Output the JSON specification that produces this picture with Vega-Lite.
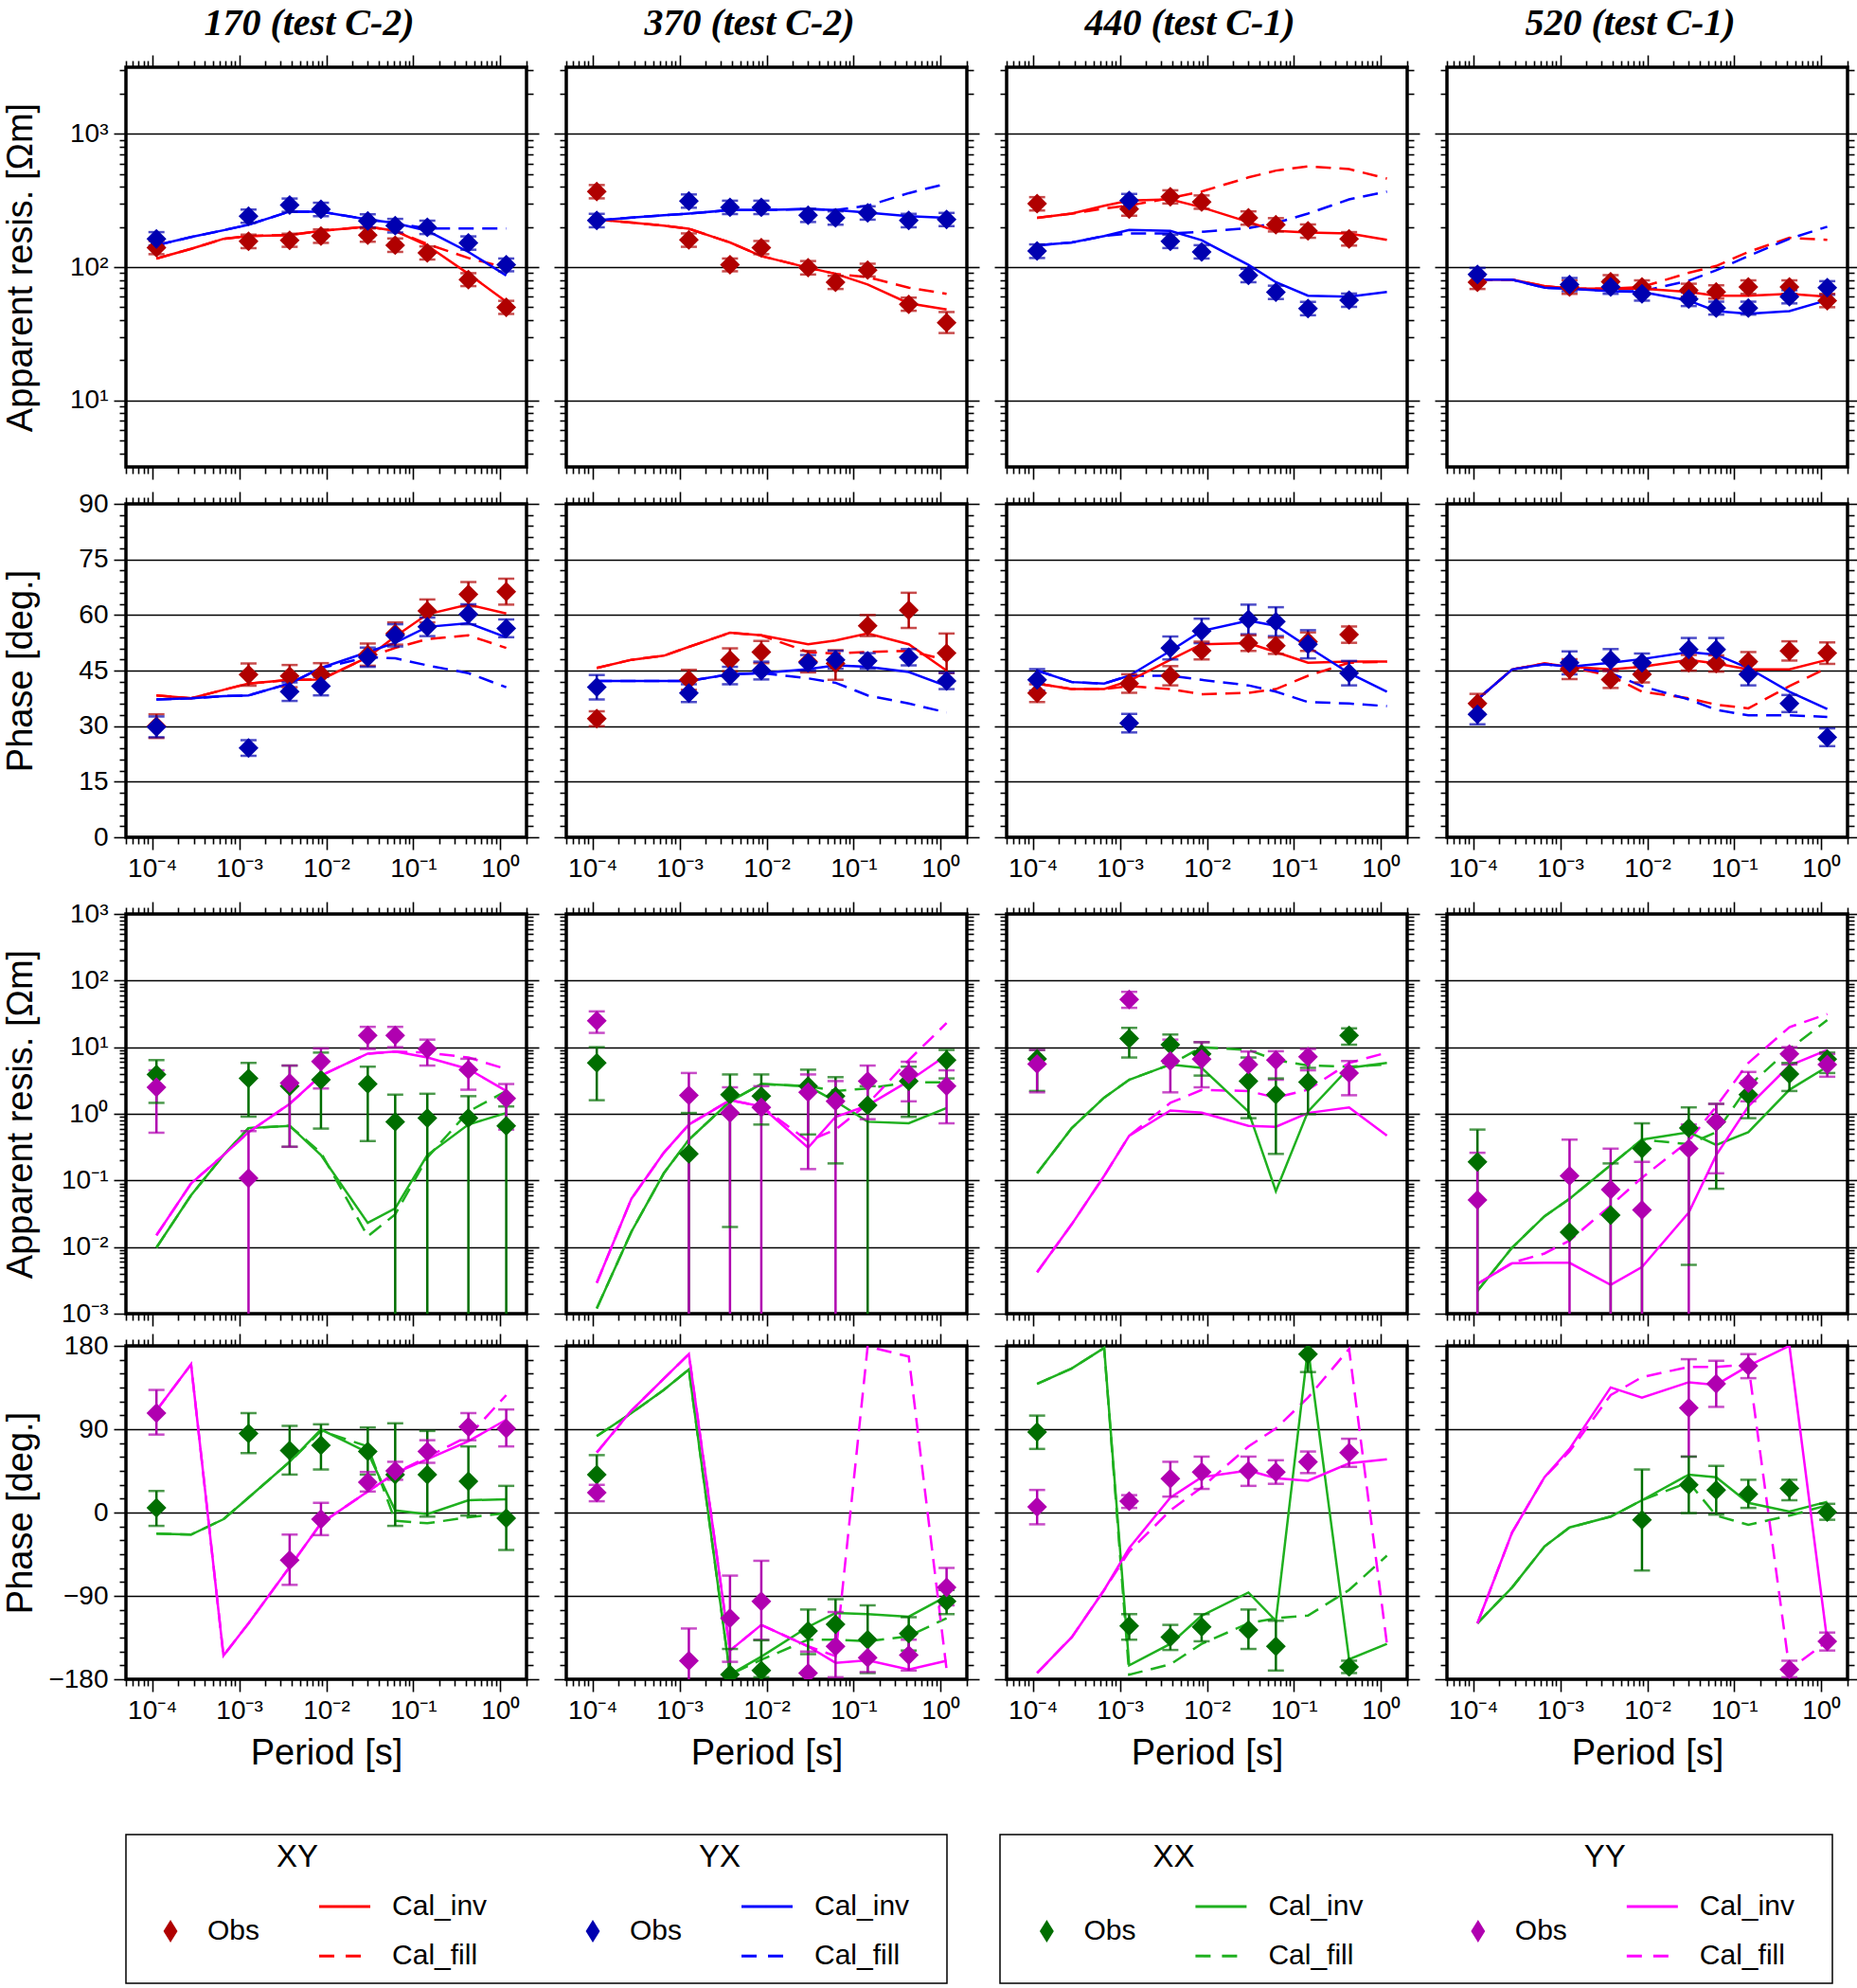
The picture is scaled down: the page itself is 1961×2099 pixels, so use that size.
{
"$schema":"https://vega.github.io/schema/vega-lite/v6.json",
"background":"white",
"padding":{"left":1,"top":3,"right":5,"bottom":0},
"data":{"values":[
{"site":170,"comp":"XY","q":"r","kind":"Obs","T":1.12e-4,"v":140,"lo":125,"hi":157},
{"site":170,"comp":"XY","q":"r","kind":"Obs","T":1.28e-3,"v":156,"lo":139,"hi":175},
{"site":170,"comp":"XY","q":"r","kind":"Obs","T":3.8e-3,"v":159,"lo":142,"hi":178},
{"site":170,"comp":"XY","q":"r","kind":"Obs","T":8.7e-3,"v":171,"lo":152,"hi":192},
{"site":170,"comp":"XY","q":"r","kind":"Obs","T":0.03,"v":174,"lo":155,"hi":195},
{"site":170,"comp":"XY","q":"r","kind":"Obs","T":0.062,"v":146,"lo":130,"hi":164},
{"site":170,"comp":"XY","q":"r","kind":"Obs","T":0.145,"v":128,"lo":114,"hi":143},
{"site":170,"comp":"XY","q":"r","kind":"Obs","T":0.43,"v":80.5,"lo":72,"hi":90},
{"site":170,"comp":"XY","q":"r","kind":"Obs","T":1.17,"v":49.8,"lo":44.5,"hi":55.8},
{"site":170,"comp":"YX","q":"r","kind":"Obs","T":1.12e-4,"v":163,"lo":145,"hi":183},
{"site":170,"comp":"YX","q":"r","kind":"Obs","T":1.28e-3,"v":241,"lo":215,"hi":270},
{"site":170,"comp":"YX","q":"r","kind":"Obs","T":3.8e-3,"v":292,"lo":260,"hi":327},
{"site":170,"comp":"YX","q":"r","kind":"Obs","T":8.7e-3,"v":271,"lo":241,"hi":304},
{"site":170,"comp":"YX","q":"r","kind":"Obs","T":0.03,"v":222,"lo":198,"hi":249},
{"site":170,"comp":"YX","q":"r","kind":"Obs","T":0.062,"v":205,"lo":182,"hi":230},
{"site":170,"comp":"YX","q":"r","kind":"Obs","T":0.145,"v":199,"lo":177,"hi":223},
{"site":170,"comp":"YX","q":"r","kind":"Obs","T":0.43,"v":152,"lo":135,"hi":170},
{"site":170,"comp":"YX","q":"r","kind":"Obs","T":1.17,"v":104,"lo":93,"hi":116},
{"site":170,"comp":"XY","q":"r","kind":"Cal_inv","T":1.12e-4,"v":116},
{"site":170,"comp":"XY","q":"r","kind":"Cal_inv","T":2.8e-4,"v":137},
{"site":170,"comp":"XY","q":"r","kind":"Cal_inv","T":6.6e-4,"v":163},
{"site":170,"comp":"XY","q":"r","kind":"Cal_inv","T":1.28e-3,"v":171},
{"site":170,"comp":"XY","q":"r","kind":"Cal_inv","T":3.8e-3,"v":174},
{"site":170,"comp":"XY","q":"r","kind":"Cal_inv","T":8.7e-3,"v":187},
{"site":170,"comp":"XY","q":"r","kind":"Cal_inv","T":0.03,"v":201},
{"site":170,"comp":"XY","q":"r","kind":"Cal_inv","T":0.062,"v":187},
{"site":170,"comp":"XY","q":"r","kind":"Cal_inv","T":0.145,"v":145},
{"site":170,"comp":"XY","q":"r","kind":"Cal_inv","T":0.43,"v":89},
{"site":170,"comp":"XY","q":"r","kind":"Cal_inv","T":1.17,"v":55},
{"site":170,"comp":"XY","q":"r","kind":"Cal_fill","T":1.12e-4,"v":116},
{"site":170,"comp":"XY","q":"r","kind":"Cal_fill","T":2.8e-4,"v":137},
{"site":170,"comp":"XY","q":"r","kind":"Cal_fill","T":6.6e-4,"v":163},
{"site":170,"comp":"XY","q":"r","kind":"Cal_fill","T":1.28e-3,"v":171},
{"site":170,"comp":"XY","q":"r","kind":"Cal_fill","T":3.8e-3,"v":174},
{"site":170,"comp":"XY","q":"r","kind":"Cal_fill","T":8.7e-3,"v":187},
{"site":170,"comp":"XY","q":"r","kind":"Cal_fill","T":0.03,"v":201},
{"site":170,"comp":"XY","q":"r","kind":"Cal_fill","T":0.062,"v":187},
{"site":170,"comp":"XY","q":"r","kind":"Cal_fill","T":0.145,"v":149},
{"site":170,"comp":"XY","q":"r","kind":"Cal_fill","T":0.43,"v":117},
{"site":170,"comp":"XY","q":"r","kind":"Cal_fill","T":1.17,"v":99},
{"site":170,"comp":"YX","q":"r","kind":"Cal_inv","T":1.12e-4,"v":146},
{"site":170,"comp":"YX","q":"r","kind":"Cal_inv","T":2.8e-4,"v":168},
{"site":170,"comp":"YX","q":"r","kind":"Cal_inv","T":6.6e-4,"v":189},
{"site":170,"comp":"YX","q":"r","kind":"Cal_inv","T":1.28e-3,"v":208},
{"site":170,"comp":"YX","q":"r","kind":"Cal_inv","T":3.8e-3,"v":261},
{"site":170,"comp":"YX","q":"r","kind":"Cal_inv","T":8.7e-3,"v":261},
{"site":170,"comp":"YX","q":"r","kind":"Cal_inv","T":0.03,"v":228},
{"site":170,"comp":"YX","q":"r","kind":"Cal_inv","T":0.062,"v":214},
{"site":170,"comp":"YX","q":"r","kind":"Cal_inv","T":0.145,"v":187},
{"site":170,"comp":"YX","q":"r","kind":"Cal_inv","T":0.43,"v":130},
{"site":170,"comp":"YX","q":"r","kind":"Cal_inv","T":1.17,"v":86.5},
{"site":170,"comp":"YX","q":"r","kind":"Cal_fill","T":1.12e-4,"v":146},
{"site":170,"comp":"YX","q":"r","kind":"Cal_fill","T":2.8e-4,"v":168},
{"site":170,"comp":"YX","q":"r","kind":"Cal_fill","T":6.6e-4,"v":189},
{"site":170,"comp":"YX","q":"r","kind":"Cal_fill","T":1.28e-3,"v":208},
{"site":170,"comp":"YX","q":"r","kind":"Cal_fill","T":3.8e-3,"v":261},
{"site":170,"comp":"YX","q":"r","kind":"Cal_fill","T":8.7e-3,"v":261},
{"site":170,"comp":"YX","q":"r","kind":"Cal_fill","T":0.03,"v":228},
{"site":170,"comp":"YX","q":"r","kind":"Cal_fill","T":0.062,"v":214},
{"site":170,"comp":"YX","q":"r","kind":"Cal_fill","T":0.145,"v":195},
{"site":170,"comp":"YX","q":"r","kind":"Cal_fill","T":0.43,"v":195},
{"site":170,"comp":"YX","q":"r","kind":"Cal_fill","T":1.17,"v":195},
{"site":170,"comp":"XY","q":"p","kind":"Obs","T":1.12e-4,"v":30.0,"lo":26.8,"hi":33.2},
{"site":170,"comp":"XY","q":"p","kind":"Obs","T":1.28e-3,"v":43.9,"lo":40.9,"hi":46.9},
{"site":170,"comp":"XY","q":"p","kind":"Obs","T":3.8e-3,"v":43.5,"lo":40.5,"hi":46.5},
{"site":170,"comp":"XY","q":"p","kind":"Obs","T":8.7e-3,"v":44.0,"lo":41.0,"hi":47.0},
{"site":170,"comp":"XY","q":"p","kind":"Obs","T":0.03,"v":49.3,"lo":46.3,"hi":52.3},
{"site":170,"comp":"XY","q":"p","kind":"Obs","T":0.062,"v":55.0,"lo":52.0,"hi":58.0},
{"site":170,"comp":"XY","q":"p","kind":"Obs","T":0.145,"v":61.1,"lo":58.0,"hi":64.2},
{"site":170,"comp":"XY","q":"p","kind":"Obs","T":0.43,"v":65.6,"lo":62.3,"hi":68.9},
{"site":170,"comp":"XY","q":"p","kind":"Obs","T":1.17,"v":66.3,"lo":62.8,"hi":69.8},
{"site":170,"comp":"YX","q":"p","kind":"Obs","T":1.12e-4,"v":29.8,"lo":27.0,"hi":32.6},
{"site":170,"comp":"YX","q":"p","kind":"Obs","T":1.28e-3,"v":24.1,"lo":22.0,"hi":26.2},
{"site":170,"comp":"YX","q":"p","kind":"Obs","T":3.8e-3,"v":39.3,"lo":36.8,"hi":41.8},
{"site":170,"comp":"YX","q":"p","kind":"Obs","T":8.7e-3,"v":40.8,"lo":38.3,"hi":43.3},
{"site":170,"comp":"YX","q":"p","kind":"Obs","T":0.03,"v":48.6,"lo":46.0,"hi":51.2},
{"site":170,"comp":"YX","q":"p","kind":"Obs","T":0.062,"v":54.5,"lo":51.5,"hi":57.5},
{"site":170,"comp":"YX","q":"p","kind":"Obs","T":0.145,"v":56.8,"lo":54.3,"hi":59.3},
{"site":170,"comp":"YX","q":"p","kind":"Obs","T":0.43,"v":60.2,"lo":57.5,"hi":62.9},
{"site":170,"comp":"YX","q":"p","kind":"Obs","T":1.17,"v":56.4,"lo":54.0,"hi":58.8},
{"site":170,"comp":"XY","q":"p","kind":"Cal_inv","T":1.12e-4,"v":38.3},
{"site":170,"comp":"XY","q":"p","kind":"Cal_inv","T":2.8e-4,"v":37.5},
{"site":170,"comp":"XY","q":"p","kind":"Cal_inv","T":6.6e-4,"v":39.8},
{"site":170,"comp":"XY","q":"p","kind":"Cal_inv","T":1.28e-3,"v":41.5},
{"site":170,"comp":"XY","q":"p","kind":"Cal_inv","T":3.8e-3,"v":42.5},
{"site":170,"comp":"XY","q":"p","kind":"Cal_inv","T":8.7e-3,"v":42.6},
{"site":170,"comp":"XY","q":"p","kind":"Cal_inv","T":0.03,"v":48.6},
{"site":170,"comp":"XY","q":"p","kind":"Cal_inv","T":0.062,"v":54.2},
{"site":170,"comp":"XY","q":"p","kind":"Cal_inv","T":0.145,"v":60.2},
{"site":170,"comp":"XY","q":"p","kind":"Cal_inv","T":0.43,"v":62.8},
{"site":170,"comp":"XY","q":"p","kind":"Cal_inv","T":1.17,"v":60.4},
{"site":170,"comp":"XY","q":"p","kind":"Cal_fill","T":1.12e-4,"v":38.3},
{"site":170,"comp":"XY","q":"p","kind":"Cal_fill","T":2.8e-4,"v":37.5},
{"site":170,"comp":"XY","q":"p","kind":"Cal_fill","T":6.6e-4,"v":39.8},
{"site":170,"comp":"XY","q":"p","kind":"Cal_fill","T":1.28e-3,"v":41.5},
{"site":170,"comp":"XY","q":"p","kind":"Cal_fill","T":3.8e-3,"v":42.5},
{"site":170,"comp":"XY","q":"p","kind":"Cal_fill","T":8.7e-3,"v":42.6},
{"site":170,"comp":"XY","q":"p","kind":"Cal_fill","T":0.03,"v":48.6},
{"site":170,"comp":"XY","q":"p","kind":"Cal_fill","T":0.062,"v":51.1},
{"site":170,"comp":"XY","q":"p","kind":"Cal_fill","T":0.145,"v":53.5},
{"site":170,"comp":"XY","q":"p","kind":"Cal_fill","T":0.43,"v":54.5},
{"site":170,"comp":"XY","q":"p","kind":"Cal_fill","T":1.17,"v":51.1},
{"site":170,"comp":"YX","q":"p","kind":"Cal_inv","T":1.12e-4,"v":37.2},
{"site":170,"comp":"YX","q":"p","kind":"Cal_inv","T":2.8e-4,"v":37.5},
{"site":170,"comp":"YX","q":"p","kind":"Cal_inv","T":6.6e-4,"v":38.1},
{"site":170,"comp":"YX","q":"p","kind":"Cal_inv","T":1.28e-3,"v":38.3},
{"site":170,"comp":"YX","q":"p","kind":"Cal_inv","T":3.8e-3,"v":41.5},
{"site":170,"comp":"YX","q":"p","kind":"Cal_inv","T":8.7e-3,"v":45.7},
{"site":170,"comp":"YX","q":"p","kind":"Cal_inv","T":0.03,"v":50.0},
{"site":170,"comp":"YX","q":"p","kind":"Cal_inv","T":0.062,"v":52.5},
{"site":170,"comp":"YX","q":"p","kind":"Cal_inv","T":0.145,"v":56.8},
{"site":170,"comp":"YX","q":"p","kind":"Cal_inv","T":0.43,"v":57.8},
{"site":170,"comp":"YX","q":"p","kind":"Cal_inv","T":1.17,"v":54.0},
{"site":170,"comp":"YX","q":"p","kind":"Cal_fill","T":1.12e-4,"v":37.2},
{"site":170,"comp":"YX","q":"p","kind":"Cal_fill","T":2.8e-4,"v":37.5},
{"site":170,"comp":"YX","q":"p","kind":"Cal_fill","T":6.6e-4,"v":38.1},
{"site":170,"comp":"YX","q":"p","kind":"Cal_fill","T":1.28e-3,"v":38.3},
{"site":170,"comp":"YX","q":"p","kind":"Cal_fill","T":3.8e-3,"v":41.5},
{"site":170,"comp":"YX","q":"p","kind":"Cal_fill","T":8.7e-3,"v":45.7},
{"site":170,"comp":"YX","q":"p","kind":"Cal_fill","T":0.03,"v":48.6},
{"site":170,"comp":"YX","q":"p","kind":"Cal_fill","T":0.062,"v":48.3},
{"site":170,"comp":"YX","q":"p","kind":"Cal_fill","T":0.145,"v":46.4},
{"site":170,"comp":"YX","q":"p","kind":"Cal_fill","T":0.43,"v":44.3},
{"site":170,"comp":"YX","q":"p","kind":"Cal_fill","T":1.17,"v":40.5},
{"site":370,"comp":"XY","q":"r","kind":"Obs","T":1.12e-4,"v":369,"lo":328,"hi":413},
{"site":370,"comp":"XY","q":"r","kind":"Obs","T":1.28e-3,"v":160,"lo":142,"hi":179},
{"site":370,"comp":"XY","q":"r","kind":"Obs","T":3.8e-3,"v":104,"lo":93,"hi":116},
{"site":370,"comp":"XY","q":"r","kind":"Obs","T":8.7e-3,"v":140,"lo":125,"hi":157},
{"site":370,"comp":"XY","q":"r","kind":"Obs","T":0.03,"v":99,"lo":88,"hi":111},
{"site":370,"comp":"XY","q":"r","kind":"Obs","T":0.062,"v":77,"lo":68.5,"hi":86},
{"site":370,"comp":"XY","q":"r","kind":"Obs","T":0.145,"v":95,"lo":85,"hi":106},
{"site":370,"comp":"XY","q":"r","kind":"Obs","T":0.43,"v":52.5,"lo":47,"hi":59},
{"site":370,"comp":"XY","q":"r","kind":"Obs","T":1.17,"v":38.3,"lo":32,"hi":46},
{"site":370,"comp":"YX","q":"r","kind":"Obs","T":1.12e-4,"v":224,"lo":199,"hi":251},
{"site":370,"comp":"YX","q":"r","kind":"Obs","T":1.28e-3,"v":313,"lo":279,"hi":351},
{"site":370,"comp":"YX","q":"r","kind":"Obs","T":3.8e-3,"v":281,"lo":250,"hi":315},
{"site":370,"comp":"YX","q":"r","kind":"Obs","T":8.7e-3,"v":281,"lo":250,"hi":315},
{"site":370,"comp":"YX","q":"r","kind":"Obs","T":0.03,"v":245,"lo":218,"hi":274},
{"site":370,"comp":"YX","q":"r","kind":"Obs","T":0.062,"v":234,"lo":208,"hi":262},
{"site":370,"comp":"YX","q":"r","kind":"Obs","T":0.145,"v":255,"lo":227,"hi":286},
{"site":370,"comp":"YX","q":"r","kind":"Obs","T":0.43,"v":224,"lo":199,"hi":251},
{"site":370,"comp":"YX","q":"r","kind":"Obs","T":1.17,"v":228,"lo":203,"hi":255},
{"site":370,"comp":"XY","q":"r","kind":"Cal_inv","T":1.12e-4,"v":228},
{"site":370,"comp":"XY","q":"r","kind":"Cal_inv","T":2.8e-4,"v":216},
{"site":370,"comp":"XY","q":"r","kind":"Cal_inv","T":6.6e-4,"v":205},
{"site":370,"comp":"XY","q":"r","kind":"Cal_inv","T":1.28e-3,"v":194},
{"site":370,"comp":"XY","q":"r","kind":"Cal_inv","T":3.8e-3,"v":153},
{"site":370,"comp":"XY","q":"r","kind":"Cal_inv","T":8.7e-3,"v":121},
{"site":370,"comp":"XY","q":"r","kind":"Cal_inv","T":0.03,"v":99},
{"site":370,"comp":"XY","q":"r","kind":"Cal_inv","T":0.062,"v":89},
{"site":370,"comp":"XY","q":"r","kind":"Cal_inv","T":0.145,"v":74},
{"site":370,"comp":"XY","q":"r","kind":"Cal_inv","T":0.43,"v":53.5},
{"site":370,"comp":"XY","q":"r","kind":"Cal_inv","T":1.17,"v":48},
{"site":370,"comp":"XY","q":"r","kind":"Cal_fill","T":1.12e-4,"v":228},
{"site":370,"comp":"XY","q":"r","kind":"Cal_fill","T":2.8e-4,"v":216},
{"site":370,"comp":"XY","q":"r","kind":"Cal_fill","T":6.6e-4,"v":205},
{"site":370,"comp":"XY","q":"r","kind":"Cal_fill","T":1.28e-3,"v":194},
{"site":370,"comp":"XY","q":"r","kind":"Cal_fill","T":3.8e-3,"v":153},
{"site":370,"comp":"XY","q":"r","kind":"Cal_fill","T":8.7e-3,"v":121},
{"site":370,"comp":"XY","q":"r","kind":"Cal_fill","T":0.03,"v":99},
{"site":370,"comp":"XY","q":"r","kind":"Cal_fill","T":0.062,"v":89},
{"site":370,"comp":"XY","q":"r","kind":"Cal_fill","T":0.145,"v":84},
{"site":370,"comp":"XY","q":"r","kind":"Cal_fill","T":0.43,"v":70},
{"site":370,"comp":"XY","q":"r","kind":"Cal_fill","T":1.17,"v":63},
{"site":370,"comp":"YX","q":"r","kind":"Cal_inv","T":1.12e-4,"v":224},
{"site":370,"comp":"YX","q":"r","kind":"Cal_inv","T":2.8e-4,"v":235},
{"site":370,"comp":"YX","q":"r","kind":"Cal_inv","T":6.6e-4,"v":245},
{"site":370,"comp":"YX","q":"r","kind":"Cal_inv","T":1.28e-3,"v":252},
{"site":370,"comp":"YX","q":"r","kind":"Cal_inv","T":3.8e-3,"v":268},
{"site":370,"comp":"YX","q":"r","kind":"Cal_inv","T":8.7e-3,"v":268},
{"site":370,"comp":"YX","q":"r","kind":"Cal_inv","T":0.03,"v":273},
{"site":370,"comp":"YX","q":"r","kind":"Cal_inv","T":0.062,"v":268},
{"site":370,"comp":"YX","q":"r","kind":"Cal_inv","T":0.145,"v":256},
{"site":370,"comp":"YX","q":"r","kind":"Cal_inv","T":0.43,"v":241},
{"site":370,"comp":"YX","q":"r","kind":"Cal_inv","T":1.17,"v":234},
{"site":370,"comp":"YX","q":"r","kind":"Cal_fill","T":1.12e-4,"v":224},
{"site":370,"comp":"YX","q":"r","kind":"Cal_fill","T":2.8e-4,"v":235},
{"site":370,"comp":"YX","q":"r","kind":"Cal_fill","T":6.6e-4,"v":245},
{"site":370,"comp":"YX","q":"r","kind":"Cal_fill","T":1.28e-3,"v":252},
{"site":370,"comp":"YX","q":"r","kind":"Cal_fill","T":3.8e-3,"v":268},
{"site":370,"comp":"YX","q":"r","kind":"Cal_fill","T":8.7e-3,"v":268},
{"site":370,"comp":"YX","q":"r","kind":"Cal_fill","T":0.03,"v":273},
{"site":370,"comp":"YX","q":"r","kind":"Cal_fill","T":0.062,"v":268},
{"site":370,"comp":"YX","q":"r","kind":"Cal_fill","T":0.145,"v":289},
{"site":370,"comp":"YX","q":"r","kind":"Cal_fill","T":0.43,"v":359},
{"site":370,"comp":"YX","q":"r","kind":"Cal_fill","T":1.17,"v":423},
{"site":370,"comp":"XY","q":"p","kind":"Obs","T":1.12e-4,"v":32.0,"lo":30.0,"hi":34.0},
{"site":370,"comp":"XY","q":"p","kind":"Obs","T":1.28e-3,"v":42.5,"lo":39.8,"hi":45.2},
{"site":370,"comp":"XY","q":"p","kind":"Obs","T":3.8e-3,"v":47.9,"lo":44.8,"hi":51.0},
{"site":370,"comp":"XY","q":"p","kind":"Obs","T":8.7e-3,"v":50.0,"lo":47.0,"hi":53.0},
{"site":370,"comp":"XY","q":"p","kind":"Obs","T":0.03,"v":47.4,"lo":44.5,"hi":50.3},
{"site":370,"comp":"XY","q":"p","kind":"Obs","T":0.062,"v":46.9,"lo":42.5,"hi":50.5},
{"site":370,"comp":"XY","q":"p","kind":"Obs","T":0.145,"v":57.1,"lo":54.3,"hi":60.0},
{"site":370,"comp":"XY","q":"p","kind":"Obs","T":0.43,"v":61.3,"lo":56.5,"hi":66.0},
{"site":370,"comp":"XY","q":"p","kind":"Obs","T":1.17,"v":49.7,"lo":44.3,"hi":55.0},
{"site":370,"comp":"YX","q":"p","kind":"Obs","T":1.12e-4,"v":40.5,"lo":37.2,"hi":43.8},
{"site":370,"comp":"YX","q":"p","kind":"Obs","T":1.28e-3,"v":38.9,"lo":36.5,"hi":41.3},
{"site":370,"comp":"YX","q":"p","kind":"Obs","T":3.8e-3,"v":43.6,"lo":41.3,"hi":46.0},
{"site":370,"comp":"YX","q":"p","kind":"Obs","T":8.7e-3,"v":45.0,"lo":42.6,"hi":47.4},
{"site":370,"comp":"YX","q":"p","kind":"Obs","T":0.03,"v":47.1,"lo":45.0,"hi":49.2},
{"site":370,"comp":"YX","q":"p","kind":"Obs","T":0.062,"v":47.9,"lo":45.5,"hi":50.3},
{"site":370,"comp":"YX","q":"p","kind":"Obs","T":0.145,"v":47.6,"lo":45.5,"hi":49.7},
{"site":370,"comp":"YX","q":"p","kind":"Obs","T":0.43,"v":48.6,"lo":46.4,"hi":50.8},
{"site":370,"comp":"YX","q":"p","kind":"Obs","T":1.17,"v":42.2,"lo":40.0,"hi":44.4},
{"site":370,"comp":"XY","q":"p","kind":"Cal_inv","T":1.12e-4,"v":45.7},
{"site":370,"comp":"XY","q":"p","kind":"Cal_inv","T":2.8e-4,"v":47.9},
{"site":370,"comp":"XY","q":"p","kind":"Cal_inv","T":6.6e-4,"v":49.0},
{"site":370,"comp":"XY","q":"p","kind":"Cal_inv","T":1.28e-3,"v":51.4},
{"site":370,"comp":"XY","q":"p","kind":"Cal_inv","T":3.8e-3,"v":55.2},
{"site":370,"comp":"XY","q":"p","kind":"Cal_inv","T":8.7e-3,"v":54.5},
{"site":370,"comp":"XY","q":"p","kind":"Cal_inv","T":0.03,"v":52.1},
{"site":370,"comp":"XY","q":"p","kind":"Cal_inv","T":0.062,"v":53.1},
{"site":370,"comp":"XY","q":"p","kind":"Cal_inv","T":0.145,"v":55.0},
{"site":370,"comp":"XY","q":"p","kind":"Cal_inv","T":0.43,"v":52.1},
{"site":370,"comp":"XY","q":"p","kind":"Cal_inv","T":1.17,"v":45.0},
{"site":370,"comp":"XY","q":"p","kind":"Cal_fill","T":1.12e-4,"v":45.7},
{"site":370,"comp":"XY","q":"p","kind":"Cal_fill","T":2.8e-4,"v":47.9},
{"site":370,"comp":"XY","q":"p","kind":"Cal_fill","T":6.6e-4,"v":49.0},
{"site":370,"comp":"XY","q":"p","kind":"Cal_fill","T":1.28e-3,"v":51.4},
{"site":370,"comp":"XY","q":"p","kind":"Cal_fill","T":3.8e-3,"v":55.2},
{"site":370,"comp":"XY","q":"p","kind":"Cal_fill","T":8.7e-3,"v":54.5},
{"site":370,"comp":"XY","q":"p","kind":"Cal_fill","T":0.03,"v":50.0},
{"site":370,"comp":"XY","q":"p","kind":"Cal_fill","T":0.062,"v":49.6},
{"site":370,"comp":"XY","q":"p","kind":"Cal_fill","T":0.145,"v":50.0},
{"site":370,"comp":"XY","q":"p","kind":"Cal_fill","T":0.43,"v":50.3},
{"site":370,"comp":"XY","q":"p","kind":"Cal_fill","T":1.17,"v":47.9},
{"site":370,"comp":"YX","q":"p","kind":"Cal_inv","T":1.12e-4,"v":42.2},
{"site":370,"comp":"YX","q":"p","kind":"Cal_inv","T":2.8e-4,"v":42.2},
{"site":370,"comp":"YX","q":"p","kind":"Cal_inv","T":6.6e-4,"v":42.2},
{"site":370,"comp":"YX","q":"p","kind":"Cal_inv","T":1.28e-3,"v":42.2},
{"site":370,"comp":"YX","q":"p","kind":"Cal_inv","T":3.8e-3,"v":44.0},
{"site":370,"comp":"YX","q":"p","kind":"Cal_inv","T":8.7e-3,"v":44.3},
{"site":370,"comp":"YX","q":"p","kind":"Cal_inv","T":0.03,"v":45.4},
{"site":370,"comp":"YX","q":"p","kind":"Cal_inv","T":0.062,"v":46.4},
{"site":370,"comp":"YX","q":"p","kind":"Cal_inv","T":0.145,"v":46.0},
{"site":370,"comp":"YX","q":"p","kind":"Cal_inv","T":0.43,"v":44.6},
{"site":370,"comp":"YX","q":"p","kind":"Cal_inv","T":1.17,"v":40.8},
{"site":370,"comp":"YX","q":"p","kind":"Cal_fill","T":1.12e-4,"v":42.2},
{"site":370,"comp":"YX","q":"p","kind":"Cal_fill","T":2.8e-4,"v":42.2},
{"site":370,"comp":"YX","q":"p","kind":"Cal_fill","T":6.6e-4,"v":42.2},
{"site":370,"comp":"YX","q":"p","kind":"Cal_fill","T":1.28e-3,"v":42.2},
{"site":370,"comp":"YX","q":"p","kind":"Cal_fill","T":3.8e-3,"v":44.0},
{"site":370,"comp":"YX","q":"p","kind":"Cal_fill","T":8.7e-3,"v":44.3},
{"site":370,"comp":"YX","q":"p","kind":"Cal_fill","T":0.03,"v":42.9},
{"site":370,"comp":"YX","q":"p","kind":"Cal_fill","T":0.062,"v":41.7},
{"site":370,"comp":"YX","q":"p","kind":"Cal_fill","T":0.145,"v":38.3},
{"site":370,"comp":"YX","q":"p","kind":"Cal_fill","T":0.43,"v":36.1},
{"site":370,"comp":"YX","q":"p","kind":"Cal_fill","T":1.17,"v":33.7},
{"site":440,"comp":"XY","q":"r","kind":"Obs","T":1.12e-4,"v":299,"lo":266,"hi":335},
{"site":440,"comp":"XY","q":"r","kind":"Obs","T":1.28e-3,"v":273,"lo":243,"hi":306},
{"site":440,"comp":"XY","q":"r","kind":"Obs","T":3.8e-3,"v":337,"lo":300,"hi":377},
{"site":440,"comp":"XY","q":"r","kind":"Obs","T":8.7e-3,"v":308,"lo":274,"hi":345},
{"site":440,"comp":"XY","q":"r","kind":"Obs","T":0.03,"v":234,"lo":208,"hi":262},
{"site":440,"comp":"XY","q":"r","kind":"Obs","T":0.062,"v":208,"lo":185,"hi":233},
{"site":440,"comp":"XY","q":"r","kind":"Obs","T":0.145,"v":187,"lo":166,"hi":209},
{"site":440,"comp":"XY","q":"r","kind":"Obs","T":0.43,"v":163,"lo":145,"hi":183},
{"site":440,"comp":"YX","q":"r","kind":"Obs","T":1.12e-4,"v":132,"lo":117,"hi":148},
{"site":440,"comp":"YX","q":"r","kind":"Obs","T":1.28e-3,"v":316,"lo":281,"hi":354},
{"site":440,"comp":"YX","q":"r","kind":"Obs","T":3.8e-3,"v":156,"lo":139,"hi":175},
{"site":440,"comp":"YX","q":"r","kind":"Obs","T":8.7e-3,"v":130,"lo":116,"hi":146},
{"site":440,"comp":"YX","q":"r","kind":"Obs","T":0.03,"v":86.5,"lo":77,"hi":97},
{"site":440,"comp":"YX","q":"r","kind":"Obs","T":0.062,"v":64.7,"lo":57.6,"hi":72.5},
{"site":440,"comp":"YX","q":"r","kind":"Obs","T":0.145,"v":48.9,"lo":43.5,"hi":54.8},
{"site":440,"comp":"YX","q":"r","kind":"Obs","T":0.43,"v":56.5,"lo":50.3,"hi":63.3},
{"site":440,"comp":"XY","q":"r","kind":"Cal_inv","T":1.12e-4,"v":234},
{"site":440,"comp":"XY","q":"r","kind":"Cal_inv","T":2.8e-4,"v":252},
{"site":440,"comp":"XY","q":"r","kind":"Cal_inv","T":6.6e-4,"v":289},
{"site":440,"comp":"XY","q":"r","kind":"Cal_inv","T":1.28e-3,"v":316},
{"site":440,"comp":"XY","q":"r","kind":"Cal_inv","T":3.8e-3,"v":322},
{"site":440,"comp":"XY","q":"r","kind":"Cal_inv","T":8.7e-3,"v":281},
{"site":440,"comp":"XY","q":"r","kind":"Cal_inv","T":0.03,"v":218},
{"site":440,"comp":"XY","q":"r","kind":"Cal_inv","T":0.062,"v":187},
{"site":440,"comp":"XY","q":"r","kind":"Cal_inv","T":0.145,"v":182},
{"site":440,"comp":"XY","q":"r","kind":"Cal_inv","T":0.43,"v":179},
{"site":440,"comp":"XY","q":"r","kind":"Cal_inv","T":1.17,"v":160},
{"site":440,"comp":"XY","q":"r","kind":"Cal_fill","T":1.12e-4,"v":234},
{"site":440,"comp":"XY","q":"r","kind":"Cal_fill","T":2.8e-4,"v":252},
{"site":440,"comp":"XY","q":"r","kind":"Cal_fill","T":6.6e-4,"v":275},
{"site":440,"comp":"XY","q":"r","kind":"Cal_fill","T":1.28e-3,"v":290},
{"site":440,"comp":"XY","q":"r","kind":"Cal_fill","T":3.8e-3,"v":330},
{"site":440,"comp":"XY","q":"r","kind":"Cal_fill","T":8.7e-3,"v":369},
{"site":440,"comp":"XY","q":"r","kind":"Cal_fill","T":0.03,"v":471},
{"site":440,"comp":"XY","q":"r","kind":"Cal_fill","T":0.062,"v":530},
{"site":440,"comp":"XY","q":"r","kind":"Cal_fill","T":0.145,"v":570},
{"site":440,"comp":"XY","q":"r","kind":"Cal_fill","T":0.43,"v":544},
{"site":440,"comp":"XY","q":"r","kind":"Cal_fill","T":1.17,"v":462},
{"site":440,"comp":"YX","q":"r","kind":"Cal_inv","T":1.12e-4,"v":146},
{"site":440,"comp":"YX","q":"r","kind":"Cal_inv","T":2.8e-4,"v":153},
{"site":440,"comp":"YX","q":"r","kind":"Cal_inv","T":6.6e-4,"v":171},
{"site":440,"comp":"YX","q":"r","kind":"Cal_inv","T":1.28e-3,"v":190},
{"site":440,"comp":"YX","q":"r","kind":"Cal_inv","T":3.8e-3,"v":187},
{"site":440,"comp":"YX","q":"r","kind":"Cal_inv","T":8.7e-3,"v":159},
{"site":440,"comp":"YX","q":"r","kind":"Cal_inv","T":0.03,"v":104},
{"site":440,"comp":"YX","q":"r","kind":"Cal_inv","T":0.062,"v":77},
{"site":440,"comp":"YX","q":"r","kind":"Cal_inv","T":0.145,"v":61},
{"site":440,"comp":"YX","q":"r","kind":"Cal_inv","T":0.43,"v":60},
{"site":440,"comp":"YX","q":"r","kind":"Cal_inv","T":1.17,"v":65},
{"site":440,"comp":"YX","q":"r","kind":"Cal_fill","T":1.12e-4,"v":146},
{"site":440,"comp":"YX","q":"r","kind":"Cal_fill","T":2.8e-4,"v":153},
{"site":440,"comp":"YX","q":"r","kind":"Cal_fill","T":6.6e-4,"v":171},
{"site":440,"comp":"YX","q":"r","kind":"Cal_fill","T":1.28e-3,"v":179},
{"site":440,"comp":"YX","q":"r","kind":"Cal_fill","T":3.8e-3,"v":179},
{"site":440,"comp":"YX","q":"r","kind":"Cal_fill","T":8.7e-3,"v":184},
{"site":440,"comp":"YX","q":"r","kind":"Cal_fill","T":0.03,"v":196},
{"site":440,"comp":"YX","q":"r","kind":"Cal_fill","T":0.062,"v":214},
{"site":440,"comp":"YX","q":"r","kind":"Cal_fill","T":0.145,"v":252},
{"site":440,"comp":"YX","q":"r","kind":"Cal_fill","T":0.43,"v":322},
{"site":440,"comp":"YX","q":"r","kind":"Cal_fill","T":1.17,"v":369},
{"site":440,"comp":"XY","q":"p","kind":"Obs","T":1.12e-4,"v":38.9,"lo":36.5,"hi":41.3},
{"site":440,"comp":"XY","q":"p","kind":"Obs","T":1.28e-3,"v":41.5,"lo":39.0,"hi":44.0},
{"site":440,"comp":"XY","q":"p","kind":"Obs","T":3.8e-3,"v":43.6,"lo":41.0,"hi":46.2},
{"site":440,"comp":"XY","q":"p","kind":"Obs","T":8.7e-3,"v":50.4,"lo":48.0,"hi":52.8},
{"site":440,"comp":"XY","q":"p","kind":"Obs","T":0.03,"v":52.4,"lo":50.3,"hi":54.5},
{"site":440,"comp":"XY","q":"p","kind":"Obs","T":0.062,"v":51.7,"lo":49.5,"hi":53.9},
{"site":440,"comp":"XY","q":"p","kind":"Obs","T":0.145,"v":52.8,"lo":50.3,"hi":55.3},
{"site":440,"comp":"XY","q":"p","kind":"Obs","T":0.43,"v":54.7,"lo":52.5,"hi":56.9},
{"site":440,"comp":"YX","q":"p","kind":"Obs","T":1.12e-4,"v":42.5,"lo":39.6,"hi":45.4},
{"site":440,"comp":"YX","q":"p","kind":"Obs","T":1.28e-3,"v":30.8,"lo":28.3,"hi":33.3},
{"site":440,"comp":"YX","q":"p","kind":"Obs","T":3.8e-3,"v":51.1,"lo":48.0,"hi":54.2},
{"site":440,"comp":"YX","q":"p","kind":"Obs","T":8.7e-3,"v":55.7,"lo":52.4,"hi":59.0},
{"site":440,"comp":"YX","q":"p","kind":"Obs","T":0.03,"v":58.8,"lo":54.8,"hi":62.8},
{"site":440,"comp":"YX","q":"p","kind":"Obs","T":0.062,"v":58.2,"lo":54.3,"hi":62.1},
{"site":440,"comp":"YX","q":"p","kind":"Obs","T":0.145,"v":52.1,"lo":48.3,"hi":55.9},
{"site":440,"comp":"YX","q":"p","kind":"Obs","T":0.43,"v":44.3,"lo":41.0,"hi":47.6},
{"site":440,"comp":"XY","q":"p","kind":"Cal_inv","T":1.12e-4,"v":41.5},
{"site":440,"comp":"XY","q":"p","kind":"Cal_inv","T":2.8e-4,"v":40.0},
{"site":440,"comp":"XY","q":"p","kind":"Cal_inv","T":6.6e-4,"v":40.0},
{"site":440,"comp":"XY","q":"p","kind":"Cal_inv","T":1.28e-3,"v":42.2},
{"site":440,"comp":"XY","q":"p","kind":"Cal_inv","T":3.8e-3,"v":47.9},
{"site":440,"comp":"XY","q":"p","kind":"Cal_inv","T":8.7e-3,"v":52.1},
{"site":440,"comp":"XY","q":"p","kind":"Cal_inv","T":0.03,"v":52.4},
{"site":440,"comp":"XY","q":"p","kind":"Cal_inv","T":0.062,"v":50.0},
{"site":440,"comp":"XY","q":"p","kind":"Cal_inv","T":0.145,"v":47.1},
{"site":440,"comp":"XY","q":"p","kind":"Cal_inv","T":0.43,"v":47.4},
{"site":440,"comp":"XY","q":"p","kind":"Cal_inv","T":1.17,"v":47.4},
{"site":440,"comp":"XY","q":"p","kind":"Cal_fill","T":1.12e-4,"v":41.5},
{"site":440,"comp":"XY","q":"p","kind":"Cal_fill","T":2.8e-4,"v":40.0},
{"site":440,"comp":"XY","q":"p","kind":"Cal_fill","T":6.6e-4,"v":40.0},
{"site":440,"comp":"XY","q":"p","kind":"Cal_fill","T":1.28e-3,"v":40.8},
{"site":440,"comp":"XY","q":"p","kind":"Cal_fill","T":3.8e-3,"v":40.0},
{"site":440,"comp":"XY","q":"p","kind":"Cal_fill","T":8.7e-3,"v":38.6},
{"site":440,"comp":"XY","q":"p","kind":"Cal_fill","T":0.03,"v":39.0},
{"site":440,"comp":"XY","q":"p","kind":"Cal_fill","T":0.062,"v":40.0},
{"site":440,"comp":"XY","q":"p","kind":"Cal_fill","T":0.145,"v":43.6},
{"site":440,"comp":"XY","q":"p","kind":"Cal_fill","T":0.43,"v":47.1},
{"site":440,"comp":"XY","q":"p","kind":"Cal_fill","T":1.17,"v":47.4},
{"site":440,"comp":"YX","q":"p","kind":"Cal_inv","T":1.12e-4,"v":45.0},
{"site":440,"comp":"YX","q":"p","kind":"Cal_inv","T":2.8e-4,"v":41.9},
{"site":440,"comp":"YX","q":"p","kind":"Cal_inv","T":6.6e-4,"v":41.5},
{"site":440,"comp":"YX","q":"p","kind":"Cal_inv","T":1.28e-3,"v":43.6},
{"site":440,"comp":"YX","q":"p","kind":"Cal_inv","T":3.8e-3,"v":50.3},
{"site":440,"comp":"YX","q":"p","kind":"Cal_inv","T":8.7e-3,"v":55.7},
{"site":440,"comp":"YX","q":"p","kind":"Cal_inv","T":0.03,"v":58.5},
{"site":440,"comp":"YX","q":"p","kind":"Cal_inv","T":0.062,"v":57.1},
{"site":440,"comp":"YX","q":"p","kind":"Cal_inv","T":0.145,"v":51.4},
{"site":440,"comp":"YX","q":"p","kind":"Cal_inv","T":0.43,"v":44.3},
{"site":440,"comp":"YX","q":"p","kind":"Cal_inv","T":1.17,"v":39.3},
{"site":440,"comp":"YX","q":"p","kind":"Cal_fill","T":1.12e-4,"v":45.0},
{"site":440,"comp":"YX","q":"p","kind":"Cal_fill","T":2.8e-4,"v":41.9},
{"site":440,"comp":"YX","q":"p","kind":"Cal_fill","T":6.6e-4,"v":41.5},
{"site":440,"comp":"YX","q":"p","kind":"Cal_fill","T":1.28e-3,"v":43.6},
{"site":440,"comp":"YX","q":"p","kind":"Cal_fill","T":3.8e-3,"v":43.6},
{"site":440,"comp":"YX","q":"p","kind":"Cal_fill","T":8.7e-3,"v":42.5},
{"site":440,"comp":"YX","q":"p","kind":"Cal_fill","T":0.03,"v":41.0},
{"site":440,"comp":"YX","q":"p","kind":"Cal_fill","T":0.062,"v":39.3},
{"site":440,"comp":"YX","q":"p","kind":"Cal_fill","T":0.145,"v":36.5},
{"site":440,"comp":"YX","q":"p","kind":"Cal_fill","T":0.43,"v":36.1},
{"site":440,"comp":"YX","q":"p","kind":"Cal_fill","T":1.17,"v":35.4},
{"site":520,"comp":"XY","q":"r","kind":"Obs","T":1.12e-4,"v":77,"lo":68.5,"hi":86},
{"site":520,"comp":"XY","q":"r","kind":"Obs","T":1.28e-3,"v":71,"lo":63,"hi":79.5},
{"site":520,"comp":"XY","q":"r","kind":"Obs","T":3.8e-3,"v":77.6,"lo":69,"hi":87},
{"site":520,"comp":"XY","q":"r","kind":"Obs","T":8.7e-3,"v":71,"lo":63,"hi":79.5},
{"site":520,"comp":"XY","q":"r","kind":"Obs","T":0.03,"v":67,"lo":60,"hi":75},
{"site":520,"comp":"XY","q":"r","kind":"Obs","T":0.062,"v":65,"lo":58,"hi":73},
{"site":520,"comp":"XY","q":"r","kind":"Obs","T":0.145,"v":71,"lo":63,"hi":79.5},
{"site":520,"comp":"XY","q":"r","kind":"Obs","T":0.43,"v":71,"lo":63,"hi":79.5},
{"site":520,"comp":"XY","q":"r","kind":"Obs","T":1.17,"v":56,"lo":50,"hi":63},
{"site":520,"comp":"YX","q":"r","kind":"Obs","T":1.12e-4,"v":88,"lo":78,"hi":98.5},
{"site":520,"comp":"YX","q":"r","kind":"Obs","T":1.28e-3,"v":74,"lo":66,"hi":83},
{"site":520,"comp":"YX","q":"r","kind":"Obs","T":3.8e-3,"v":71,"lo":63,"hi":79.5},
{"site":520,"comp":"YX","q":"r","kind":"Obs","T":8.7e-3,"v":63,"lo":56,"hi":70.5},
{"site":520,"comp":"YX","q":"r","kind":"Obs","T":0.03,"v":57.5,"lo":51,"hi":64.4},
{"site":520,"comp":"YX","q":"r","kind":"Obs","T":0.062,"v":49.3,"lo":44,"hi":55},
{"site":520,"comp":"YX","q":"r","kind":"Obs","T":0.145,"v":49.3,"lo":44,"hi":55},
{"site":520,"comp":"YX","q":"r","kind":"Obs","T":0.43,"v":60,"lo":53.4,"hi":67},
{"site":520,"comp":"YX","q":"r","kind":"Obs","T":1.17,"v":70,"lo":62,"hi":78.4},
{"site":520,"comp":"XY","q":"r","kind":"Cal_inv","T":1.12e-4,"v":80.5},
{"site":520,"comp":"XY","q":"r","kind":"Cal_inv","T":2.8e-4,"v":80.5},
{"site":520,"comp":"XY","q":"r","kind":"Cal_inv","T":6.6e-4,"v":72},
{"site":520,"comp":"XY","q":"r","kind":"Cal_inv","T":1.28e-3,"v":69},
{"site":520,"comp":"XY","q":"r","kind":"Cal_inv","T":3.8e-3,"v":69},
{"site":520,"comp":"XY","q":"r","kind":"Cal_inv","T":8.7e-3,"v":69},
{"site":520,"comp":"XY","q":"r","kind":"Cal_inv","T":0.03,"v":65},
{"site":520,"comp":"XY","q":"r","kind":"Cal_inv","T":0.062,"v":61},
{"site":520,"comp":"XY","q":"r","kind":"Cal_inv","T":0.145,"v":61},
{"site":520,"comp":"XY","q":"r","kind":"Cal_inv","T":0.43,"v":63},
{"site":520,"comp":"XY","q":"r","kind":"Cal_inv","T":1.17,"v":60},
{"site":520,"comp":"XY","q":"r","kind":"Cal_fill","T":1.12e-4,"v":80.5},
{"site":520,"comp":"XY","q":"r","kind":"Cal_fill","T":2.8e-4,"v":80.5},
{"site":520,"comp":"XY","q":"r","kind":"Cal_fill","T":6.6e-4,"v":72},
{"site":520,"comp":"XY","q":"r","kind":"Cal_fill","T":1.28e-3,"v":69},
{"site":520,"comp":"XY","q":"r","kind":"Cal_fill","T":3.8e-3,"v":69},
{"site":520,"comp":"XY","q":"r","kind":"Cal_fill","T":8.7e-3,"v":71},
{"site":520,"comp":"XY","q":"r","kind":"Cal_fill","T":0.03,"v":90.6},
{"site":520,"comp":"XY","q":"r","kind":"Cal_fill","T":0.062,"v":102},
{"site":520,"comp":"XY","q":"r","kind":"Cal_fill","T":0.145,"v":130},
{"site":520,"comp":"XY","q":"r","kind":"Cal_fill","T":0.43,"v":166},
{"site":520,"comp":"XY","q":"r","kind":"Cal_fill","T":1.17,"v":160},
{"site":520,"comp":"YX","q":"r","kind":"Cal_inv","T":1.12e-4,"v":80.5},
{"site":520,"comp":"YX","q":"r","kind":"Cal_inv","T":2.8e-4,"v":80.5},
{"site":520,"comp":"YX","q":"r","kind":"Cal_inv","T":6.6e-4,"v":70},
{"site":520,"comp":"YX","q":"r","kind":"Cal_inv","T":1.28e-3,"v":69},
{"site":520,"comp":"YX","q":"r","kind":"Cal_inv","T":3.8e-3,"v":66},
{"site":520,"comp":"YX","q":"r","kind":"Cal_inv","T":8.7e-3,"v":65},
{"site":520,"comp":"YX","q":"r","kind":"Cal_inv","T":0.03,"v":56},
{"site":520,"comp":"YX","q":"r","kind":"Cal_inv","T":0.062,"v":46.7},
{"site":520,"comp":"YX","q":"r","kind":"Cal_inv","T":0.145,"v":44.7},
{"site":520,"comp":"YX","q":"r","kind":"Cal_inv","T":0.43,"v":46.7},
{"site":520,"comp":"YX","q":"r","kind":"Cal_inv","T":1.17,"v":56.5},
{"site":520,"comp":"YX","q":"r","kind":"Cal_fill","T":1.12e-4,"v":80.5},
{"site":520,"comp":"YX","q":"r","kind":"Cal_fill","T":2.8e-4,"v":80.5},
{"site":520,"comp":"YX","q":"r","kind":"Cal_fill","T":6.6e-4,"v":70},
{"site":520,"comp":"YX","q":"r","kind":"Cal_fill","T":1.28e-3,"v":69},
{"site":520,"comp":"YX","q":"r","kind":"Cal_fill","T":3.8e-3,"v":66},
{"site":520,"comp":"YX","q":"r","kind":"Cal_fill","T":8.7e-3,"v":66},
{"site":520,"comp":"YX","q":"r","kind":"Cal_fill","T":0.03,"v":79},
{"site":520,"comp":"YX","q":"r","kind":"Cal_fill","T":0.062,"v":94.6},
{"site":520,"comp":"YX","q":"r","kind":"Cal_fill","T":0.145,"v":121},
{"site":520,"comp":"YX","q":"r","kind":"Cal_fill","T":0.43,"v":163},
{"site":520,"comp":"YX","q":"r","kind":"Cal_fill","T":1.17,"v":201},
{"site":520,"comp":"XY","q":"p","kind":"Obs","T":1.12e-4,"v":36.1,"lo":33.5,"hi":38.7},
{"site":520,"comp":"XY","q":"p","kind":"Obs","T":1.28e-3,"v":45.4,"lo":42.7,"hi":48.1},
{"site":520,"comp":"XY","q":"p","kind":"Obs","T":3.8e-3,"v":42.6,"lo":40.3,"hi":44.9},
{"site":520,"comp":"XY","q":"p","kind":"Obs","T":8.7e-3,"v":44.0,"lo":41.8,"hi":46.2},
{"site":520,"comp":"XY","q":"p","kind":"Obs","T":0.03,"v":47.1,"lo":45.0,"hi":49.2},
{"site":520,"comp":"XY","q":"p","kind":"Obs","T":0.062,"v":46.9,"lo":44.7,"hi":49.1},
{"site":520,"comp":"XY","q":"p","kind":"Obs","T":0.145,"v":47.4,"lo":44.8,"hi":50.0},
{"site":520,"comp":"XY","q":"p","kind":"Obs","T":0.43,"v":50.3,"lo":47.7,"hi":52.9},
{"site":520,"comp":"XY","q":"p","kind":"Obs","T":1.17,"v":49.7,"lo":46.8,"hi":52.6},
{"site":520,"comp":"YX","q":"p","kind":"Obs","T":1.12e-4,"v":33.2,"lo":30.5,"hi":35.9},
{"site":520,"comp":"YX","q":"p","kind":"Obs","T":1.28e-3,"v":47.1,"lo":44.0,"hi":50.2},
{"site":520,"comp":"YX","q":"p","kind":"Obs","T":3.8e-3,"v":47.9,"lo":45.0,"hi":50.8},
{"site":520,"comp":"YX","q":"p","kind":"Obs","T":8.7e-3,"v":47.1,"lo":44.6,"hi":49.6},
{"site":520,"comp":"YX","q":"p","kind":"Obs","T":0.03,"v":50.7,"lo":47.6,"hi":53.8},
{"site":520,"comp":"YX","q":"p","kind":"Obs","T":0.062,"v":50.7,"lo":47.6,"hi":53.8},
{"site":520,"comp":"YX","q":"p","kind":"Obs","T":0.145,"v":44.0,"lo":41.0,"hi":47.0},
{"site":520,"comp":"YX","q":"p","kind":"Obs","T":0.43,"v":36.1,"lo":33.8,"hi":38.4},
{"site":520,"comp":"YX","q":"p","kind":"Obs","T":1.17,"v":27.0,"lo":24.6,"hi":29.4},
{"site":520,"comp":"XY","q":"p","kind":"Cal_inv","T":1.12e-4,"v":37.2},
{"site":520,"comp":"XY","q":"p","kind":"Cal_inv","T":2.8e-4,"v":45.3},
{"site":520,"comp":"XY","q":"p","kind":"Cal_inv","T":6.6e-4,"v":46.9},
{"site":520,"comp":"XY","q":"p","kind":"Cal_inv","T":1.28e-3,"v":46.0},
{"site":520,"comp":"XY","q":"p","kind":"Cal_inv","T":3.8e-3,"v":45.3},
{"site":520,"comp":"XY","q":"p","kind":"Cal_inv","T":8.7e-3,"v":46.0},
{"site":520,"comp":"XY","q":"p","kind":"Cal_inv","T":0.03,"v":47.9},
{"site":520,"comp":"XY","q":"p","kind":"Cal_inv","T":0.062,"v":46.9},
{"site":520,"comp":"XY","q":"p","kind":"Cal_inv","T":0.145,"v":45.3},
{"site":520,"comp":"XY","q":"p","kind":"Cal_inv","T":0.43,"v":45.3},
{"site":520,"comp":"XY","q":"p","kind":"Cal_inv","T":1.17,"v":47.9},
{"site":520,"comp":"XY","q":"p","kind":"Cal_fill","T":1.12e-4,"v":37.2},
{"site":520,"comp":"XY","q":"p","kind":"Cal_fill","T":2.8e-4,"v":45.3},
{"site":520,"comp":"XY","q":"p","kind":"Cal_fill","T":6.6e-4,"v":46.9},
{"site":520,"comp":"XY","q":"p","kind":"Cal_fill","T":1.28e-3,"v":46.0},
{"site":520,"comp":"XY","q":"p","kind":"Cal_fill","T":3.8e-3,"v":43.6},
{"site":520,"comp":"XY","q":"p","kind":"Cal_fill","T":8.7e-3,"v":39.3},
{"site":520,"comp":"XY","q":"p","kind":"Cal_fill","T":0.03,"v":37.5},
{"site":520,"comp":"XY","q":"p","kind":"Cal_fill","T":0.062,"v":35.8},
{"site":520,"comp":"XY","q":"p","kind":"Cal_fill","T":0.145,"v":34.8},
{"site":520,"comp":"XY","q":"p","kind":"Cal_fill","T":0.43,"v":40.8},
{"site":520,"comp":"XY","q":"p","kind":"Cal_fill","T":1.17,"v":45.7},
{"site":520,"comp":"YX","q":"p","kind":"Cal_inv","T":1.12e-4,"v":37.2},
{"site":520,"comp":"YX","q":"p","kind":"Cal_inv","T":2.8e-4,"v":45.3},
{"site":520,"comp":"YX","q":"p","kind":"Cal_inv","T":6.6e-4,"v":46.7},
{"site":520,"comp":"YX","q":"p","kind":"Cal_inv","T":1.28e-3,"v":46.0},
{"site":520,"comp":"YX","q":"p","kind":"Cal_inv","T":3.8e-3,"v":47.1},
{"site":520,"comp":"YX","q":"p","kind":"Cal_inv","T":8.7e-3,"v":48.1},
{"site":520,"comp":"YX","q":"p","kind":"Cal_inv","T":0.03,"v":50.0},
{"site":520,"comp":"YX","q":"p","kind":"Cal_inv","T":0.062,"v":49.3},
{"site":520,"comp":"YX","q":"p","kind":"Cal_inv","T":0.145,"v":45.7},
{"site":520,"comp":"YX","q":"p","kind":"Cal_inv","T":0.43,"v":39.3},
{"site":520,"comp":"YX","q":"p","kind":"Cal_inv","T":1.17,"v":34.6},
{"site":520,"comp":"YX","q":"p","kind":"Cal_fill","T":1.12e-4,"v":37.2},
{"site":520,"comp":"YX","q":"p","kind":"Cal_fill","T":2.8e-4,"v":45.3},
{"site":520,"comp":"YX","q":"p","kind":"Cal_fill","T":6.6e-4,"v":46.7},
{"site":520,"comp":"YX","q":"p","kind":"Cal_fill","T":1.28e-3,"v":46.0},
{"site":520,"comp":"YX","q":"p","kind":"Cal_fill","T":3.8e-3,"v":44.3},
{"site":520,"comp":"YX","q":"p","kind":"Cal_fill","T":8.7e-3,"v":40.8},
{"site":520,"comp":"YX","q":"p","kind":"Cal_fill","T":0.03,"v":37.2},
{"site":520,"comp":"YX","q":"p","kind":"Cal_fill","T":0.062,"v":34.4},
{"site":520,"comp":"YX","q":"p","kind":"Cal_fill","T":0.145,"v":32.9},
{"site":520,"comp":"YX","q":"p","kind":"Cal_fill","T":0.43,"v":32.9},
{"site":520,"comp":"YX","q":"p","kind":"Cal_fill","T":1.17,"v":32.5},
{"site":170,"comp":"XX","q":"r","kind":"Obs","T":1.12e-4,"v":3.9,"lo":1.46,"hi":6.4},
{"site":170,"comp":"XX","q":"r","kind":"Obs","T":1.28e-3,"v":3.4,"lo":0.91,"hi":5.8},
{"site":170,"comp":"XX","q":"r","kind":"Obs","T":3.8e-3,"v":2.6,"lo":0.32,"hi":5.3},
{"site":170,"comp":"XX","q":"r","kind":"Obs","T":8.7e-3,"v":3.25,"lo":0.6,"hi":8.3},
{"site":170,"comp":"XX","q":"r","kind":"Obs","T":0.03,"v":2.8,"lo":0.39,"hi":5.1},
{"site":170,"comp":"XX","q":"r","kind":"Obs","T":0.062,"v":0.76,"lo":0.0001,"hi":1.94},
{"site":170,"comp":"XX","q":"r","kind":"Obs","T":0.145,"v":0.86,"lo":0.0001,"hi":2.0},
{"site":170,"comp":"XX","q":"r","kind":"Obs","T":0.43,"v":0.86,"lo":0.0001,"hi":1.84},
{"site":170,"comp":"XX","q":"r","kind":"Obs","T":1.17,"v":0.66,"lo":0.0001,"hi":1.29},
{"site":170,"comp":"YY","q":"r","kind":"Obs","T":1.12e-4,"v":2.5,"lo":0.52,"hi":4.5},
{"site":170,"comp":"YY","q":"r","kind":"Obs","T":1.28e-3,"v":0.108,"lo":0.0001,"hi":0.55},
{"site":170,"comp":"YY","q":"r","kind":"Obs","T":3.8e-3,"v":2.9,"lo":0.32,"hi":5.3},
{"site":170,"comp":"YY","q":"r","kind":"Obs","T":8.7e-3,"v":6.1,"lo":2.4,"hi":9.6},
{"site":170,"comp":"YY","q":"r","kind":"Obs","T":0.03,"v":15,"lo":9.4,"hi":20.2},
{"site":170,"comp":"YY","q":"r","kind":"Obs","T":0.062,"v":15,"lo":10,"hi":20.2},
{"site":170,"comp":"YY","q":"r","kind":"Obs","T":0.145,"v":9.4,"lo":5.3,"hi":13},
{"site":170,"comp":"YY","q":"r","kind":"Obs","T":0.43,"v":4.6,"lo":2.3,"hi":6.7},
{"site":170,"comp":"YY","q":"r","kind":"Obs","T":1.17,"v":1.7,"lo":0.58,"hi":2.8},
{"site":170,"comp":"XX","q":"r","kind":"Cal_inv","T":1.12e-4,"v":0.0098},
{"site":170,"comp":"XX","q":"r","kind":"Cal_inv","T":2.8e-4,"v":0.06},
{"site":170,"comp":"XX","q":"r","kind":"Cal_inv","T":6.6e-4,"v":0.24},
{"site":170,"comp":"XX","q":"r","kind":"Cal_inv","T":1.28e-3,"v":0.61},
{"site":170,"comp":"XX","q":"r","kind":"Cal_inv","T":3.8e-3,"v":0.66},
{"site":170,"comp":"XX","q":"r","kind":"Cal_inv","T":8.7e-3,"v":0.24},
{"site":170,"comp":"XX","q":"r","kind":"Cal_inv","T":0.03,"v":0.023},
{"site":170,"comp":"XX","q":"r","kind":"Cal_inv","T":0.062,"v":0.038},
{"site":170,"comp":"XX","q":"r","kind":"Cal_inv","T":0.145,"v":0.24},
{"site":170,"comp":"XX","q":"r","kind":"Cal_inv","T":0.43,"v":0.69},
{"site":170,"comp":"XX","q":"r","kind":"Cal_inv","T":1.17,"v":1.03},
{"site":170,"comp":"XX","q":"r","kind":"Cal_fill","T":1.12e-4,"v":0.0098},
{"site":170,"comp":"XX","q":"r","kind":"Cal_fill","T":2.8e-4,"v":0.06},
{"site":170,"comp":"XX","q":"r","kind":"Cal_fill","T":6.6e-4,"v":0.24},
{"site":170,"comp":"XX","q":"r","kind":"Cal_fill","T":1.28e-3,"v":0.61},
{"site":170,"comp":"XX","q":"r","kind":"Cal_fill","T":3.8e-3,"v":0.66},
{"site":170,"comp":"XX","q":"r","kind":"Cal_fill","T":8.7e-3,"v":0.26},
{"site":170,"comp":"XX","q":"r","kind":"Cal_fill","T":0.03,"v":0.0145},
{"site":170,"comp":"XX","q":"r","kind":"Cal_fill","T":0.062,"v":0.031},
{"site":170,"comp":"XX","q":"r","kind":"Cal_fill","T":0.145,"v":0.22},
{"site":170,"comp":"XX","q":"r","kind":"Cal_fill","T":0.43,"v":1.08},
{"site":170,"comp":"XX","q":"r","kind":"Cal_fill","T":1.17,"v":2.2},
{"site":170,"comp":"YY","q":"r","kind":"Cal_inv","T":1.12e-4,"v":0.015},
{"site":170,"comp":"YY","q":"r","kind":"Cal_inv","T":2.8e-4,"v":0.09},
{"site":170,"comp":"YY","q":"r","kind":"Cal_inv","T":6.6e-4,"v":0.24},
{"site":170,"comp":"YY","q":"r","kind":"Cal_inv","T":1.28e-3,"v":0.53},
{"site":170,"comp":"YY","q":"r","kind":"Cal_inv","T":3.8e-3,"v":1.41},
{"site":170,"comp":"YY","q":"r","kind":"Cal_inv","T":8.7e-3,"v":3.75},
{"site":170,"comp":"YY","q":"r","kind":"Cal_inv","T":0.03,"v":8.0},
{"site":170,"comp":"YY","q":"r","kind":"Cal_inv","T":0.062,"v":8.6},
{"site":170,"comp":"YY","q":"r","kind":"Cal_inv","T":0.145,"v":7.0},
{"site":170,"comp":"YY","q":"r","kind":"Cal_inv","T":0.43,"v":4.7},
{"site":170,"comp":"YY","q":"r","kind":"Cal_inv","T":1.17,"v":2.2},
{"site":170,"comp":"YY","q":"r","kind":"Cal_fill","T":1.12e-4,"v":0.015},
{"site":170,"comp":"YY","q":"r","kind":"Cal_fill","T":2.8e-4,"v":0.09},
{"site":170,"comp":"YY","q":"r","kind":"Cal_fill","T":6.6e-4,"v":0.24},
{"site":170,"comp":"YY","q":"r","kind":"Cal_fill","T":1.28e-3,"v":0.53},
{"site":170,"comp":"YY","q":"r","kind":"Cal_fill","T":3.8e-3,"v":1.41},
{"site":170,"comp":"YY","q":"r","kind":"Cal_fill","T":8.7e-3,"v":3.75},
{"site":170,"comp":"YY","q":"r","kind":"Cal_fill","T":0.03,"v":8.0},
{"site":170,"comp":"YY","q":"r","kind":"Cal_fill","T":0.062,"v":8.6},
{"site":170,"comp":"YY","q":"r","kind":"Cal_fill","T":0.145,"v":8.3},
{"site":170,"comp":"YY","q":"r","kind":"Cal_fill","T":0.43,"v":7.0},
{"site":170,"comp":"YY","q":"r","kind":"Cal_fill","T":1.17,"v":4.7},
{"site":170,"comp":"XX","q":"p","kind":"Obs","T":1.12e-4,"v":5.0,"lo":-14.4,"hi":23.3},
{"site":170,"comp":"XX","q":"p","kind":"Obs","T":1.28e-3,"v":85.3,"lo":64.2,"hi":107.4},
{"site":170,"comp":"XX","q":"p","kind":"Obs","T":3.8e-3,"v":67.0,"lo":41.0,"hi":93.6},
{"site":170,"comp":"XX","q":"p","kind":"Obs","T":8.7e-3,"v":72.5,"lo":46.5,"hi":95.3},
{"site":170,"comp":"XX","q":"p","kind":"Obs","T":0.03,"v":65.9,"lo":41.0,"hi":91.9},
{"site":170,"comp":"XX","q":"p","kind":"Obs","T":0.062,"v":41.0,"lo":-14.4,"hi":96.4},
{"site":170,"comp":"XX","q":"p","kind":"Obs","T":0.145,"v":41.0,"lo":-4.4,"hi":88.1},
{"site":170,"comp":"XX","q":"p","kind":"Obs","T":0.43,"v":33.8,"lo":-3.3,"hi":71.4},
{"site":170,"comp":"XX","q":"p","kind":"Obs","T":1.17,"v":-6.1,"lo":-40.4,"hi":28.8},
{"site":170,"comp":"YY","q":"p","kind":"Obs","T":1.12e-4,"v":107.4,"lo":84.2,"hi":132.4},
{"site":170,"comp":"YY","q":"p","kind":"Obs","T":3.8e-3,"v":-51.5,"lo":-78.1,"hi":-23.8},
{"site":170,"comp":"YY","q":"p","kind":"Obs","T":8.7e-3,"v":-7.2,"lo":-24.4,"hi":10.5},
{"site":170,"comp":"YY","q":"p","kind":"Obs","T":0.03,"v":32.7,"lo":22.7,"hi":43.8},
{"site":170,"comp":"YY","q":"p","kind":"Obs","T":0.062,"v":44.9,"lo":35.4,"hi":54.8},
{"site":170,"comp":"YY","q":"p","kind":"Obs","T":0.145,"v":65.9,"lo":53.7,"hi":78.1},
{"site":170,"comp":"YY","q":"p","kind":"Obs","T":0.43,"v":92.5,"lo":78.1,"hi":107.4},
{"site":170,"comp":"YY","q":"p","kind":"Obs","T":1.17,"v":90.8,"lo":71.4,"hi":111.3},
{"site":170,"comp":"XX","q":"p","kind":"Cal_inv","T":1.12e-4,"v":-22.7},
{"site":170,"comp":"XX","q":"p","kind":"Cal_inv","T":2.8e-4,"v":-23.8},
{"site":170,"comp":"XX","q":"p","kind":"Cal_inv","T":6.6e-4,"v":-7.2},
{"site":170,"comp":"XX","q":"p","kind":"Cal_inv","T":1.28e-3,"v":16.1},
{"site":170,"comp":"XX","q":"p","kind":"Cal_inv","T":3.8e-3,"v":54.8},
{"site":170,"comp":"XX","q":"p","kind":"Cal_inv","T":8.7e-3,"v":89.7},
{"site":170,"comp":"XX","q":"p","kind":"Cal_inv","T":0.03,"v":64.8},
{"site":170,"comp":"XX","q":"p","kind":"Cal_inv","T":0.062,"v":2.2},
{"site":170,"comp":"XX","q":"p","kind":"Cal_inv","T":0.145,"v":-1.7},
{"site":170,"comp":"XX","q":"p","kind":"Cal_inv","T":0.43,"v":13.3},
{"site":170,"comp":"XX","q":"p","kind":"Cal_inv","T":1.17,"v":14.4},
{"site":170,"comp":"XX","q":"p","kind":"Cal_fill","T":1.12e-4,"v":-22.7},
{"site":170,"comp":"XX","q":"p","kind":"Cal_fill","T":2.8e-4,"v":-23.8},
{"site":170,"comp":"XX","q":"p","kind":"Cal_fill","T":6.6e-4,"v":-7.2},
{"site":170,"comp":"XX","q":"p","kind":"Cal_fill","T":1.28e-3,"v":16.1},
{"site":170,"comp":"XX","q":"p","kind":"Cal_fill","T":3.8e-3,"v":54.8},
{"site":170,"comp":"XX","q":"p","kind":"Cal_fill","T":8.7e-3,"v":88.1},
{"site":170,"comp":"XX","q":"p","kind":"Cal_fill","T":0.03,"v":71.4},
{"site":170,"comp":"XX","q":"p","kind":"Cal_fill","T":0.062,"v":-8.9},
{"site":170,"comp":"XX","q":"p","kind":"Cal_fill","T":0.145,"v":-11.6},
{"site":170,"comp":"XX","q":"p","kind":"Cal_fill","T":0.43,"v":-5.0},
{"site":170,"comp":"XX","q":"p","kind":"Cal_fill","T":1.17,"v":-0.6},
{"site":170,"comp":"YY","q":"p","kind":"Cal_inv","T":1.12e-4,"v":110.2},
{"site":170,"comp":"YY","q":"p","kind":"Cal_inv","T":2.8e-4,"v":160.0},
{"site":170,"comp":"YY","q":"p","kind":"Cal_inv","T":6.6e-4,"v":-154.5},
{"site":170,"comp":"YY","q":"p","kind":"Cal_inv","T":1.28e-3,"v":-119.6},
{"site":170,"comp":"YY","q":"p","kind":"Cal_inv","T":3.8e-3,"v":-58.7},
{"site":170,"comp":"YY","q":"p","kind":"Cal_inv","T":8.7e-3,"v":-11.6},
{"site":170,"comp":"YY","q":"p","kind":"Cal_inv","T":0.03,"v":22.7},
{"site":170,"comp":"YY","q":"p","kind":"Cal_inv","T":0.062,"v":42.6},
{"site":170,"comp":"YY","q":"p","kind":"Cal_inv","T":0.145,"v":57.6},
{"site":170,"comp":"YY","q":"p","kind":"Cal_inv","T":0.43,"v":77.0},
{"site":170,"comp":"YY","q":"p","kind":"Cal_inv","T":1.17,"v":100.2},
{"site":170,"comp":"YY","q":"p","kind":"Cal_fill","T":1.12e-4,"v":110.2},
{"site":170,"comp":"YY","q":"p","kind":"Cal_fill","T":2.8e-4,"v":160.0},
{"site":170,"comp":"YY","q":"p","kind":"Cal_fill","T":6.6e-4,"v":-154.5},
{"site":170,"comp":"YY","q":"p","kind":"Cal_fill","T":1.28e-3,"v":-119.6},
{"site":170,"comp":"YY","q":"p","kind":"Cal_fill","T":3.8e-3,"v":-58.7},
{"site":170,"comp":"YY","q":"p","kind":"Cal_fill","T":8.7e-3,"v":-11.6},
{"site":170,"comp":"YY","q":"p","kind":"Cal_fill","T":0.03,"v":22.7},
{"site":170,"comp":"YY","q":"p","kind":"Cal_fill","T":0.062,"v":42.6},
{"site":170,"comp":"YY","q":"p","kind":"Cal_fill","T":0.145,"v":60.0},
{"site":170,"comp":"YY","q":"p","kind":"Cal_fill","T":0.43,"v":82.5},
{"site":170,"comp":"YY","q":"p","kind":"Cal_fill","T":1.17,"v":126.8},
{"site":370,"comp":"XX","q":"r","kind":"Obs","T":1.12e-4,"v":5.8,"lo":1.6,"hi":10},
{"site":370,"comp":"XX","q":"r","kind":"Obs","T":1.28e-3,"v":0.25,"lo":0.0001,"hi":1.03},
{"site":370,"comp":"XX","q":"r","kind":"Obs","T":3.8e-3,"v":1.94,"lo":0.02,"hi":3.9},
{"site":370,"comp":"XX","q":"r","kind":"Obs","T":8.7e-3,"v":1.84,"lo":0.69,"hi":3.9},
{"site":370,"comp":"XX","q":"r","kind":"Obs","T":0.03,"v":2.6,"lo":0.49,"hi":4.6},
{"site":370,"comp":"XX","q":"r","kind":"Obs","T":0.062,"v":1.84,"lo":0.18,"hi":3.55},
{"site":370,"comp":"XX","q":"r","kind":"Obs","T":0.145,"v":1.34,"lo":0.0001,"hi":2.6},
{"site":370,"comp":"XX","q":"r","kind":"Obs","T":0.43,"v":3.1,"lo":0.9,"hi":5.1},
{"site":370,"comp":"XX","q":"r","kind":"Obs","T":1.17,"v":6.4,"lo":3.4,"hi":9.1},
{"site":370,"comp":"YY","q":"r","kind":"Obs","T":1.12e-4,"v":25,"lo":16.4,"hi":34.5},
{"site":370,"comp":"YY","q":"r","kind":"Obs","T":1.28e-3,"v":1.9,"lo":0.0001,"hi":4.1},
{"site":370,"comp":"YY","q":"r","kind":"Obs","T":3.8e-3,"v":1.03,"lo":0.0001,"hi":2.5},
{"site":370,"comp":"YY","q":"r","kind":"Obs","T":8.7e-3,"v":1.25,"lo":0.0001,"hi":2.6},
{"site":370,"comp":"YY","q":"r","kind":"Obs","T":0.03,"v":2.1,"lo":0.148,"hi":3.9},
{"site":370,"comp":"YY","q":"r","kind":"Obs","T":0.062,"v":1.54,"lo":0.0001,"hi":3.1},
{"site":370,"comp":"YY","q":"r","kind":"Obs","T":0.145,"v":3.1,"lo":0.83,"hi":5.3},
{"site":370,"comp":"YY","q":"r","kind":"Obs","T":0.43,"v":3.96,"lo":1.54,"hi":6.05},
{"site":370,"comp":"YY","q":"r","kind":"Obs","T":1.17,"v":2.6,"lo":0.72,"hi":4.5},
{"site":370,"comp":"XX","q":"r","kind":"Cal_inv","T":1.12e-4,"v":0.0012},
{"site":370,"comp":"XX","q":"r","kind":"Cal_inv","T":2.8e-4,"v":0.017},
{"site":370,"comp":"XX","q":"r","kind":"Cal_inv","T":6.6e-4,"v":0.128},
{"site":370,"comp":"XX","q":"r","kind":"Cal_inv","T":1.28e-3,"v":0.41},
{"site":370,"comp":"XX","q":"r","kind":"Cal_inv","T":3.8e-3,"v":1.54},
{"site":370,"comp":"XX","q":"r","kind":"Cal_inv","T":8.7e-3,"v":2.8},
{"site":370,"comp":"XX","q":"r","kind":"Cal_inv","T":0.03,"v":2.6},
{"site":370,"comp":"XX","q":"r","kind":"Cal_inv","T":0.062,"v":1.54},
{"site":370,"comp":"XX","q":"r","kind":"Cal_inv","T":0.145,"v":0.76},
{"site":370,"comp":"XX","q":"r","kind":"Cal_inv","T":0.43,"v":0.72},
{"site":370,"comp":"XX","q":"r","kind":"Cal_inv","T":1.17,"v":1.22},
{"site":370,"comp":"XX","q":"r","kind":"Cal_fill","T":1.12e-4,"v":0.0012},
{"site":370,"comp":"XX","q":"r","kind":"Cal_fill","T":2.8e-4,"v":0.017},
{"site":370,"comp":"XX","q":"r","kind":"Cal_fill","T":6.6e-4,"v":0.128},
{"site":370,"comp":"XX","q":"r","kind":"Cal_fill","T":1.28e-3,"v":0.41},
{"site":370,"comp":"XX","q":"r","kind":"Cal_fill","T":3.8e-3,"v":1.54},
{"site":370,"comp":"XX","q":"r","kind":"Cal_fill","T":8.7e-3,"v":2.8},
{"site":370,"comp":"XX","q":"r","kind":"Cal_fill","T":0.03,"v":2.6},
{"site":370,"comp":"XX","q":"r","kind":"Cal_fill","T":0.062,"v":2.2},
{"site":370,"comp":"XX","q":"r","kind":"Cal_fill","T":0.145,"v":2.4},
{"site":370,"comp":"XX","q":"r","kind":"Cal_fill","T":0.43,"v":2.97},
{"site":370,"comp":"XX","q":"r","kind":"Cal_fill","T":1.17,"v":2.97},
{"site":370,"comp":"YY","q":"r","kind":"Cal_inv","T":1.12e-4,"v":0.0029},
{"site":370,"comp":"YY","q":"r","kind":"Cal_inv","T":2.8e-4,"v":0.053},
{"site":370,"comp":"YY","q":"r","kind":"Cal_inv","T":6.6e-4,"v":0.26},
{"site":370,"comp":"YY","q":"r","kind":"Cal_inv","T":1.28e-3,"v":0.69},
{"site":370,"comp":"YY","q":"r","kind":"Cal_inv","T":3.8e-3,"v":1.6},
{"site":370,"comp":"YY","q":"r","kind":"Cal_inv","T":8.7e-3,"v":1.29},
{"site":370,"comp":"YY","q":"r","kind":"Cal_inv","T":0.03,"v":0.31},
{"site":370,"comp":"YY","q":"r","kind":"Cal_inv","T":0.062,"v":0.9},
{"site":370,"comp":"YY","q":"r","kind":"Cal_inv","T":0.145,"v":1.34},
{"site":370,"comp":"YY","q":"r","kind":"Cal_inv","T":0.43,"v":3.1},
{"site":370,"comp":"YY","q":"r","kind":"Cal_inv","T":1.17,"v":7.6},
{"site":370,"comp":"YY","q":"r","kind":"Cal_fill","T":1.12e-4,"v":0.0029},
{"site":370,"comp":"YY","q":"r","kind":"Cal_fill","T":2.8e-4,"v":0.053},
{"site":370,"comp":"YY","q":"r","kind":"Cal_fill","T":6.6e-4,"v":0.26},
{"site":370,"comp":"YY","q":"r","kind":"Cal_fill","T":1.28e-3,"v":0.69},
{"site":370,"comp":"YY","q":"r","kind":"Cal_fill","T":3.8e-3,"v":1.6},
{"site":370,"comp":"YY","q":"r","kind":"Cal_fill","T":8.7e-3,"v":1.29},
{"site":370,"comp":"YY","q":"r","kind":"Cal_fill","T":0.03,"v":0.39},
{"site":370,"comp":"YY","q":"r","kind":"Cal_fill","T":0.062,"v":0.58},
{"site":370,"comp":"YY","q":"r","kind":"Cal_fill","T":0.145,"v":1.41},
{"site":370,"comp":"YY","q":"r","kind":"Cal_fill","T":0.43,"v":6.4},
{"site":370,"comp":"YY","q":"r","kind":"Cal_fill","T":1.17,"v":23},
{"site":370,"comp":"XX","q":"p","kind":"Obs","T":1.12e-4,"v":41.0,"lo":21.6,"hi":62.0},
{"site":370,"comp":"XX","q":"p","kind":"Obs","T":3.8e-3,"v":-175.0,"lo":-200,"hi":-147.3},
{"site":370,"comp":"XX","q":"p","kind":"Obs","T":8.7e-3,"v":-170.6,"lo":-177.8,"hi":-137.9},
{"site":370,"comp":"XX","q":"p","kind":"Obs","T":0.03,"v":-127.9,"lo":-152.9,"hi":-104.7},
{"site":370,"comp":"XX","q":"p","kind":"Obs","T":0.062,"v":-120.7,"lo":-144.5,"hi":-93.6},
{"site":370,"comp":"XX","q":"p","kind":"Obs","T":0.145,"v":-137.3,"lo":-173.3,"hi":-100.2},
{"site":370,"comp":"XX","q":"p","kind":"Obs","T":0.43,"v":-130.7,"lo":-149.0,"hi":-113.0},
{"site":370,"comp":"XX","q":"p","kind":"Obs","T":1.17,"v":-95.8,"lo":-109.7,"hi":-83.6},
{"site":370,"comp":"YY","q":"p","kind":"Obs","T":1.12e-4,"v":21.6,"lo":12.2,"hi":29.9},
{"site":370,"comp":"YY","q":"p","kind":"Obs","T":1.28e-3,"v":-160.0,"lo":-200,"hi":-125.2},
{"site":370,"comp":"YY","q":"p","kind":"Obs","T":3.8e-3,"v":-114.1,"lo":-161.2,"hi":-68.1},
{"site":370,"comp":"YY","q":"p","kind":"Obs","T":8.7e-3,"v":-95.8,"lo":-137.3,"hi":-52.1},
{"site":370,"comp":"YY","q":"p","kind":"Obs","T":0.03,"v":-173.3,"lo":-200,"hi":-150.1},
{"site":370,"comp":"YY","q":"p","kind":"Obs","T":0.062,"v":-144.5,"lo":-177.8,"hi":-107.4},
{"site":370,"comp":"YY","q":"p","kind":"Obs","T":0.145,"v":-156.7,"lo":-172.2,"hi":-136.2},
{"site":370,"comp":"YY","q":"p","kind":"Obs","T":0.43,"v":-154.0,"lo":-170.6,"hi":-137.3},
{"site":370,"comp":"YY","q":"p","kind":"Obs","T":1.17,"v":-80.9,"lo":-100.2,"hi":-59.8},
{"site":370,"comp":"XX","q":"p","kind":"Cal_inv","T":1.12e-4,"v":82.5},
{"site":370,"comp":"XX","q":"p","kind":"Cal_inv","T":2.8e-4,"v":107.4},
{"site":370,"comp":"XX","q":"p","kind":"Cal_inv","T":6.6e-4,"v":132.4},
{"site":370,"comp":"XX","q":"p","kind":"Cal_inv","T":1.28e-3,"v":154.5},
{"site":370,"comp":"XX","q":"p","kind":"Cal_inv","T":3.8e-3,"v":-175.0},
{"site":370,"comp":"XX","q":"p","kind":"Cal_inv","T":8.7e-3,"v":-155.6},
{"site":370,"comp":"XX","q":"p","kind":"Cal_inv","T":0.03,"v":-123.5},
{"site":370,"comp":"XX","q":"p","kind":"Cal_inv","T":0.062,"v":-108.5},
{"site":370,"comp":"XX","q":"p","kind":"Cal_inv","T":0.145,"v":-109.7},
{"site":370,"comp":"XX","q":"p","kind":"Cal_inv","T":0.43,"v":-112.4},
{"site":370,"comp":"XX","q":"p","kind":"Cal_inv","T":1.17,"v":-90.3},
{"site":370,"comp":"XX","q":"p","kind":"Cal_fill","T":1.12e-4,"v":82.5},
{"site":370,"comp":"XX","q":"p","kind":"Cal_fill","T":2.8e-4,"v":107.4},
{"site":370,"comp":"XX","q":"p","kind":"Cal_fill","T":6.6e-4,"v":132.4},
{"site":370,"comp":"XX","q":"p","kind":"Cal_fill","T":1.28e-3,"v":154.5},
{"site":370,"comp":"XX","q":"p","kind":"Cal_fill","T":3.8e-3,"v":-175.0},
{"site":370,"comp":"XX","q":"p","kind":"Cal_fill","T":8.7e-3,"v":-159.0},
{"site":370,"comp":"XX","q":"p","kind":"Cal_fill","T":0.03,"v":-137.3},
{"site":370,"comp":"XX","q":"p","kind":"Cal_fill","T":0.062,"v":-137.3},
{"site":370,"comp":"XX","q":"p","kind":"Cal_fill","T":0.145,"v":-139.0},
{"site":370,"comp":"XX","q":"p","kind":"Cal_fill","T":0.43,"v":-133.5},
{"site":370,"comp":"XX","q":"p","kind":"Cal_fill","T":1.17,"v":-114.1},
{"site":370,"comp":"YY","q":"p","kind":"Cal_inv","T":1.12e-4,"v":64.8},
{"site":370,"comp":"YY","q":"p","kind":"Cal_inv","T":2.8e-4,"v":110.2},
{"site":370,"comp":"YY","q":"p","kind":"Cal_inv","T":6.6e-4,"v":144.5},
{"site":370,"comp":"YY","q":"p","kind":"Cal_inv","T":1.28e-3,"v":171.1},
{"site":370,"comp":"YY","q":"p","kind":"Cal_inv","T":3.8e-3,"v":-149.0},
{"site":370,"comp":"YY","q":"p","kind":"Cal_inv","T":8.7e-3,"v":-121.3},
{"site":370,"comp":"YY","q":"p","kind":"Cal_inv","T":0.03,"v":-144.5},
{"site":370,"comp":"YY","q":"p","kind":"Cal_inv","T":0.062,"v":-162.3},
{"site":370,"comp":"YY","q":"p","kind":"Cal_inv","T":0.145,"v":-159.5},
{"site":370,"comp":"YY","q":"p","kind":"Cal_inv","T":0.43,"v":-169.5},
{"site":370,"comp":"YY","q":"p","kind":"Cal_inv","T":1.17,"v":-160.0},
{"site":370,"comp":"YY","q":"p","kind":"Cal_fill","T":1.12e-4,"v":64.8},
{"site":370,"comp":"YY","q":"p","kind":"Cal_fill","T":2.8e-4,"v":110.2},
{"site":370,"comp":"YY","q":"p","kind":"Cal_fill","T":6.6e-4,"v":144.5},
{"site":370,"comp":"YY","q":"p","kind":"Cal_fill","T":1.28e-3,"v":171.1},
{"site":370,"comp":"YY","q":"p","kind":"Cal_fill","T":3.8e-3,"v":-149.0},
{"site":370,"comp":"YY","q":"p","kind":"Cal_fill","T":8.7e-3,"v":-121.3},
{"site":370,"comp":"YY","q":"p","kind":"Cal_fill","T":0.03,"v":-144.5},
{"site":370,"comp":"YY","q":"p","kind":"Cal_fill","T":0.062,"v":-155.0},
{"site":370,"comp":"YY","q":"p","kind":"Cal_fill","T":0.145,"v":179.4},
{"site":370,"comp":"YY","q":"p","kind":"Cal_fill","T":0.43,"v":168.4},
{"site":370,"comp":"YY","q":"p","kind":"Cal_fill","T":1.17,"v":-169.5},
{"site":440,"comp":"XX","q":"r","kind":"Obs","T":1.12e-4,"v":6.7,"lo":2.2,"hi":9.1},
{"site":440,"comp":"XX","q":"r","kind":"Obs","T":1.28e-3,"v":13.5,"lo":7.0,"hi":19.5},
{"site":440,"comp":"XX","q":"r","kind":"Obs","T":3.8e-3,"v":10.9,"lo":5.8,"hi":15.5},
{"site":440,"comp":"XX","q":"r","kind":"Obs","T":8.7e-3,"v":7.9,"lo":3.75,"hi":11.9},
{"site":440,"comp":"XX","q":"r","kind":"Obs","T":0.03,"v":3.1,"lo":0.86,"hi":7.0},
{"site":440,"comp":"XX","q":"r","kind":"Obs","T":0.062,"v":1.94,"lo":0.25,"hi":3.4},
{"site":440,"comp":"XX","q":"r","kind":"Obs","T":0.145,"v":3.0,"lo":0.99,"hi":4.9},
{"site":440,"comp":"XX","q":"r","kind":"Obs","T":0.43,"v":15,"lo":10.9,"hi":19.2},
{"site":440,"comp":"YY","q":"r","kind":"Obs","T":1.12e-4,"v":5.6,"lo":2.1,"hi":9.1},
{"site":440,"comp":"YY","q":"r","kind":"Obs","T":1.28e-3,"v":52,"lo":39,"hi":67.7},
{"site":440,"comp":"YY","q":"r","kind":"Obs","T":3.8e-3,"v":6.2,"lo":2.1,"hi":13},
{"site":440,"comp":"YY","q":"r","kind":"Obs","T":8.7e-3,"v":6.6,"lo":2.5,"hi":11.9},
{"site":440,"comp":"YY","q":"r","kind":"Obs","T":0.03,"v":5.5,"lo":3.1,"hi":8.6},
{"site":440,"comp":"YY","q":"r","kind":"Obs","T":0.062,"v":6.4,"lo":3.25,"hi":8.7},
{"site":440,"comp":"YY","q":"r","kind":"Obs","T":0.145,"v":7.2,"lo":4.5,"hi":9.4},
{"site":440,"comp":"YY","q":"r","kind":"Obs","T":0.43,"v":4.1,"lo":1.9,"hi":6.2},
{"site":440,"comp":"XX","q":"r","kind":"Cal_inv","T":1.12e-4,"v":0.128},
{"site":440,"comp":"XX","q":"r","kind":"Cal_inv","T":2.8e-4,"v":0.61},
{"site":440,"comp":"XX","q":"r","kind":"Cal_inv","T":6.6e-4,"v":1.75},
{"site":440,"comp":"XX","q":"r","kind":"Cal_inv","T":1.28e-3,"v":3.25},
{"site":440,"comp":"XX","q":"r","kind":"Cal_inv","T":3.8e-3,"v":5.5},
{"site":440,"comp":"XX","q":"r","kind":"Cal_inv","T":8.7e-3,"v":4.9},
{"site":440,"comp":"XX","q":"r","kind":"Cal_inv","T":0.03,"v":1.08},
{"site":440,"comp":"XX","q":"r","kind":"Cal_inv","T":0.062,"v":0.069},
{"site":440,"comp":"XX","q":"r","kind":"Cal_inv","T":0.145,"v":1.08},
{"site":440,"comp":"XX","q":"r","kind":"Cal_inv","T":0.43,"v":4.9},
{"site":440,"comp":"XX","q":"r","kind":"Cal_inv","T":1.17,"v":5.8},
{"site":440,"comp":"XX","q":"r","kind":"Cal_fill","T":1.12e-4,"v":0.128},
{"site":440,"comp":"XX","q":"r","kind":"Cal_fill","T":2.8e-4,"v":0.61},
{"site":440,"comp":"XX","q":"r","kind":"Cal_fill","T":6.6e-4,"v":1.75},
{"site":440,"comp":"XX","q":"r","kind":"Cal_fill","T":1.28e-3,"v":3.25},
{"site":440,"comp":"XX","q":"r","kind":"Cal_fill","T":3.8e-3,"v":5.5},
{"site":440,"comp":"XX","q":"r","kind":"Cal_fill","T":8.7e-3,"v":10},
{"site":440,"comp":"XX","q":"r","kind":"Cal_fill","T":0.03,"v":9.1},
{"site":440,"comp":"XX","q":"r","kind":"Cal_fill","T":0.062,"v":6.4},
{"site":440,"comp":"XX","q":"r","kind":"Cal_fill","T":0.145,"v":5.3},
{"site":440,"comp":"XX","q":"r","kind":"Cal_fill","T":0.43,"v":5.1},
{"site":440,"comp":"XX","q":"r","kind":"Cal_fill","T":1.17,"v":5.5},
{"site":440,"comp":"YY","q":"r","kind":"Cal_inv","T":1.12e-4,"v":0.0042},
{"site":440,"comp":"YY","q":"r","kind":"Cal_inv","T":2.8e-4,"v":0.022},
{"site":440,"comp":"YY","q":"r","kind":"Cal_inv","T":6.6e-4,"v":0.117},
{"site":440,"comp":"YY","q":"r","kind":"Cal_inv","T":1.28e-3,"v":0.47},
{"site":440,"comp":"YY","q":"r","kind":"Cal_inv","T":3.8e-3,"v":1.12},
{"site":440,"comp":"YY","q":"r","kind":"Cal_inv","T":8.7e-3,"v":1.04},
{"site":440,"comp":"YY","q":"r","kind":"Cal_inv","T":0.03,"v":0.66},
{"site":440,"comp":"YY","q":"r","kind":"Cal_inv","T":0.062,"v":0.64},
{"site":440,"comp":"YY","q":"r","kind":"Cal_inv","T":0.145,"v":1.03},
{"site":440,"comp":"YY","q":"r","kind":"Cal_inv","T":0.43,"v":1.25},
{"site":440,"comp":"YY","q":"r","kind":"Cal_inv","T":1.17,"v":0.47},
{"site":440,"comp":"YY","q":"r","kind":"Cal_fill","T":1.12e-4,"v":0.0042},
{"site":440,"comp":"YY","q":"r","kind":"Cal_fill","T":2.8e-4,"v":0.022},
{"site":440,"comp":"YY","q":"r","kind":"Cal_fill","T":6.6e-4,"v":0.117},
{"site":440,"comp":"YY","q":"r","kind":"Cal_fill","T":1.28e-3,"v":0.47},
{"site":440,"comp":"YY","q":"r","kind":"Cal_fill","T":3.8e-3,"v":1.46},
{"site":440,"comp":"YY","q":"r","kind":"Cal_fill","T":8.7e-3,"v":2.28},
{"site":440,"comp":"YY","q":"r","kind":"Cal_fill","T":0.03,"v":2.2},
{"site":440,"comp":"YY","q":"r","kind":"Cal_fill","T":0.062,"v":1.75},
{"site":440,"comp":"YY","q":"r","kind":"Cal_fill","T":0.145,"v":2.3},
{"site":440,"comp":"YY","q":"r","kind":"Cal_fill","T":0.43,"v":5.8},
{"site":440,"comp":"YY","q":"r","kind":"Cal_fill","T":1.17,"v":8.3},
{"site":440,"comp":"XX","q":"p","kind":"Obs","T":1.12e-4,"v":86.9,"lo":68.7,"hi":104.7},
{"site":440,"comp":"XX","q":"p","kind":"Obs","T":1.28e-3,"v":-122.4,"lo":-137.3,"hi":-109.7},
{"site":440,"comp":"XX","q":"p","kind":"Obs","T":3.8e-3,"v":-134.6,"lo":-148.4,"hi":-121.3},
{"site":440,"comp":"XX","q":"p","kind":"Obs","T":8.7e-3,"v":-123.5,"lo":-139.0,"hi":-109.7},
{"site":440,"comp":"XX","q":"p","kind":"Obs","T":0.03,"v":-126.8,"lo":-147.3,"hi":-104.7},
{"site":440,"comp":"XX","q":"p","kind":"Obs","T":0.062,"v":-144.5,"lo":-170.6,"hi":-116.9},
{"site":440,"comp":"XX","q":"p","kind":"Obs","T":0.145,"v":171.1,"lo":151.7,"hi":181},
{"site":440,"comp":"XX","q":"p","kind":"Obs","T":0.43,"v":-166.7,"lo":-173.3,"hi":-160.0},
{"site":440,"comp":"YY","q":"p","kind":"Obs","T":1.12e-4,"v":6.1,"lo":-12.7,"hi":24.4},
{"site":440,"comp":"YY","q":"p","kind":"Obs","T":1.28e-3,"v":12.2,"lo":5.0,"hi":18.8},
{"site":440,"comp":"YY","q":"p","kind":"Obs","T":3.8e-3,"v":36.6,"lo":17.2,"hi":54.8},
{"site":440,"comp":"YY","q":"p","kind":"Obs","T":8.7e-3,"v":43.8,"lo":25.5,"hi":60.4},
{"site":440,"comp":"YY","q":"p","kind":"Obs","T":0.03,"v":44.9,"lo":28.8,"hi":60.4},
{"site":440,"comp":"YY","q":"p","kind":"Obs","T":0.062,"v":43.8,"lo":31.0,"hi":56.5},
{"site":440,"comp":"YY","q":"p","kind":"Obs","T":0.145,"v":54.8,"lo":42.6,"hi":65.9},
{"site":440,"comp":"YY","q":"p","kind":"Obs","T":0.43,"v":64.8,"lo":49.3,"hi":79.7},
{"site":440,"comp":"XX","q":"p","kind":"Cal_inv","T":1.12e-4,"v":139.0},
{"site":440,"comp":"XX","q":"p","kind":"Cal_inv","T":2.8e-4,"v":155.6},
{"site":440,"comp":"XX","q":"p","kind":"Cal_inv","T":6.6e-4,"v":177.8},
{"site":440,"comp":"XX","q":"p","kind":"Cal_inv","T":1.28e-3,"v":-165.0},
{"site":440,"comp":"XX","q":"p","kind":"Cal_inv","T":3.8e-3,"v":-141.8},
{"site":440,"comp":"XX","q":"p","kind":"Cal_inv","T":8.7e-3,"v":-111.3},
{"site":440,"comp":"XX","q":"p","kind":"Cal_inv","T":0.03,"v":-86.4},
{"site":440,"comp":"XX","q":"p","kind":"Cal_inv","T":0.062,"v":-116.9},
{"site":440,"comp":"XX","q":"p","kind":"Cal_inv","T":0.145,"v":177.8},
{"site":440,"comp":"XX","q":"p","kind":"Cal_inv","T":0.43,"v":-158.4},
{"site":440,"comp":"XX","q":"p","kind":"Cal_inv","T":1.17,"v":-141.8},
{"site":440,"comp":"XX","q":"p","kind":"Cal_fill","T":1.12e-4,"v":139.0},
{"site":440,"comp":"XX","q":"p","kind":"Cal_fill","T":2.8e-4,"v":155.6},
{"site":440,"comp":"XX","q":"p","kind":"Cal_fill","T":6.6e-4,"v":177.8},
{"site":440,"comp":"XX","q":"p","kind":"Cal_fill","T":1.28e-3,"v":-175.0},
{"site":440,"comp":"XX","q":"p","kind":"Cal_fill","T":3.8e-3,"v":-163.9},
{"site":440,"comp":"XX","q":"p","kind":"Cal_fill","T":8.7e-3,"v":-141.8},
{"site":440,"comp":"XX","q":"p","kind":"Cal_fill","T":0.03,"v":-119.6},
{"site":440,"comp":"XX","q":"p","kind":"Cal_fill","T":0.062,"v":-114.1},
{"site":440,"comp":"XX","q":"p","kind":"Cal_fill","T":0.145,"v":-111.3},
{"site":440,"comp":"XX","q":"p","kind":"Cal_fill","T":0.43,"v":-83.6},
{"site":440,"comp":"XX","q":"p","kind":"Cal_fill","T":1.17,"v":-46.5},
{"site":440,"comp":"YY","q":"p","kind":"Cal_inv","T":1.12e-4,"v":-173.3},
{"site":440,"comp":"YY","q":"p","kind":"Cal_inv","T":2.8e-4,"v":-134.6},
{"site":440,"comp":"YY","q":"p","kind":"Cal_inv","T":6.6e-4,"v":-83.6},
{"site":440,"comp":"YY","q":"p","kind":"Cal_inv","T":1.28e-3,"v":-38.2},
{"site":440,"comp":"YY","q":"p","kind":"Cal_inv","T":3.8e-3,"v":16.1},
{"site":440,"comp":"YY","q":"p","kind":"Cal_inv","T":8.7e-3,"v":38.2},
{"site":440,"comp":"YY","q":"p","kind":"Cal_inv","T":0.03,"v":45.4},
{"site":440,"comp":"YY","q":"p","kind":"Cal_inv","T":0.062,"v":37.1},
{"site":440,"comp":"YY","q":"p","kind":"Cal_inv","T":0.145,"v":34.3},
{"site":440,"comp":"YY","q":"p","kind":"Cal_inv","T":0.43,"v":53.2},
{"site":440,"comp":"YY","q":"p","kind":"Cal_inv","T":1.17,"v":57.6},
{"site":440,"comp":"YY","q":"p","kind":"Cal_fill","T":1.12e-4,"v":-173.3},
{"site":440,"comp":"YY","q":"p","kind":"Cal_fill","T":2.8e-4,"v":-134.6},
{"site":440,"comp":"YY","q":"p","kind":"Cal_fill","T":6.6e-4,"v":-83.6},
{"site":440,"comp":"YY","q":"p","kind":"Cal_fill","T":1.28e-3,"v":-42.0},
{"site":440,"comp":"YY","q":"p","kind":"Cal_fill","T":3.8e-3,"v":2.2},
{"site":440,"comp":"YY","q":"p","kind":"Cal_fill","T":8.7e-3,"v":27.1},
{"site":440,"comp":"YY","q":"p","kind":"Cal_fill","T":0.03,"v":71.4},
{"site":440,"comp":"YY","q":"p","kind":"Cal_fill","T":0.062,"v":90.8},
{"site":440,"comp":"YY","q":"p","kind":"Cal_fill","T":0.145,"v":124.1},
{"site":440,"comp":"YY","q":"p","kind":"Cal_fill","T":0.43,"v":176.7},
{"site":440,"comp":"YY","q":"p","kind":"Cal_fill","T":1.17,"v":-141.8},
{"site":520,"comp":"XX","q":"r","kind":"Obs","T":1.12e-4,"v":0.19,"lo":0.0001,"hi":0.58},
{"site":520,"comp":"XX","q":"r","kind":"Obs","T":1.28e-3,"v":0.0167,"lo":0.0167,"hi":0.0167},
{"site":520,"comp":"XX","q":"r","kind":"Obs","T":3.8e-3,"v":0.03,"lo":0.0001,"hi":0.18},
{"site":520,"comp":"XX","q":"r","kind":"Obs","T":8.7e-3,"v":0.3,"lo":0.0001,"hi":0.72},
{"site":520,"comp":"XX","q":"r","kind":"Obs","T":0.03,"v":0.61,"lo":0.0054,"hi":1.25},
{"site":520,"comp":"XX","q":"r","kind":"Obs","T":0.062,"v":0.76,"lo":0.075,"hi":1.41},
{"site":520,"comp":"XX","q":"r","kind":"Obs","T":0.145,"v":1.94,"lo":0.86,"hi":3.1},
{"site":520,"comp":"XX","q":"r","kind":"Obs","T":0.43,"v":3.96,"lo":2.2,"hi":5.8},
{"site":520,"comp":"XX","q":"r","kind":"Obs","T":1.17,"v":6.6,"lo":4.1,"hi":8.3},
{"site":520,"comp":"YY","q":"r","kind":"Obs","T":1.12e-4,"v":0.051,"lo":0.0001,"hi":0.26},
{"site":520,"comp":"YY","q":"r","kind":"Obs","T":1.28e-3,"v":0.117,"lo":0.0001,"hi":0.41},
{"site":520,"comp":"YY","q":"r","kind":"Obs","T":3.8e-3,"v":0.073,"lo":0.0001,"hi":0.3},
{"site":520,"comp":"YY","q":"r","kind":"Obs","T":8.7e-3,"v":0.036,"lo":0.0001,"hi":0.19},
{"site":520,"comp":"YY","q":"r","kind":"Obs","T":0.03,"v":0.3,"lo":0.0001,"hi":0.69},
{"site":520,"comp":"YY","q":"r","kind":"Obs","T":0.062,"v":0.76,"lo":0.128,"hi":1.41},
{"site":520,"comp":"YY","q":"r","kind":"Obs","T":0.145,"v":2.9,"lo":1.54,"hi":4.25},
{"site":520,"comp":"YY","q":"r","kind":"Obs","T":0.43,"v":7.9,"lo":5.5,"hi":10},
{"site":520,"comp":"YY","q":"r","kind":"Obs","T":1.17,"v":5.5,"lo":3.6,"hi":7.9},
{"site":520,"comp":"XX","q":"r","kind":"Cal_inv","T":1.12e-4,"v":0.0022},
{"site":520,"comp":"XX","q":"r","kind":"Cal_inv","T":2.8e-4,"v":0.0098},
{"site":520,"comp":"XX","q":"r","kind":"Cal_inv","T":6.6e-4,"v":0.029},
{"site":520,"comp":"XX","q":"r","kind":"Cal_inv","T":1.28e-3,"v":0.053},
{"site":520,"comp":"XX","q":"r","kind":"Cal_inv","T":3.8e-3,"v":0.17},
{"site":520,"comp":"XX","q":"r","kind":"Cal_inv","T":8.7e-3,"v":0.41},
{"site":520,"comp":"XX","q":"r","kind":"Cal_inv","T":0.03,"v":0.53},
{"site":520,"comp":"XX","q":"r","kind":"Cal_inv","T":0.062,"v":0.34},
{"site":520,"comp":"XX","q":"r","kind":"Cal_inv","T":0.145,"v":0.53},
{"site":520,"comp":"XX","q":"r","kind":"Cal_inv","T":0.43,"v":2.3},
{"site":520,"comp":"XX","q":"r","kind":"Cal_inv","T":1.17,"v":5.1},
{"site":520,"comp":"XX","q":"r","kind":"Cal_fill","T":1.12e-4,"v":0.0022},
{"site":520,"comp":"XX","q":"r","kind":"Cal_fill","T":2.8e-4,"v":0.0098},
{"site":520,"comp":"XX","q":"r","kind":"Cal_fill","T":6.6e-4,"v":0.029},
{"site":520,"comp":"XX","q":"r","kind":"Cal_fill","T":1.28e-3,"v":0.053},
{"site":520,"comp":"XX","q":"r","kind":"Cal_fill","T":3.8e-3,"v":0.17},
{"site":520,"comp":"XX","q":"r","kind":"Cal_fill","T":8.7e-3,"v":0.41},
{"site":520,"comp":"XX","q":"r","kind":"Cal_fill","T":0.03,"v":0.35},
{"site":520,"comp":"XX","q":"r","kind":"Cal_fill","T":0.062,"v":0.53},
{"site":520,"comp":"XX","q":"r","kind":"Cal_fill","T":0.145,"v":2.6},
{"site":520,"comp":"XX","q":"r","kind":"Cal_fill","T":0.43,"v":9.4},
{"site":520,"comp":"XX","q":"r","kind":"Cal_fill","T":1.17,"v":25.5},
{"site":520,"comp":"YY","q":"r","kind":"Cal_inv","T":1.12e-4,"v":0.0028},
{"site":520,"comp":"YY","q":"r","kind":"Cal_inv","T":2.8e-4,"v":0.0057},
{"site":520,"comp":"YY","q":"r","kind":"Cal_inv","T":6.6e-4,"v":0.0058},
{"site":520,"comp":"YY","q":"r","kind":"Cal_inv","T":1.28e-3,"v":0.0058},
{"site":520,"comp":"YY","q":"r","kind":"Cal_inv","T":3.8e-3,"v":0.0027},
{"site":520,"comp":"YY","q":"r","kind":"Cal_inv","T":8.7e-3,"v":0.005},
{"site":520,"comp":"YY","q":"r","kind":"Cal_inv","T":0.03,"v":0.033},
{"site":520,"comp":"YY","q":"r","kind":"Cal_inv","T":0.062,"v":0.24},
{"site":520,"comp":"YY","q":"r","kind":"Cal_inv","T":0.145,"v":1.29},
{"site":520,"comp":"YY","q":"r","kind":"Cal_inv","T":0.43,"v":5.3},
{"site":520,"comp":"YY","q":"r","kind":"Cal_inv","T":1.17,"v":9.1},
{"site":520,"comp":"YY","q":"r","kind":"Cal_fill","T":1.12e-4,"v":0.0028},
{"site":520,"comp":"YY","q":"r","kind":"Cal_fill","T":2.8e-4,"v":0.0058},
{"site":520,"comp":"YY","q":"r","kind":"Cal_fill","T":6.6e-4,"v":0.008},
{"site":520,"comp":"YY","q":"r","kind":"Cal_fill","T":1.28e-3,"v":0.0125},
{"site":520,"comp":"YY","q":"r","kind":"Cal_fill","T":3.8e-3,"v":0.042},
{"site":520,"comp":"YY","q":"r","kind":"Cal_fill","T":8.7e-3,"v":0.11},
{"site":520,"comp":"YY","q":"r","kind":"Cal_fill","T":0.03,"v":0.39},
{"site":520,"comp":"YY","q":"r","kind":"Cal_fill","T":0.062,"v":1.29},
{"site":520,"comp":"YY","q":"r","kind":"Cal_fill","T":0.145,"v":5.8},
{"site":520,"comp":"YY","q":"r","kind":"Cal_fill","T":0.43,"v":20},
{"site":520,"comp":"YY","q":"r","kind":"Cal_fill","T":1.17,"v":31.5},
{"site":520,"comp":"XX","q":"p","kind":"Obs","T":8.7e-3,"v":-7.8,"lo":-62.6,"hi":46.5},
{"site":520,"comp":"XX","q":"p","kind":"Obs","T":0.03,"v":29.9,"lo":-0.6,"hi":60.4},
{"site":520,"comp":"XX","q":"p","kind":"Obs","T":0.062,"v":24.4,"lo":-2.2,"hi":50.4},
{"site":520,"comp":"XX","q":"p","kind":"Obs","T":0.145,"v":19.9,"lo":5.0,"hi":35.4},
{"site":520,"comp":"XX","q":"p","kind":"Obs","T":0.43,"v":26.0,"lo":13.3,"hi":35.4},
{"site":520,"comp":"XX","q":"p","kind":"Obs","T":1.17,"v":0.6,"lo":-7.8,"hi":9.4},
{"site":520,"comp":"YY","q":"p","kind":"Obs","T":0.03,"v":113.0,"lo":60.4,"hi":165.6},
{"site":520,"comp":"YY","q":"p","kind":"Obs","T":0.062,"v":139.0,"lo":114.1,"hi":163.9},
{"site":520,"comp":"YY","q":"p","kind":"Obs","T":0.145,"v":158.4,"lo":145.1,"hi":171.1},
{"site":520,"comp":"YY","q":"p","kind":"Obs","T":0.43,"v":-169.5,"lo":-177.8,"hi":-160.0},
{"site":520,"comp":"YY","q":"p","kind":"Obs","T":1.17,"v":-139.0,"lo":-149.0,"hi":-129.6},
{"site":520,"comp":"XX","q":"p","kind":"Cal_inv","T":1.12e-4,"v":-119.6},
{"site":520,"comp":"XX","q":"p","kind":"Cal_inv","T":2.8e-4,"v":-80.9},
{"site":520,"comp":"XX","q":"p","kind":"Cal_inv","T":6.6e-4,"v":-36.6},
{"site":520,"comp":"XX","q":"p","kind":"Cal_inv","T":1.28e-3,"v":-16.1},
{"site":520,"comp":"XX","q":"p","kind":"Cal_inv","T":3.8e-3,"v":-4.4},
{"site":520,"comp":"XX","q":"p","kind":"Cal_inv","T":8.7e-3,"v":13.3},
{"site":520,"comp":"XX","q":"p","kind":"Cal_inv","T":0.03,"v":41.0},
{"site":520,"comp":"XX","q":"p","kind":"Cal_inv","T":0.062,"v":38.2},
{"site":520,"comp":"XX","q":"p","kind":"Cal_inv","T":0.145,"v":10.5},
{"site":520,"comp":"XX","q":"p","kind":"Cal_inv","T":0.43,"v":1.1},
{"site":520,"comp":"XX","q":"p","kind":"Cal_inv","T":1.17,"v":11.6},
{"site":520,"comp":"XX","q":"p","kind":"Cal_fill","T":1.12e-4,"v":-119.6},
{"site":520,"comp":"XX","q":"p","kind":"Cal_fill","T":2.8e-4,"v":-80.9},
{"site":520,"comp":"XX","q":"p","kind":"Cal_fill","T":6.6e-4,"v":-36.6},
{"site":520,"comp":"XX","q":"p","kind":"Cal_fill","T":1.28e-3,"v":-16.1},
{"site":520,"comp":"XX","q":"p","kind":"Cal_fill","T":3.8e-3,"v":-4.4},
{"site":520,"comp":"XX","q":"p","kind":"Cal_fill","T":8.7e-3,"v":13.3},
{"site":520,"comp":"XX","q":"p","kind":"Cal_fill","T":0.03,"v":32.7},
{"site":520,"comp":"XX","q":"p","kind":"Cal_fill","T":0.062,"v":-3.3},
{"site":520,"comp":"XX","q":"p","kind":"Cal_fill","T":0.145,"v":-13.3},
{"site":520,"comp":"XX","q":"p","kind":"Cal_fill","T":0.43,"v":-3.3},
{"site":520,"comp":"XX","q":"p","kind":"Cal_fill","T":1.17,"v":7.8},
{"site":520,"comp":"YY","q":"p","kind":"Cal_inv","T":1.12e-4,"v":-119.6},
{"site":520,"comp":"YY","q":"p","kind":"Cal_inv","T":2.8e-4,"v":-21.6},
{"site":520,"comp":"YY","q":"p","kind":"Cal_inv","T":6.6e-4,"v":38.2},
{"site":520,"comp":"YY","q":"p","kind":"Cal_inv","T":1.28e-3,"v":68.7},
{"site":520,"comp":"YY","q":"p","kind":"Cal_inv","T":3.8e-3,"v":135.1},
{"site":520,"comp":"YY","q":"p","kind":"Cal_inv","T":8.7e-3,"v":124.1},
{"site":520,"comp":"YY","q":"p","kind":"Cal_inv","T":0.03,"v":140.7},
{"site":520,"comp":"YY","q":"p","kind":"Cal_inv","T":0.062,"v":137.9},
{"site":520,"comp":"YY","q":"p","kind":"Cal_inv","T":0.145,"v":158.4},
{"site":520,"comp":"YY","q":"p","kind":"Cal_inv","T":0.43,"v":180},
{"site":520,"comp":"YY","q":"p","kind":"Cal_inv","T":1.17,"v":-139.0},
{"site":520,"comp":"YY","q":"p","kind":"Cal_fill","T":1.12e-4,"v":-119.6},
{"site":520,"comp":"YY","q":"p","kind":"Cal_fill","T":2.8e-4,"v":-21.6},
{"site":520,"comp":"YY","q":"p","kind":"Cal_fill","T":6.6e-4,"v":38.2},
{"site":520,"comp":"YY","q":"p","kind":"Cal_fill","T":1.28e-3,"v":66.0},
{"site":520,"comp":"YY","q":"p","kind":"Cal_fill","T":3.8e-3,"v":126.8},
{"site":520,"comp":"YY","q":"p","kind":"Cal_fill","T":8.7e-3,"v":146.2},
{"site":520,"comp":"YY","q":"p","kind":"Cal_fill","T":0.03,"v":157.3},
{"site":520,"comp":"YY","q":"p","kind":"Cal_fill","T":0.062,"v":157.3},
{"site":520,"comp":"YY","q":"p","kind":"Cal_fill","T":0.145,"v":160.0},
{"site":520,"comp":"YY","q":"p","kind":"Cal_fill","T":0.43,"v":-169.5},
{"site":520,"comp":"YY","q":"p","kind":"Cal_fill","T":1.17,"v":-139.0}
]},
"vconcat":[
{"vconcat":[
{"vconcat":[
{"hconcat":[
{"width":423,"height":422,"title":"170 (test C-2)","transform":[{"filter":{"and":[{"field":"site","equal":170},{"field":"q","equal":"r"},{"field":"comp","oneOf":["XY","YX"]}]}}],
"encoding":{"x":{"field":"T","type":"quantitative","scale":{"type":"log","domain":[0.00005,2],"nice":false},"axis":null},"y":{"field":"v","type":"quantitative","scale":{"type":"log","domain":[3.1623,3162.3],"nice":false},"axis":null}},
"layer":[
{"transform":[{"filter":{"field":"kind","equal":"Cal_fill"}}],"mark":{"type":"line","strokeWidth":2.5,"strokeDash":[16,9],"clip":true},"encoding":{"x":{"field":"T","type":"quantitative","scale":{"type":"log","domain":[0.00005,2],"nice":false},"axis":{"orient":"bottom","labels":false,"title":null,"tickSize":{"condition":{"test":"abs(log(datum.value)/LN10-round(log(datum.value)/LN10))<0.001","value":13},"value":7}}},"y":{"field":"v","type":"quantitative","scale":{"type":"log","domain":[3.1623,3162.3],"nice":false},"axis":{"orient":"left","labelExpr":"datum.value==10?'10¹':datum.value==100?'10²':datum.value==1000?'10³':''","title":"Apparent resis. [Ωm]","titlePadding":32,"minExtent":60,"maxExtent":60,"labelPadding":6,"grid":true,"gridOpacity":{"condition":{"test":"abs(log(datum.value)/LN10-round(log(datum.value)/LN10))<0.001","value":1},"value":0},"tickSize":{"condition":{"test":"abs(log(datum.value)/LN10-round(log(datum.value)/LN10))<0.001","value":13},"value":7}}},"stroke":{"field":"comp","type":"nominal","scale":{"domain":["XY","YX","XX","YY"],"range":["#ff0000","#0000ff","#1fb01f","#ff00ff"]},"legend":null}}},
{"transform":[{"filter":{"field":"kind","equal":"Cal_inv"}}],"mark":{"type":"line","strokeWidth":2.5,"clip":true},"encoding":{"x":{"field":"T","type":"quantitative","scale":{"type":"log","domain":[0.00005,2],"nice":false},"axis":{"orient":"top","labels":false,"title":null,"tickSize":{"condition":{"test":"abs(log(datum.value)/LN10-round(log(datum.value)/LN10))<0.001","value":13},"value":7}}},"y":{"field":"v","type":"quantitative","scale":{"type":"log","domain":[3.1623,3162.3],"nice":false},"axis":{"orient":"right","labels":false,"title":null,"tickSize":{"condition":{"test":"abs(log(datum.value)/LN10-round(log(datum.value)/LN10))<0.001","value":13},"value":7}}},"stroke":{"field":"comp","type":"nominal","scale":{"domain":["XY","YX","XX","YY"],"range":["#ff0000","#0000ff","#1fb01f","#ff00ff"]},"legend":null}}},
{"transform":[{"filter":{"field":"kind","equal":"Obs"}}],"mark":{"type":"rule","strokeWidth":2.5,"clip":true},"encoding":{"y":{"field":"lo","type":"quantitative","scale":{"type":"log","domain":[3.1623,3162.3],"nice":false},"axis":null},"y2":{"field":"hi"},"color":{"field":"comp","type":"nominal","scale":{"domain":["XY","YX","XX","YY"],"range":["#b00000","#0000b0","#006e00","#b000b0"]},"legend":null}}},
{"transform":[{"filter":{"field":"kind","equal":"Obs"}}],"mark":{"type":"tick","orient":"horizontal","size":17,"thickness":2.5,"clip":true},"encoding":{"y":{"field":"lo","type":"quantitative","scale":{"type":"log","domain":[3.1623,3162.3],"nice":false},"axis":null},"color":{"field":"comp","type":"nominal","scale":{"domain":["XY","YX","XX","YY"],"range":["#b00000","#0000b0","#006e00","#b000b0"]},"legend":null}}},
{"transform":[{"filter":{"field":"kind","equal":"Obs"}}],"mark":{"type":"tick","orient":"horizontal","size":17,"thickness":2.5,"clip":true},"encoding":{"y":{"field":"hi","type":"quantitative","scale":{"type":"log","domain":[3.1623,3162.3],"nice":false},"axis":null},"color":{"field":"comp","type":"nominal","scale":{"domain":["XY","YX","XX","YY"],"range":["#b00000","#0000b0","#006e00","#b000b0"]},"legend":null}}},
{"transform":[{"filter":{"field":"kind","equal":"Obs"}}],"mark":{"type":"point","shape":"diamond","filled":true,"opacity":1,"size":440,"clip":true},"encoding":{"color":{"field":"comp","type":"nominal","scale":{"domain":["XY","YX","XX","YY"],"range":["#b00000","#0000b0","#006e00","#b000b0"]},"legend":null}}}
],"resolve":{"axis":{"x":"independent","y":"independent"}}},
{"width":423,"height":422,"title":"370 (test C-2)","transform":[{"filter":{"and":[{"field":"site","equal":370},{"field":"q","equal":"r"},{"field":"comp","oneOf":["XY","YX"]}]}}],
"encoding":{"x":{"field":"T","type":"quantitative","scale":{"type":"log","domain":[0.00005,2],"nice":false},"axis":null},"y":{"field":"v","type":"quantitative","scale":{"type":"log","domain":[3.1623,3162.3],"nice":false},"axis":null}},
"layer":[
{"transform":[{"filter":{"field":"kind","equal":"Cal_fill"}}],"mark":{"type":"line","strokeWidth":2.5,"strokeDash":[16,9],"clip":true},"encoding":{"x":{"field":"T","type":"quantitative","scale":{"type":"log","domain":[0.00005,2],"nice":false},"axis":{"orient":"bottom","labels":false,"title":null,"tickSize":{"condition":{"test":"abs(log(datum.value)/LN10-round(log(datum.value)/LN10))<0.001","value":13},"value":7}}},"y":{"field":"v","type":"quantitative","scale":{"type":"log","domain":[3.1623,3162.3],"nice":false},"axis":{"orient":"left","labels":false,"title":null,"grid":true,"gridOpacity":{"condition":{"test":"abs(log(datum.value)/LN10-round(log(datum.value)/LN10))<0.001","value":1},"value":0},"tickSize":{"condition":{"test":"abs(log(datum.value)/LN10-round(log(datum.value)/LN10))<0.001","value":13},"value":7}}},"stroke":{"field":"comp","type":"nominal","scale":{"domain":["XY","YX","XX","YY"],"range":["#ff0000","#0000ff","#1fb01f","#ff00ff"]},"legend":null}}},
{"transform":[{"filter":{"field":"kind","equal":"Cal_inv"}}],"mark":{"type":"line","strokeWidth":2.5,"clip":true},"encoding":{"x":{"field":"T","type":"quantitative","scale":{"type":"log","domain":[0.00005,2],"nice":false},"axis":{"orient":"top","labels":false,"title":null,"tickSize":{"condition":{"test":"abs(log(datum.value)/LN10-round(log(datum.value)/LN10))<0.001","value":13},"value":7}}},"y":{"field":"v","type":"quantitative","scale":{"type":"log","domain":[3.1623,3162.3],"nice":false},"axis":{"orient":"right","labels":false,"title":null,"tickSize":{"condition":{"test":"abs(log(datum.value)/LN10-round(log(datum.value)/LN10))<0.001","value":13},"value":7}}},"stroke":{"field":"comp","type":"nominal","scale":{"domain":["XY","YX","XX","YY"],"range":["#ff0000","#0000ff","#1fb01f","#ff00ff"]},"legend":null}}},
{"transform":[{"filter":{"field":"kind","equal":"Obs"}}],"mark":{"type":"rule","strokeWidth":2.5,"clip":true},"encoding":{"y":{"field":"lo","type":"quantitative","scale":{"type":"log","domain":[3.1623,3162.3],"nice":false},"axis":null},"y2":{"field":"hi"},"color":{"field":"comp","type":"nominal","scale":{"domain":["XY","YX","XX","YY"],"range":["#b00000","#0000b0","#006e00","#b000b0"]},"legend":null}}},
{"transform":[{"filter":{"field":"kind","equal":"Obs"}}],"mark":{"type":"tick","orient":"horizontal","size":17,"thickness":2.5,"clip":true},"encoding":{"y":{"field":"lo","type":"quantitative","scale":{"type":"log","domain":[3.1623,3162.3],"nice":false},"axis":null},"color":{"field":"comp","type":"nominal","scale":{"domain":["XY","YX","XX","YY"],"range":["#b00000","#0000b0","#006e00","#b000b0"]},"legend":null}}},
{"transform":[{"filter":{"field":"kind","equal":"Obs"}}],"mark":{"type":"tick","orient":"horizontal","size":17,"thickness":2.5,"clip":true},"encoding":{"y":{"field":"hi","type":"quantitative","scale":{"type":"log","domain":[3.1623,3162.3],"nice":false},"axis":null},"color":{"field":"comp","type":"nominal","scale":{"domain":["XY","YX","XX","YY"],"range":["#b00000","#0000b0","#006e00","#b000b0"]},"legend":null}}},
{"transform":[{"filter":{"field":"kind","equal":"Obs"}}],"mark":{"type":"point","shape":"diamond","filled":true,"opacity":1,"size":440,"clip":true},"encoding":{"color":{"field":"comp","type":"nominal","scale":{"domain":["XY","YX","XX","YY"],"range":["#b00000","#0000b0","#006e00","#b000b0"]},"legend":null}}}
],"resolve":{"axis":{"x":"independent","y":"independent"}}},
{"width":423,"height":422,"title":"440 (test C-1)","transform":[{"filter":{"and":[{"field":"site","equal":440},{"field":"q","equal":"r"},{"field":"comp","oneOf":["XY","YX"]}]}}],
"encoding":{"x":{"field":"T","type":"quantitative","scale":{"type":"log","domain":[0.00005,2],"nice":false},"axis":null},"y":{"field":"v","type":"quantitative","scale":{"type":"log","domain":[3.1623,3162.3],"nice":false},"axis":null}},
"layer":[
{"transform":[{"filter":{"field":"kind","equal":"Cal_fill"}}],"mark":{"type":"line","strokeWidth":2.5,"strokeDash":[16,9],"clip":true},"encoding":{"x":{"field":"T","type":"quantitative","scale":{"type":"log","domain":[0.00005,2],"nice":false},"axis":{"orient":"bottom","labels":false,"title":null,"tickSize":{"condition":{"test":"abs(log(datum.value)/LN10-round(log(datum.value)/LN10))<0.001","value":13},"value":7}}},"y":{"field":"v","type":"quantitative","scale":{"type":"log","domain":[3.1623,3162.3],"nice":false},"axis":{"orient":"left","labels":false,"title":null,"grid":true,"gridOpacity":{"condition":{"test":"abs(log(datum.value)/LN10-round(log(datum.value)/LN10))<0.001","value":1},"value":0},"tickSize":{"condition":{"test":"abs(log(datum.value)/LN10-round(log(datum.value)/LN10))<0.001","value":13},"value":7}}},"stroke":{"field":"comp","type":"nominal","scale":{"domain":["XY","YX","XX","YY"],"range":["#ff0000","#0000ff","#1fb01f","#ff00ff"]},"legend":null}}},
{"transform":[{"filter":{"field":"kind","equal":"Cal_inv"}}],"mark":{"type":"line","strokeWidth":2.5,"clip":true},"encoding":{"x":{"field":"T","type":"quantitative","scale":{"type":"log","domain":[0.00005,2],"nice":false},"axis":{"orient":"top","labels":false,"title":null,"tickSize":{"condition":{"test":"abs(log(datum.value)/LN10-round(log(datum.value)/LN10))<0.001","value":13},"value":7}}},"y":{"field":"v","type":"quantitative","scale":{"type":"log","domain":[3.1623,3162.3],"nice":false},"axis":{"orient":"right","labels":false,"title":null,"tickSize":{"condition":{"test":"abs(log(datum.value)/LN10-round(log(datum.value)/LN10))<0.001","value":13},"value":7}}},"stroke":{"field":"comp","type":"nominal","scale":{"domain":["XY","YX","XX","YY"],"range":["#ff0000","#0000ff","#1fb01f","#ff00ff"]},"legend":null}}},
{"transform":[{"filter":{"field":"kind","equal":"Obs"}}],"mark":{"type":"rule","strokeWidth":2.5,"clip":true},"encoding":{"y":{"field":"lo","type":"quantitative","scale":{"type":"log","domain":[3.1623,3162.3],"nice":false},"axis":null},"y2":{"field":"hi"},"color":{"field":"comp","type":"nominal","scale":{"domain":["XY","YX","XX","YY"],"range":["#b00000","#0000b0","#006e00","#b000b0"]},"legend":null}}},
{"transform":[{"filter":{"field":"kind","equal":"Obs"}}],"mark":{"type":"tick","orient":"horizontal","size":17,"thickness":2.5,"clip":true},"encoding":{"y":{"field":"lo","type":"quantitative","scale":{"type":"log","domain":[3.1623,3162.3],"nice":false},"axis":null},"color":{"field":"comp","type":"nominal","scale":{"domain":["XY","YX","XX","YY"],"range":["#b00000","#0000b0","#006e00","#b000b0"]},"legend":null}}},
{"transform":[{"filter":{"field":"kind","equal":"Obs"}}],"mark":{"type":"tick","orient":"horizontal","size":17,"thickness":2.5,"clip":true},"encoding":{"y":{"field":"hi","type":"quantitative","scale":{"type":"log","domain":[3.1623,3162.3],"nice":false},"axis":null},"color":{"field":"comp","type":"nominal","scale":{"domain":["XY","YX","XX","YY"],"range":["#b00000","#0000b0","#006e00","#b000b0"]},"legend":null}}},
{"transform":[{"filter":{"field":"kind","equal":"Obs"}}],"mark":{"type":"point","shape":"diamond","filled":true,"opacity":1,"size":440,"clip":true},"encoding":{"color":{"field":"comp","type":"nominal","scale":{"domain":["XY","YX","XX","YY"],"range":["#b00000","#0000b0","#006e00","#b000b0"]},"legend":null}}}
],"resolve":{"axis":{"x":"independent","y":"independent"}}},
{"width":423,"height":422,"title":"520 (test C-1)","transform":[{"filter":{"and":[{"field":"site","equal":520},{"field":"q","equal":"r"},{"field":"comp","oneOf":["XY","YX"]}]}}],
"encoding":{"x":{"field":"T","type":"quantitative","scale":{"type":"log","domain":[0.00005,2],"nice":false},"axis":null},"y":{"field":"v","type":"quantitative","scale":{"type":"log","domain":[3.1623,3162.3],"nice":false},"axis":null}},
"layer":[
{"transform":[{"filter":{"field":"kind","equal":"Cal_fill"}}],"mark":{"type":"line","strokeWidth":2.5,"strokeDash":[16,9],"clip":true},"encoding":{"x":{"field":"T","type":"quantitative","scale":{"type":"log","domain":[0.00005,2],"nice":false},"axis":{"orient":"bottom","labels":false,"title":null,"tickSize":{"condition":{"test":"abs(log(datum.value)/LN10-round(log(datum.value)/LN10))<0.001","value":13},"value":7}}},"y":{"field":"v","type":"quantitative","scale":{"type":"log","domain":[3.1623,3162.3],"nice":false},"axis":{"orient":"left","labels":false,"title":null,"grid":true,"gridOpacity":{"condition":{"test":"abs(log(datum.value)/LN10-round(log(datum.value)/LN10))<0.001","value":1},"value":0},"tickSize":{"condition":{"test":"abs(log(datum.value)/LN10-round(log(datum.value)/LN10))<0.001","value":13},"value":7}}},"stroke":{"field":"comp","type":"nominal","scale":{"domain":["XY","YX","XX","YY"],"range":["#ff0000","#0000ff","#1fb01f","#ff00ff"]},"legend":null}}},
{"transform":[{"filter":{"field":"kind","equal":"Cal_inv"}}],"mark":{"type":"line","strokeWidth":2.5,"clip":true},"encoding":{"x":{"field":"T","type":"quantitative","scale":{"type":"log","domain":[0.00005,2],"nice":false},"axis":{"orient":"top","labels":false,"title":null,"tickSize":{"condition":{"test":"abs(log(datum.value)/LN10-round(log(datum.value)/LN10))<0.001","value":13},"value":7}}},"y":{"field":"v","type":"quantitative","scale":{"type":"log","domain":[3.1623,3162.3],"nice":false},"axis":{"orient":"right","labels":false,"title":null,"tickSize":{"condition":{"test":"abs(log(datum.value)/LN10-round(log(datum.value)/LN10))<0.001","value":13},"value":7}}},"stroke":{"field":"comp","type":"nominal","scale":{"domain":["XY","YX","XX","YY"],"range":["#ff0000","#0000ff","#1fb01f","#ff00ff"]},"legend":null}}},
{"transform":[{"filter":{"field":"kind","equal":"Obs"}}],"mark":{"type":"rule","strokeWidth":2.5,"clip":true},"encoding":{"y":{"field":"lo","type":"quantitative","scale":{"type":"log","domain":[3.1623,3162.3],"nice":false},"axis":null},"y2":{"field":"hi"},"color":{"field":"comp","type":"nominal","scale":{"domain":["XY","YX","XX","YY"],"range":["#b00000","#0000b0","#006e00","#b000b0"]},"legend":null}}},
{"transform":[{"filter":{"field":"kind","equal":"Obs"}}],"mark":{"type":"tick","orient":"horizontal","size":17,"thickness":2.5,"clip":true},"encoding":{"y":{"field":"lo","type":"quantitative","scale":{"type":"log","domain":[3.1623,3162.3],"nice":false},"axis":null},"color":{"field":"comp","type":"nominal","scale":{"domain":["XY","YX","XX","YY"],"range":["#b00000","#0000b0","#006e00","#b000b0"]},"legend":null}}},
{"transform":[{"filter":{"field":"kind","equal":"Obs"}}],"mark":{"type":"tick","orient":"horizontal","size":17,"thickness":2.5,"clip":true},"encoding":{"y":{"field":"hi","type":"quantitative","scale":{"type":"log","domain":[3.1623,3162.3],"nice":false},"axis":null},"color":{"field":"comp","type":"nominal","scale":{"domain":["XY","YX","XX","YY"],"range":["#b00000","#0000b0","#006e00","#b000b0"]},"legend":null}}},
{"transform":[{"filter":{"field":"kind","equal":"Obs"}}],"mark":{"type":"point","shape":"diamond","filled":true,"opacity":1,"size":440,"clip":true},"encoding":{"color":{"field":"comp","type":"nominal","scale":{"domain":["XY","YX","XX","YY"],"range":["#b00000","#0000b0","#006e00","#b000b0"]},"legend":null}}}
],"resolve":{"axis":{"x":"independent","y":"independent"}}}
],"spacing":42,"bounds":"flush"},
{"hconcat":[
{"width":423,"height":352,"transform":[{"filter":{"and":[{"field":"site","equal":170},{"field":"q","equal":"p"},{"field":"comp","oneOf":["XY","YX"]}]}}],
"encoding":{"x":{"field":"T","type":"quantitative","scale":{"type":"log","domain":[0.00005,2],"nice":false},"axis":null},"y":{"field":"v","type":"quantitative","scale":{"type":"linear","domain":[0,90],"nice":false,"zero":false},"axis":null}},
"layer":[
{"transform":[{"filter":{"field":"kind","equal":"Cal_fill"}}],"mark":{"type":"line","strokeWidth":2.5,"strokeDash":[16,9],"clip":true},"encoding":{"x":{"field":"T","type":"quantitative","scale":{"type":"log","domain":[0.00005,2],"nice":false},"axis":{"orient":"bottom","labelExpr":"datum.value==0.0001?'10⁻⁴':datum.value==0.001?'10⁻³':datum.value==0.01?'10⁻²':datum.value==0.1?'10⁻¹':datum.value==1?'10⁰':''","labelPadding":6,"title":null,"tickSize":{"condition":{"test":"abs(log(datum.value)/LN10-round(log(datum.value)/LN10))<0.001","value":13},"value":7}}},"y":{"field":"v","type":"quantitative","scale":{"type":"linear","domain":[0,90],"nice":false,"zero":false},"axis":{"orient":"left","values":[0,3,6,9,12,15,18,21,24,27,30,33,36,39,42,45,48,51,54,57,60,63,66,69,72,75,78,81,84,87,90],"tickCount":100,"labelExpr":"datum.value%15==0?datum.label:''","title":"Phase [deg.]","titlePadding":32,"minExtent":60,"maxExtent":60,"labelPadding":6,"grid":true,"gridOpacity":{"condition":{"test":"datum.value%15==0","value":1},"value":0},"tickSize":{"condition":{"test":"datum.value%15==0","value":13},"value":7}}},"stroke":{"field":"comp","type":"nominal","scale":{"domain":["XY","YX","XX","YY"],"range":["#ff0000","#0000ff","#1fb01f","#ff00ff"]},"legend":null}}},
{"transform":[{"filter":{"field":"kind","equal":"Cal_inv"}}],"mark":{"type":"line","strokeWidth":2.5,"clip":true},"encoding":{"x":{"field":"T","type":"quantitative","scale":{"type":"log","domain":[0.00005,2],"nice":false},"axis":{"orient":"top","labels":false,"title":null,"tickSize":{"condition":{"test":"abs(log(datum.value)/LN10-round(log(datum.value)/LN10))<0.001","value":13},"value":7}}},"y":{"field":"v","type":"quantitative","scale":{"type":"linear","domain":[0,90],"nice":false,"zero":false},"axis":{"orient":"right","values":[0,3,6,9,12,15,18,21,24,27,30,33,36,39,42,45,48,51,54,57,60,63,66,69,72,75,78,81,84,87,90],"tickCount":100,"labels":false,"title":null,"tickSize":{"condition":{"test":"datum.value%15==0","value":13},"value":7}}},"stroke":{"field":"comp","type":"nominal","scale":{"domain":["XY","YX","XX","YY"],"range":["#ff0000","#0000ff","#1fb01f","#ff00ff"]},"legend":null}}},
{"transform":[{"filter":{"field":"kind","equal":"Obs"}}],"mark":{"type":"rule","strokeWidth":2.5,"clip":true},"encoding":{"y":{"field":"lo","type":"quantitative","scale":{"type":"linear","domain":[0,90],"nice":false,"zero":false},"axis":null},"y2":{"field":"hi"},"color":{"field":"comp","type":"nominal","scale":{"domain":["XY","YX","XX","YY"],"range":["#b00000","#0000b0","#006e00","#b000b0"]},"legend":null}}},
{"transform":[{"filter":{"field":"kind","equal":"Obs"}}],"mark":{"type":"tick","orient":"horizontal","size":17,"thickness":2.5,"clip":true},"encoding":{"y":{"field":"lo","type":"quantitative","scale":{"type":"linear","domain":[0,90],"nice":false,"zero":false},"axis":null},"color":{"field":"comp","type":"nominal","scale":{"domain":["XY","YX","XX","YY"],"range":["#b00000","#0000b0","#006e00","#b000b0"]},"legend":null}}},
{"transform":[{"filter":{"field":"kind","equal":"Obs"}}],"mark":{"type":"tick","orient":"horizontal","size":17,"thickness":2.5,"clip":true},"encoding":{"y":{"field":"hi","type":"quantitative","scale":{"type":"linear","domain":[0,90],"nice":false,"zero":false},"axis":null},"color":{"field":"comp","type":"nominal","scale":{"domain":["XY","YX","XX","YY"],"range":["#b00000","#0000b0","#006e00","#b000b0"]},"legend":null}}},
{"transform":[{"filter":{"field":"kind","equal":"Obs"}}],"mark":{"type":"point","shape":"diamond","filled":true,"opacity":1,"size":440,"clip":true},"encoding":{"color":{"field":"comp","type":"nominal","scale":{"domain":["XY","YX","XX","YY"],"range":["#b00000","#0000b0","#006e00","#b000b0"]},"legend":null}}}
],"resolve":{"axis":{"x":"independent","y":"independent"}}},
{"width":423,"height":352,"transform":[{"filter":{"and":[{"field":"site","equal":370},{"field":"q","equal":"p"},{"field":"comp","oneOf":["XY","YX"]}]}}],
"encoding":{"x":{"field":"T","type":"quantitative","scale":{"type":"log","domain":[0.00005,2],"nice":false},"axis":null},"y":{"field":"v","type":"quantitative","scale":{"type":"linear","domain":[0,90],"nice":false,"zero":false},"axis":null}},
"layer":[
{"transform":[{"filter":{"field":"kind","equal":"Cal_fill"}}],"mark":{"type":"line","strokeWidth":2.5,"strokeDash":[16,9],"clip":true},"encoding":{"x":{"field":"T","type":"quantitative","scale":{"type":"log","domain":[0.00005,2],"nice":false},"axis":{"orient":"bottom","labelExpr":"datum.value==0.0001?'10⁻⁴':datum.value==0.001?'10⁻³':datum.value==0.01?'10⁻²':datum.value==0.1?'10⁻¹':datum.value==1?'10⁰':''","labelPadding":6,"title":null,"tickSize":{"condition":{"test":"abs(log(datum.value)/LN10-round(log(datum.value)/LN10))<0.001","value":13},"value":7}}},"y":{"field":"v","type":"quantitative","scale":{"type":"linear","domain":[0,90],"nice":false,"zero":false},"axis":{"orient":"left","values":[0,3,6,9,12,15,18,21,24,27,30,33,36,39,42,45,48,51,54,57,60,63,66,69,72,75,78,81,84,87,90],"tickCount":100,"labels":false,"title":null,"grid":true,"gridOpacity":{"condition":{"test":"datum.value%15==0","value":1},"value":0},"tickSize":{"condition":{"test":"datum.value%15==0","value":13},"value":7}}},"stroke":{"field":"comp","type":"nominal","scale":{"domain":["XY","YX","XX","YY"],"range":["#ff0000","#0000ff","#1fb01f","#ff00ff"]},"legend":null}}},
{"transform":[{"filter":{"field":"kind","equal":"Cal_inv"}}],"mark":{"type":"line","strokeWidth":2.5,"clip":true},"encoding":{"x":{"field":"T","type":"quantitative","scale":{"type":"log","domain":[0.00005,2],"nice":false},"axis":{"orient":"top","labels":false,"title":null,"tickSize":{"condition":{"test":"abs(log(datum.value)/LN10-round(log(datum.value)/LN10))<0.001","value":13},"value":7}}},"y":{"field":"v","type":"quantitative","scale":{"type":"linear","domain":[0,90],"nice":false,"zero":false},"axis":{"orient":"right","values":[0,3,6,9,12,15,18,21,24,27,30,33,36,39,42,45,48,51,54,57,60,63,66,69,72,75,78,81,84,87,90],"tickCount":100,"labels":false,"title":null,"tickSize":{"condition":{"test":"datum.value%15==0","value":13},"value":7}}},"stroke":{"field":"comp","type":"nominal","scale":{"domain":["XY","YX","XX","YY"],"range":["#ff0000","#0000ff","#1fb01f","#ff00ff"]},"legend":null}}},
{"transform":[{"filter":{"field":"kind","equal":"Obs"}}],"mark":{"type":"rule","strokeWidth":2.5,"clip":true},"encoding":{"y":{"field":"lo","type":"quantitative","scale":{"type":"linear","domain":[0,90],"nice":false,"zero":false},"axis":null},"y2":{"field":"hi"},"color":{"field":"comp","type":"nominal","scale":{"domain":["XY","YX","XX","YY"],"range":["#b00000","#0000b0","#006e00","#b000b0"]},"legend":null}}},
{"transform":[{"filter":{"field":"kind","equal":"Obs"}}],"mark":{"type":"tick","orient":"horizontal","size":17,"thickness":2.5,"clip":true},"encoding":{"y":{"field":"lo","type":"quantitative","scale":{"type":"linear","domain":[0,90],"nice":false,"zero":false},"axis":null},"color":{"field":"comp","type":"nominal","scale":{"domain":["XY","YX","XX","YY"],"range":["#b00000","#0000b0","#006e00","#b000b0"]},"legend":null}}},
{"transform":[{"filter":{"field":"kind","equal":"Obs"}}],"mark":{"type":"tick","orient":"horizontal","size":17,"thickness":2.5,"clip":true},"encoding":{"y":{"field":"hi","type":"quantitative","scale":{"type":"linear","domain":[0,90],"nice":false,"zero":false},"axis":null},"color":{"field":"comp","type":"nominal","scale":{"domain":["XY","YX","XX","YY"],"range":["#b00000","#0000b0","#006e00","#b000b0"]},"legend":null}}},
{"transform":[{"filter":{"field":"kind","equal":"Obs"}}],"mark":{"type":"point","shape":"diamond","filled":true,"opacity":1,"size":440,"clip":true},"encoding":{"color":{"field":"comp","type":"nominal","scale":{"domain":["XY","YX","XX","YY"],"range":["#b00000","#0000b0","#006e00","#b000b0"]},"legend":null}}}
],"resolve":{"axis":{"x":"independent","y":"independent"}}},
{"width":423,"height":352,"transform":[{"filter":{"and":[{"field":"site","equal":440},{"field":"q","equal":"p"},{"field":"comp","oneOf":["XY","YX"]}]}}],
"encoding":{"x":{"field":"T","type":"quantitative","scale":{"type":"log","domain":[0.00005,2],"nice":false},"axis":null},"y":{"field":"v","type":"quantitative","scale":{"type":"linear","domain":[0,90],"nice":false,"zero":false},"axis":null}},
"layer":[
{"transform":[{"filter":{"field":"kind","equal":"Cal_fill"}}],"mark":{"type":"line","strokeWidth":2.5,"strokeDash":[16,9],"clip":true},"encoding":{"x":{"field":"T","type":"quantitative","scale":{"type":"log","domain":[0.00005,2],"nice":false},"axis":{"orient":"bottom","labelExpr":"datum.value==0.0001?'10⁻⁴':datum.value==0.001?'10⁻³':datum.value==0.01?'10⁻²':datum.value==0.1?'10⁻¹':datum.value==1?'10⁰':''","labelPadding":6,"title":null,"tickSize":{"condition":{"test":"abs(log(datum.value)/LN10-round(log(datum.value)/LN10))<0.001","value":13},"value":7}}},"y":{"field":"v","type":"quantitative","scale":{"type":"linear","domain":[0,90],"nice":false,"zero":false},"axis":{"orient":"left","values":[0,3,6,9,12,15,18,21,24,27,30,33,36,39,42,45,48,51,54,57,60,63,66,69,72,75,78,81,84,87,90],"tickCount":100,"labels":false,"title":null,"grid":true,"gridOpacity":{"condition":{"test":"datum.value%15==0","value":1},"value":0},"tickSize":{"condition":{"test":"datum.value%15==0","value":13},"value":7}}},"stroke":{"field":"comp","type":"nominal","scale":{"domain":["XY","YX","XX","YY"],"range":["#ff0000","#0000ff","#1fb01f","#ff00ff"]},"legend":null}}},
{"transform":[{"filter":{"field":"kind","equal":"Cal_inv"}}],"mark":{"type":"line","strokeWidth":2.5,"clip":true},"encoding":{"x":{"field":"T","type":"quantitative","scale":{"type":"log","domain":[0.00005,2],"nice":false},"axis":{"orient":"top","labels":false,"title":null,"tickSize":{"condition":{"test":"abs(log(datum.value)/LN10-round(log(datum.value)/LN10))<0.001","value":13},"value":7}}},"y":{"field":"v","type":"quantitative","scale":{"type":"linear","domain":[0,90],"nice":false,"zero":false},"axis":{"orient":"right","values":[0,3,6,9,12,15,18,21,24,27,30,33,36,39,42,45,48,51,54,57,60,63,66,69,72,75,78,81,84,87,90],"tickCount":100,"labels":false,"title":null,"tickSize":{"condition":{"test":"datum.value%15==0","value":13},"value":7}}},"stroke":{"field":"comp","type":"nominal","scale":{"domain":["XY","YX","XX","YY"],"range":["#ff0000","#0000ff","#1fb01f","#ff00ff"]},"legend":null}}},
{"transform":[{"filter":{"field":"kind","equal":"Obs"}}],"mark":{"type":"rule","strokeWidth":2.5,"clip":true},"encoding":{"y":{"field":"lo","type":"quantitative","scale":{"type":"linear","domain":[0,90],"nice":false,"zero":false},"axis":null},"y2":{"field":"hi"},"color":{"field":"comp","type":"nominal","scale":{"domain":["XY","YX","XX","YY"],"range":["#b00000","#0000b0","#006e00","#b000b0"]},"legend":null}}},
{"transform":[{"filter":{"field":"kind","equal":"Obs"}}],"mark":{"type":"tick","orient":"horizontal","size":17,"thickness":2.5,"clip":true},"encoding":{"y":{"field":"lo","type":"quantitative","scale":{"type":"linear","domain":[0,90],"nice":false,"zero":false},"axis":null},"color":{"field":"comp","type":"nominal","scale":{"domain":["XY","YX","XX","YY"],"range":["#b00000","#0000b0","#006e00","#b000b0"]},"legend":null}}},
{"transform":[{"filter":{"field":"kind","equal":"Obs"}}],"mark":{"type":"tick","orient":"horizontal","size":17,"thickness":2.5,"clip":true},"encoding":{"y":{"field":"hi","type":"quantitative","scale":{"type":"linear","domain":[0,90],"nice":false,"zero":false},"axis":null},"color":{"field":"comp","type":"nominal","scale":{"domain":["XY","YX","XX","YY"],"range":["#b00000","#0000b0","#006e00","#b000b0"]},"legend":null}}},
{"transform":[{"filter":{"field":"kind","equal":"Obs"}}],"mark":{"type":"point","shape":"diamond","filled":true,"opacity":1,"size":440,"clip":true},"encoding":{"color":{"field":"comp","type":"nominal","scale":{"domain":["XY","YX","XX","YY"],"range":["#b00000","#0000b0","#006e00","#b000b0"]},"legend":null}}}
],"resolve":{"axis":{"x":"independent","y":"independent"}}},
{"width":423,"height":352,"transform":[{"filter":{"and":[{"field":"site","equal":520},{"field":"q","equal":"p"},{"field":"comp","oneOf":["XY","YX"]}]}}],
"encoding":{"x":{"field":"T","type":"quantitative","scale":{"type":"log","domain":[0.00005,2],"nice":false},"axis":null},"y":{"field":"v","type":"quantitative","scale":{"type":"linear","domain":[0,90],"nice":false,"zero":false},"axis":null}},
"layer":[
{"transform":[{"filter":{"field":"kind","equal":"Cal_fill"}}],"mark":{"type":"line","strokeWidth":2.5,"strokeDash":[16,9],"clip":true},"encoding":{"x":{"field":"T","type":"quantitative","scale":{"type":"log","domain":[0.00005,2],"nice":false},"axis":{"orient":"bottom","labelExpr":"datum.value==0.0001?'10⁻⁴':datum.value==0.001?'10⁻³':datum.value==0.01?'10⁻²':datum.value==0.1?'10⁻¹':datum.value==1?'10⁰':''","labelPadding":6,"title":null,"tickSize":{"condition":{"test":"abs(log(datum.value)/LN10-round(log(datum.value)/LN10))<0.001","value":13},"value":7}}},"y":{"field":"v","type":"quantitative","scale":{"type":"linear","domain":[0,90],"nice":false,"zero":false},"axis":{"orient":"left","values":[0,3,6,9,12,15,18,21,24,27,30,33,36,39,42,45,48,51,54,57,60,63,66,69,72,75,78,81,84,87,90],"tickCount":100,"labels":false,"title":null,"grid":true,"gridOpacity":{"condition":{"test":"datum.value%15==0","value":1},"value":0},"tickSize":{"condition":{"test":"datum.value%15==0","value":13},"value":7}}},"stroke":{"field":"comp","type":"nominal","scale":{"domain":["XY","YX","XX","YY"],"range":["#ff0000","#0000ff","#1fb01f","#ff00ff"]},"legend":null}}},
{"transform":[{"filter":{"field":"kind","equal":"Cal_inv"}}],"mark":{"type":"line","strokeWidth":2.5,"clip":true},"encoding":{"x":{"field":"T","type":"quantitative","scale":{"type":"log","domain":[0.00005,2],"nice":false},"axis":{"orient":"top","labels":false,"title":null,"tickSize":{"condition":{"test":"abs(log(datum.value)/LN10-round(log(datum.value)/LN10))<0.001","value":13},"value":7}}},"y":{"field":"v","type":"quantitative","scale":{"type":"linear","domain":[0,90],"nice":false,"zero":false},"axis":{"orient":"right","values":[0,3,6,9,12,15,18,21,24,27,30,33,36,39,42,45,48,51,54,57,60,63,66,69,72,75,78,81,84,87,90],"tickCount":100,"labels":false,"title":null,"tickSize":{"condition":{"test":"datum.value%15==0","value":13},"value":7}}},"stroke":{"field":"comp","type":"nominal","scale":{"domain":["XY","YX","XX","YY"],"range":["#ff0000","#0000ff","#1fb01f","#ff00ff"]},"legend":null}}},
{"transform":[{"filter":{"field":"kind","equal":"Obs"}}],"mark":{"type":"rule","strokeWidth":2.5,"clip":true},"encoding":{"y":{"field":"lo","type":"quantitative","scale":{"type":"linear","domain":[0,90],"nice":false,"zero":false},"axis":null},"y2":{"field":"hi"},"color":{"field":"comp","type":"nominal","scale":{"domain":["XY","YX","XX","YY"],"range":["#b00000","#0000b0","#006e00","#b000b0"]},"legend":null}}},
{"transform":[{"filter":{"field":"kind","equal":"Obs"}}],"mark":{"type":"tick","orient":"horizontal","size":17,"thickness":2.5,"clip":true},"encoding":{"y":{"field":"lo","type":"quantitative","scale":{"type":"linear","domain":[0,90],"nice":false,"zero":false},"axis":null},"color":{"field":"comp","type":"nominal","scale":{"domain":["XY","YX","XX","YY"],"range":["#b00000","#0000b0","#006e00","#b000b0"]},"legend":null}}},
{"transform":[{"filter":{"field":"kind","equal":"Obs"}}],"mark":{"type":"tick","orient":"horizontal","size":17,"thickness":2.5,"clip":true},"encoding":{"y":{"field":"hi","type":"quantitative","scale":{"type":"linear","domain":[0,90],"nice":false,"zero":false},"axis":null},"color":{"field":"comp","type":"nominal","scale":{"domain":["XY","YX","XX","YY"],"range":["#b00000","#0000b0","#006e00","#b000b0"]},"legend":null}}},
{"transform":[{"filter":{"field":"kind","equal":"Obs"}}],"mark":{"type":"point","shape":"diamond","filled":true,"opacity":1,"size":440,"clip":true},"encoding":{"color":{"field":"comp","type":"nominal","scale":{"domain":["XY","YX","XX","YY"],"range":["#b00000","#0000b0","#006e00","#b000b0"]},"legend":null}}}
],"resolve":{"axis":{"x":"independent","y":"independent"}}}
],"spacing":42,"bounds":"flush"}
],"spacing":7},
{"vconcat":[
{"hconcat":[
{"width":423,"height":422,"transform":[{"filter":{"and":[{"field":"site","equal":170},{"field":"q","equal":"r"},{"field":"comp","oneOf":["XX","YY"]}]}}],
"encoding":{"x":{"field":"T","type":"quantitative","scale":{"type":"log","domain":[0.00005,2],"nice":false},"axis":null},"y":{"field":"v","type":"quantitative","scale":{"type":"log","domain":[0.001,1000],"nice":false},"axis":null}},
"layer":[
{"transform":[{"filter":{"field":"kind","equal":"Cal_fill"}}],"mark":{"type":"line","strokeWidth":2.5,"strokeDash":[16,9],"clip":true},"encoding":{"x":{"field":"T","type":"quantitative","scale":{"type":"log","domain":[0.00005,2],"nice":false},"axis":{"orient":"bottom","labels":false,"title":null,"tickSize":{"condition":{"test":"abs(log(datum.value)/LN10-round(log(datum.value)/LN10))<0.001","value":13},"value":7}}},"y":{"field":"v","type":"quantitative","scale":{"type":"log","domain":[0.001,1000],"nice":false},"axis":{"orient":"left","labelExpr":"datum.value==0.001?'10⁻³':datum.value==0.01?'10⁻²':datum.value==0.1?'10⁻¹':datum.value==1?'10⁰':datum.value==10?'10¹':datum.value==100?'10²':datum.value==1000?'10³':''","title":"Apparent resis. [Ωm]","titlePadding":32,"minExtent":60,"maxExtent":60,"labelPadding":6,"grid":true,"gridOpacity":{"condition":{"test":"abs(log(datum.value)/LN10-round(log(datum.value)/LN10))<0.001","value":1},"value":0},"tickSize":{"condition":{"test":"abs(log(datum.value)/LN10-round(log(datum.value)/LN10))<0.001","value":13},"value":7}}},"stroke":{"field":"comp","type":"nominal","scale":{"domain":["XY","YX","XX","YY"],"range":["#ff0000","#0000ff","#1fb01f","#ff00ff"]},"legend":null}}},
{"transform":[{"filter":{"field":"kind","equal":"Cal_inv"}}],"mark":{"type":"line","strokeWidth":2.5,"clip":true},"encoding":{"x":{"field":"T","type":"quantitative","scale":{"type":"log","domain":[0.00005,2],"nice":false},"axis":{"orient":"top","labels":false,"title":null,"tickSize":{"condition":{"test":"abs(log(datum.value)/LN10-round(log(datum.value)/LN10))<0.001","value":13},"value":7}}},"y":{"field":"v","type":"quantitative","scale":{"type":"log","domain":[0.001,1000],"nice":false},"axis":{"orient":"right","labels":false,"title":null,"tickSize":{"condition":{"test":"abs(log(datum.value)/LN10-round(log(datum.value)/LN10))<0.001","value":13},"value":7}}},"stroke":{"field":"comp","type":"nominal","scale":{"domain":["XY","YX","XX","YY"],"range":["#ff0000","#0000ff","#1fb01f","#ff00ff"]},"legend":null}}},
{"transform":[{"filter":{"field":"kind","equal":"Obs"}}],"mark":{"type":"rule","strokeWidth":2.5,"clip":true},"encoding":{"y":{"field":"lo","type":"quantitative","scale":{"type":"log","domain":[0.001,1000],"nice":false},"axis":null},"y2":{"field":"hi"},"color":{"field":"comp","type":"nominal","scale":{"domain":["XY","YX","XX","YY"],"range":["#b00000","#0000b0","#006e00","#b000b0"]},"legend":null}}},
{"transform":[{"filter":{"field":"kind","equal":"Obs"}}],"mark":{"type":"tick","orient":"horizontal","size":17,"thickness":2.5,"clip":true},"encoding":{"y":{"field":"lo","type":"quantitative","scale":{"type":"log","domain":[0.001,1000],"nice":false},"axis":null},"color":{"field":"comp","type":"nominal","scale":{"domain":["XY","YX","XX","YY"],"range":["#b00000","#0000b0","#006e00","#b000b0"]},"legend":null}}},
{"transform":[{"filter":{"field":"kind","equal":"Obs"}}],"mark":{"type":"tick","orient":"horizontal","size":17,"thickness":2.5,"clip":true},"encoding":{"y":{"field":"hi","type":"quantitative","scale":{"type":"log","domain":[0.001,1000],"nice":false},"axis":null},"color":{"field":"comp","type":"nominal","scale":{"domain":["XY","YX","XX","YY"],"range":["#b00000","#0000b0","#006e00","#b000b0"]},"legend":null}}},
{"transform":[{"filter":{"field":"kind","equal":"Obs"}}],"mark":{"type":"point","shape":"diamond","filled":true,"opacity":1,"size":440,"clip":true},"encoding":{"color":{"field":"comp","type":"nominal","scale":{"domain":["XY","YX","XX","YY"],"range":["#b00000","#0000b0","#006e00","#b000b0"]},"legend":null}}}
],"resolve":{"axis":{"x":"independent","y":"independent"}}},
{"width":423,"height":422,"transform":[{"filter":{"and":[{"field":"site","equal":370},{"field":"q","equal":"r"},{"field":"comp","oneOf":["XX","YY"]}]}}],
"encoding":{"x":{"field":"T","type":"quantitative","scale":{"type":"log","domain":[0.00005,2],"nice":false},"axis":null},"y":{"field":"v","type":"quantitative","scale":{"type":"log","domain":[0.001,1000],"nice":false},"axis":null}},
"layer":[
{"transform":[{"filter":{"field":"kind","equal":"Cal_fill"}}],"mark":{"type":"line","strokeWidth":2.5,"strokeDash":[16,9],"clip":true},"encoding":{"x":{"field":"T","type":"quantitative","scale":{"type":"log","domain":[0.00005,2],"nice":false},"axis":{"orient":"bottom","labels":false,"title":null,"tickSize":{"condition":{"test":"abs(log(datum.value)/LN10-round(log(datum.value)/LN10))<0.001","value":13},"value":7}}},"y":{"field":"v","type":"quantitative","scale":{"type":"log","domain":[0.001,1000],"nice":false},"axis":{"orient":"left","labels":false,"title":null,"grid":true,"gridOpacity":{"condition":{"test":"abs(log(datum.value)/LN10-round(log(datum.value)/LN10))<0.001","value":1},"value":0},"tickSize":{"condition":{"test":"abs(log(datum.value)/LN10-round(log(datum.value)/LN10))<0.001","value":13},"value":7}}},"stroke":{"field":"comp","type":"nominal","scale":{"domain":["XY","YX","XX","YY"],"range":["#ff0000","#0000ff","#1fb01f","#ff00ff"]},"legend":null}}},
{"transform":[{"filter":{"field":"kind","equal":"Cal_inv"}}],"mark":{"type":"line","strokeWidth":2.5,"clip":true},"encoding":{"x":{"field":"T","type":"quantitative","scale":{"type":"log","domain":[0.00005,2],"nice":false},"axis":{"orient":"top","labels":false,"title":null,"tickSize":{"condition":{"test":"abs(log(datum.value)/LN10-round(log(datum.value)/LN10))<0.001","value":13},"value":7}}},"y":{"field":"v","type":"quantitative","scale":{"type":"log","domain":[0.001,1000],"nice":false},"axis":{"orient":"right","labels":false,"title":null,"tickSize":{"condition":{"test":"abs(log(datum.value)/LN10-round(log(datum.value)/LN10))<0.001","value":13},"value":7}}},"stroke":{"field":"comp","type":"nominal","scale":{"domain":["XY","YX","XX","YY"],"range":["#ff0000","#0000ff","#1fb01f","#ff00ff"]},"legend":null}}},
{"transform":[{"filter":{"field":"kind","equal":"Obs"}}],"mark":{"type":"rule","strokeWidth":2.5,"clip":true},"encoding":{"y":{"field":"lo","type":"quantitative","scale":{"type":"log","domain":[0.001,1000],"nice":false},"axis":null},"y2":{"field":"hi"},"color":{"field":"comp","type":"nominal","scale":{"domain":["XY","YX","XX","YY"],"range":["#b00000","#0000b0","#006e00","#b000b0"]},"legend":null}}},
{"transform":[{"filter":{"field":"kind","equal":"Obs"}}],"mark":{"type":"tick","orient":"horizontal","size":17,"thickness":2.5,"clip":true},"encoding":{"y":{"field":"lo","type":"quantitative","scale":{"type":"log","domain":[0.001,1000],"nice":false},"axis":null},"color":{"field":"comp","type":"nominal","scale":{"domain":["XY","YX","XX","YY"],"range":["#b00000","#0000b0","#006e00","#b000b0"]},"legend":null}}},
{"transform":[{"filter":{"field":"kind","equal":"Obs"}}],"mark":{"type":"tick","orient":"horizontal","size":17,"thickness":2.5,"clip":true},"encoding":{"y":{"field":"hi","type":"quantitative","scale":{"type":"log","domain":[0.001,1000],"nice":false},"axis":null},"color":{"field":"comp","type":"nominal","scale":{"domain":["XY","YX","XX","YY"],"range":["#b00000","#0000b0","#006e00","#b000b0"]},"legend":null}}},
{"transform":[{"filter":{"field":"kind","equal":"Obs"}}],"mark":{"type":"point","shape":"diamond","filled":true,"opacity":1,"size":440,"clip":true},"encoding":{"color":{"field":"comp","type":"nominal","scale":{"domain":["XY","YX","XX","YY"],"range":["#b00000","#0000b0","#006e00","#b000b0"]},"legend":null}}}
],"resolve":{"axis":{"x":"independent","y":"independent"}}},
{"width":423,"height":422,"transform":[{"filter":{"and":[{"field":"site","equal":440},{"field":"q","equal":"r"},{"field":"comp","oneOf":["XX","YY"]}]}}],
"encoding":{"x":{"field":"T","type":"quantitative","scale":{"type":"log","domain":[0.00005,2],"nice":false},"axis":null},"y":{"field":"v","type":"quantitative","scale":{"type":"log","domain":[0.001,1000],"nice":false},"axis":null}},
"layer":[
{"transform":[{"filter":{"field":"kind","equal":"Cal_fill"}}],"mark":{"type":"line","strokeWidth":2.5,"strokeDash":[16,9],"clip":true},"encoding":{"x":{"field":"T","type":"quantitative","scale":{"type":"log","domain":[0.00005,2],"nice":false},"axis":{"orient":"bottom","labels":false,"title":null,"tickSize":{"condition":{"test":"abs(log(datum.value)/LN10-round(log(datum.value)/LN10))<0.001","value":13},"value":7}}},"y":{"field":"v","type":"quantitative","scale":{"type":"log","domain":[0.001,1000],"nice":false},"axis":{"orient":"left","labels":false,"title":null,"grid":true,"gridOpacity":{"condition":{"test":"abs(log(datum.value)/LN10-round(log(datum.value)/LN10))<0.001","value":1},"value":0},"tickSize":{"condition":{"test":"abs(log(datum.value)/LN10-round(log(datum.value)/LN10))<0.001","value":13},"value":7}}},"stroke":{"field":"comp","type":"nominal","scale":{"domain":["XY","YX","XX","YY"],"range":["#ff0000","#0000ff","#1fb01f","#ff00ff"]},"legend":null}}},
{"transform":[{"filter":{"field":"kind","equal":"Cal_inv"}}],"mark":{"type":"line","strokeWidth":2.5,"clip":true},"encoding":{"x":{"field":"T","type":"quantitative","scale":{"type":"log","domain":[0.00005,2],"nice":false},"axis":{"orient":"top","labels":false,"title":null,"tickSize":{"condition":{"test":"abs(log(datum.value)/LN10-round(log(datum.value)/LN10))<0.001","value":13},"value":7}}},"y":{"field":"v","type":"quantitative","scale":{"type":"log","domain":[0.001,1000],"nice":false},"axis":{"orient":"right","labels":false,"title":null,"tickSize":{"condition":{"test":"abs(log(datum.value)/LN10-round(log(datum.value)/LN10))<0.001","value":13},"value":7}}},"stroke":{"field":"comp","type":"nominal","scale":{"domain":["XY","YX","XX","YY"],"range":["#ff0000","#0000ff","#1fb01f","#ff00ff"]},"legend":null}}},
{"transform":[{"filter":{"field":"kind","equal":"Obs"}}],"mark":{"type":"rule","strokeWidth":2.5,"clip":true},"encoding":{"y":{"field":"lo","type":"quantitative","scale":{"type":"log","domain":[0.001,1000],"nice":false},"axis":null},"y2":{"field":"hi"},"color":{"field":"comp","type":"nominal","scale":{"domain":["XY","YX","XX","YY"],"range":["#b00000","#0000b0","#006e00","#b000b0"]},"legend":null}}},
{"transform":[{"filter":{"field":"kind","equal":"Obs"}}],"mark":{"type":"tick","orient":"horizontal","size":17,"thickness":2.5,"clip":true},"encoding":{"y":{"field":"lo","type":"quantitative","scale":{"type":"log","domain":[0.001,1000],"nice":false},"axis":null},"color":{"field":"comp","type":"nominal","scale":{"domain":["XY","YX","XX","YY"],"range":["#b00000","#0000b0","#006e00","#b000b0"]},"legend":null}}},
{"transform":[{"filter":{"field":"kind","equal":"Obs"}}],"mark":{"type":"tick","orient":"horizontal","size":17,"thickness":2.5,"clip":true},"encoding":{"y":{"field":"hi","type":"quantitative","scale":{"type":"log","domain":[0.001,1000],"nice":false},"axis":null},"color":{"field":"comp","type":"nominal","scale":{"domain":["XY","YX","XX","YY"],"range":["#b00000","#0000b0","#006e00","#b000b0"]},"legend":null}}},
{"transform":[{"filter":{"field":"kind","equal":"Obs"}}],"mark":{"type":"point","shape":"diamond","filled":true,"opacity":1,"size":440,"clip":true},"encoding":{"color":{"field":"comp","type":"nominal","scale":{"domain":["XY","YX","XX","YY"],"range":["#b00000","#0000b0","#006e00","#b000b0"]},"legend":null}}}
],"resolve":{"axis":{"x":"independent","y":"independent"}}},
{"width":423,"height":422,"transform":[{"filter":{"and":[{"field":"site","equal":520},{"field":"q","equal":"r"},{"field":"comp","oneOf":["XX","YY"]}]}}],
"encoding":{"x":{"field":"T","type":"quantitative","scale":{"type":"log","domain":[0.00005,2],"nice":false},"axis":null},"y":{"field":"v","type":"quantitative","scale":{"type":"log","domain":[0.001,1000],"nice":false},"axis":null}},
"layer":[
{"transform":[{"filter":{"field":"kind","equal":"Cal_fill"}}],"mark":{"type":"line","strokeWidth":2.5,"strokeDash":[16,9],"clip":true},"encoding":{"x":{"field":"T","type":"quantitative","scale":{"type":"log","domain":[0.00005,2],"nice":false},"axis":{"orient":"bottom","labels":false,"title":null,"tickSize":{"condition":{"test":"abs(log(datum.value)/LN10-round(log(datum.value)/LN10))<0.001","value":13},"value":7}}},"y":{"field":"v","type":"quantitative","scale":{"type":"log","domain":[0.001,1000],"nice":false},"axis":{"orient":"left","labels":false,"title":null,"grid":true,"gridOpacity":{"condition":{"test":"abs(log(datum.value)/LN10-round(log(datum.value)/LN10))<0.001","value":1},"value":0},"tickSize":{"condition":{"test":"abs(log(datum.value)/LN10-round(log(datum.value)/LN10))<0.001","value":13},"value":7}}},"stroke":{"field":"comp","type":"nominal","scale":{"domain":["XY","YX","XX","YY"],"range":["#ff0000","#0000ff","#1fb01f","#ff00ff"]},"legend":null}}},
{"transform":[{"filter":{"field":"kind","equal":"Cal_inv"}}],"mark":{"type":"line","strokeWidth":2.5,"clip":true},"encoding":{"x":{"field":"T","type":"quantitative","scale":{"type":"log","domain":[0.00005,2],"nice":false},"axis":{"orient":"top","labels":false,"title":null,"tickSize":{"condition":{"test":"abs(log(datum.value)/LN10-round(log(datum.value)/LN10))<0.001","value":13},"value":7}}},"y":{"field":"v","type":"quantitative","scale":{"type":"log","domain":[0.001,1000],"nice":false},"axis":{"orient":"right","labels":false,"title":null,"tickSize":{"condition":{"test":"abs(log(datum.value)/LN10-round(log(datum.value)/LN10))<0.001","value":13},"value":7}}},"stroke":{"field":"comp","type":"nominal","scale":{"domain":["XY","YX","XX","YY"],"range":["#ff0000","#0000ff","#1fb01f","#ff00ff"]},"legend":null}}},
{"transform":[{"filter":{"field":"kind","equal":"Obs"}}],"mark":{"type":"rule","strokeWidth":2.5,"clip":true},"encoding":{"y":{"field":"lo","type":"quantitative","scale":{"type":"log","domain":[0.001,1000],"nice":false},"axis":null},"y2":{"field":"hi"},"color":{"field":"comp","type":"nominal","scale":{"domain":["XY","YX","XX","YY"],"range":["#b00000","#0000b0","#006e00","#b000b0"]},"legend":null}}},
{"transform":[{"filter":{"field":"kind","equal":"Obs"}}],"mark":{"type":"tick","orient":"horizontal","size":17,"thickness":2.5,"clip":true},"encoding":{"y":{"field":"lo","type":"quantitative","scale":{"type":"log","domain":[0.001,1000],"nice":false},"axis":null},"color":{"field":"comp","type":"nominal","scale":{"domain":["XY","YX","XX","YY"],"range":["#b00000","#0000b0","#006e00","#b000b0"]},"legend":null}}},
{"transform":[{"filter":{"field":"kind","equal":"Obs"}}],"mark":{"type":"tick","orient":"horizontal","size":17,"thickness":2.5,"clip":true},"encoding":{"y":{"field":"hi","type":"quantitative","scale":{"type":"log","domain":[0.001,1000],"nice":false},"axis":null},"color":{"field":"comp","type":"nominal","scale":{"domain":["XY","YX","XX","YY"],"range":["#b00000","#0000b0","#006e00","#b000b0"]},"legend":null}}},
{"transform":[{"filter":{"field":"kind","equal":"Obs"}}],"mark":{"type":"point","shape":"diamond","filled":true,"opacity":1,"size":440,"clip":true},"encoding":{"color":{"field":"comp","type":"nominal","scale":{"domain":["XY","YX","XX","YY"],"range":["#b00000","#0000b0","#006e00","#b000b0"]},"legend":null}}}
],"resolve":{"axis":{"x":"independent","y":"independent"}}}
],"spacing":42,"bounds":"flush"},
{"hconcat":[
{"width":423,"height":352,"transform":[{"filter":{"and":[{"field":"site","equal":170},{"field":"q","equal":"p"},{"field":"comp","oneOf":["XX","YY"]}]}}],
"encoding":{"x":{"field":"T","type":"quantitative","scale":{"type":"log","domain":[0.00005,2],"nice":false},"axis":null},"y":{"field":"v","type":"quantitative","scale":{"type":"linear","domain":[-180,180],"nice":false,"zero":false},"axis":null}},
"layer":[
{"transform":[{"filter":{"field":"kind","equal":"Cal_fill"}}],"mark":{"type":"line","strokeWidth":2.5,"strokeDash":[16,9],"clip":true},"encoding":{"x":{"field":"T","type":"quantitative","scale":{"type":"log","domain":[0.00005,2],"nice":false},"axis":{"orient":"bottom","labelExpr":"datum.value==0.0001?'10⁻⁴':datum.value==0.001?'10⁻³':datum.value==0.01?'10⁻²':datum.value==0.1?'10⁻¹':datum.value==1?'10⁰':''","labelPadding":6,"title":"Period [s]","titlePadding":12,"tickSize":{"condition":{"test":"abs(log(datum.value)/LN10-round(log(datum.value)/LN10))<0.001","value":13},"value":7}}},"y":{"field":"v","type":"quantitative","scale":{"type":"linear","domain":[-180,180],"nice":false,"zero":false},"axis":{"orient":"left","values":[-180,-165,-150,-135,-120,-105,-90,-75,-60,-45,-30,-15,0,15,30,45,60,75,90,105,120,135,150,165,180],"tickCount":100,"labelExpr":"datum.value%90==0?datum.label:''","title":"Phase [deg.]","titlePadding":32,"minExtent":60,"maxExtent":60,"labelPadding":6,"grid":true,"gridOpacity":{"condition":{"test":"datum.value%90==0","value":1},"value":0},"tickSize":{"condition":{"test":"datum.value%90==0","value":13},"value":7}}},"stroke":{"field":"comp","type":"nominal","scale":{"domain":["XY","YX","XX","YY"],"range":["#ff0000","#0000ff","#1fb01f","#ff00ff"]},"legend":null}}},
{"transform":[{"filter":{"field":"kind","equal":"Cal_inv"}}],"mark":{"type":"line","strokeWidth":2.5,"clip":true},"encoding":{"x":{"field":"T","type":"quantitative","scale":{"type":"log","domain":[0.00005,2],"nice":false},"axis":{"orient":"top","labels":false,"title":null,"tickSize":{"condition":{"test":"abs(log(datum.value)/LN10-round(log(datum.value)/LN10))<0.001","value":13},"value":7}}},"y":{"field":"v","type":"quantitative","scale":{"type":"linear","domain":[-180,180],"nice":false,"zero":false},"axis":{"orient":"right","values":[-180,-165,-150,-135,-120,-105,-90,-75,-60,-45,-30,-15,0,15,30,45,60,75,90,105,120,135,150,165,180],"tickCount":100,"labels":false,"title":null,"tickSize":{"condition":{"test":"datum.value%90==0","value":13},"value":7}}},"stroke":{"field":"comp","type":"nominal","scale":{"domain":["XY","YX","XX","YY"],"range":["#ff0000","#0000ff","#1fb01f","#ff00ff"]},"legend":null}}},
{"transform":[{"filter":{"field":"kind","equal":"Obs"}}],"mark":{"type":"rule","strokeWidth":2.5,"clip":true},"encoding":{"y":{"field":"lo","type":"quantitative","scale":{"type":"linear","domain":[-180,180],"nice":false,"zero":false},"axis":null},"y2":{"field":"hi"},"color":{"field":"comp","type":"nominal","scale":{"domain":["XY","YX","XX","YY"],"range":["#b00000","#0000b0","#006e00","#b000b0"]},"legend":null}}},
{"transform":[{"filter":{"field":"kind","equal":"Obs"}}],"mark":{"type":"tick","orient":"horizontal","size":17,"thickness":2.5,"clip":true},"encoding":{"y":{"field":"lo","type":"quantitative","scale":{"type":"linear","domain":[-180,180],"nice":false,"zero":false},"axis":null},"color":{"field":"comp","type":"nominal","scale":{"domain":["XY","YX","XX","YY"],"range":["#b00000","#0000b0","#006e00","#b000b0"]},"legend":null}}},
{"transform":[{"filter":{"field":"kind","equal":"Obs"}}],"mark":{"type":"tick","orient":"horizontal","size":17,"thickness":2.5,"clip":true},"encoding":{"y":{"field":"hi","type":"quantitative","scale":{"type":"linear","domain":[-180,180],"nice":false,"zero":false},"axis":null},"color":{"field":"comp","type":"nominal","scale":{"domain":["XY","YX","XX","YY"],"range":["#b00000","#0000b0","#006e00","#b000b0"]},"legend":null}}},
{"transform":[{"filter":{"field":"kind","equal":"Obs"}}],"mark":{"type":"point","shape":"diamond","filled":true,"opacity":1,"size":440,"clip":true},"encoding":{"color":{"field":"comp","type":"nominal","scale":{"domain":["XY","YX","XX","YY"],"range":["#b00000","#0000b0","#006e00","#b000b0"]},"legend":null}}}
],"resolve":{"axis":{"x":"independent","y":"independent"}}},
{"width":423,"height":352,"transform":[{"filter":{"and":[{"field":"site","equal":370},{"field":"q","equal":"p"},{"field":"comp","oneOf":["XX","YY"]}]}}],
"encoding":{"x":{"field":"T","type":"quantitative","scale":{"type":"log","domain":[0.00005,2],"nice":false},"axis":null},"y":{"field":"v","type":"quantitative","scale":{"type":"linear","domain":[-180,180],"nice":false,"zero":false},"axis":null}},
"layer":[
{"transform":[{"filter":{"field":"kind","equal":"Cal_fill"}}],"mark":{"type":"line","strokeWidth":2.5,"strokeDash":[16,9],"clip":true},"encoding":{"x":{"field":"T","type":"quantitative","scale":{"type":"log","domain":[0.00005,2],"nice":false},"axis":{"orient":"bottom","labelExpr":"datum.value==0.0001?'10⁻⁴':datum.value==0.001?'10⁻³':datum.value==0.01?'10⁻²':datum.value==0.1?'10⁻¹':datum.value==1?'10⁰':''","labelPadding":6,"title":"Period [s]","titlePadding":12,"tickSize":{"condition":{"test":"abs(log(datum.value)/LN10-round(log(datum.value)/LN10))<0.001","value":13},"value":7}}},"y":{"field":"v","type":"quantitative","scale":{"type":"linear","domain":[-180,180],"nice":false,"zero":false},"axis":{"orient":"left","values":[-180,-165,-150,-135,-120,-105,-90,-75,-60,-45,-30,-15,0,15,30,45,60,75,90,105,120,135,150,165,180],"tickCount":100,"labels":false,"title":null,"grid":true,"gridOpacity":{"condition":{"test":"datum.value%90==0","value":1},"value":0},"tickSize":{"condition":{"test":"datum.value%90==0","value":13},"value":7}}},"stroke":{"field":"comp","type":"nominal","scale":{"domain":["XY","YX","XX","YY"],"range":["#ff0000","#0000ff","#1fb01f","#ff00ff"]},"legend":null}}},
{"transform":[{"filter":{"field":"kind","equal":"Cal_inv"}}],"mark":{"type":"line","strokeWidth":2.5,"clip":true},"encoding":{"x":{"field":"T","type":"quantitative","scale":{"type":"log","domain":[0.00005,2],"nice":false},"axis":{"orient":"top","labels":false,"title":null,"tickSize":{"condition":{"test":"abs(log(datum.value)/LN10-round(log(datum.value)/LN10))<0.001","value":13},"value":7}}},"y":{"field":"v","type":"quantitative","scale":{"type":"linear","domain":[-180,180],"nice":false,"zero":false},"axis":{"orient":"right","values":[-180,-165,-150,-135,-120,-105,-90,-75,-60,-45,-30,-15,0,15,30,45,60,75,90,105,120,135,150,165,180],"tickCount":100,"labels":false,"title":null,"tickSize":{"condition":{"test":"datum.value%90==0","value":13},"value":7}}},"stroke":{"field":"comp","type":"nominal","scale":{"domain":["XY","YX","XX","YY"],"range":["#ff0000","#0000ff","#1fb01f","#ff00ff"]},"legend":null}}},
{"transform":[{"filter":{"field":"kind","equal":"Obs"}}],"mark":{"type":"rule","strokeWidth":2.5,"clip":true},"encoding":{"y":{"field":"lo","type":"quantitative","scale":{"type":"linear","domain":[-180,180],"nice":false,"zero":false},"axis":null},"y2":{"field":"hi"},"color":{"field":"comp","type":"nominal","scale":{"domain":["XY","YX","XX","YY"],"range":["#b00000","#0000b0","#006e00","#b000b0"]},"legend":null}}},
{"transform":[{"filter":{"field":"kind","equal":"Obs"}}],"mark":{"type":"tick","orient":"horizontal","size":17,"thickness":2.5,"clip":true},"encoding":{"y":{"field":"lo","type":"quantitative","scale":{"type":"linear","domain":[-180,180],"nice":false,"zero":false},"axis":null},"color":{"field":"comp","type":"nominal","scale":{"domain":["XY","YX","XX","YY"],"range":["#b00000","#0000b0","#006e00","#b000b0"]},"legend":null}}},
{"transform":[{"filter":{"field":"kind","equal":"Obs"}}],"mark":{"type":"tick","orient":"horizontal","size":17,"thickness":2.5,"clip":true},"encoding":{"y":{"field":"hi","type":"quantitative","scale":{"type":"linear","domain":[-180,180],"nice":false,"zero":false},"axis":null},"color":{"field":"comp","type":"nominal","scale":{"domain":["XY","YX","XX","YY"],"range":["#b00000","#0000b0","#006e00","#b000b0"]},"legend":null}}},
{"transform":[{"filter":{"field":"kind","equal":"Obs"}}],"mark":{"type":"point","shape":"diamond","filled":true,"opacity":1,"size":440,"clip":true},"encoding":{"color":{"field":"comp","type":"nominal","scale":{"domain":["XY","YX","XX","YY"],"range":["#b00000","#0000b0","#006e00","#b000b0"]},"legend":null}}}
],"resolve":{"axis":{"x":"independent","y":"independent"}}},
{"width":423,"height":352,"transform":[{"filter":{"and":[{"field":"site","equal":440},{"field":"q","equal":"p"},{"field":"comp","oneOf":["XX","YY"]}]}}],
"encoding":{"x":{"field":"T","type":"quantitative","scale":{"type":"log","domain":[0.00005,2],"nice":false},"axis":null},"y":{"field":"v","type":"quantitative","scale":{"type":"linear","domain":[-180,180],"nice":false,"zero":false},"axis":null}},
"layer":[
{"transform":[{"filter":{"field":"kind","equal":"Cal_fill"}}],"mark":{"type":"line","strokeWidth":2.5,"strokeDash":[16,9],"clip":true},"encoding":{"x":{"field":"T","type":"quantitative","scale":{"type":"log","domain":[0.00005,2],"nice":false},"axis":{"orient":"bottom","labelExpr":"datum.value==0.0001?'10⁻⁴':datum.value==0.001?'10⁻³':datum.value==0.01?'10⁻²':datum.value==0.1?'10⁻¹':datum.value==1?'10⁰':''","labelPadding":6,"title":"Period [s]","titlePadding":12,"tickSize":{"condition":{"test":"abs(log(datum.value)/LN10-round(log(datum.value)/LN10))<0.001","value":13},"value":7}}},"y":{"field":"v","type":"quantitative","scale":{"type":"linear","domain":[-180,180],"nice":false,"zero":false},"axis":{"orient":"left","values":[-180,-165,-150,-135,-120,-105,-90,-75,-60,-45,-30,-15,0,15,30,45,60,75,90,105,120,135,150,165,180],"tickCount":100,"labels":false,"title":null,"grid":true,"gridOpacity":{"condition":{"test":"datum.value%90==0","value":1},"value":0},"tickSize":{"condition":{"test":"datum.value%90==0","value":13},"value":7}}},"stroke":{"field":"comp","type":"nominal","scale":{"domain":["XY","YX","XX","YY"],"range":["#ff0000","#0000ff","#1fb01f","#ff00ff"]},"legend":null}}},
{"transform":[{"filter":{"field":"kind","equal":"Cal_inv"}}],"mark":{"type":"line","strokeWidth":2.5,"clip":true},"encoding":{"x":{"field":"T","type":"quantitative","scale":{"type":"log","domain":[0.00005,2],"nice":false},"axis":{"orient":"top","labels":false,"title":null,"tickSize":{"condition":{"test":"abs(log(datum.value)/LN10-round(log(datum.value)/LN10))<0.001","value":13},"value":7}}},"y":{"field":"v","type":"quantitative","scale":{"type":"linear","domain":[-180,180],"nice":false,"zero":false},"axis":{"orient":"right","values":[-180,-165,-150,-135,-120,-105,-90,-75,-60,-45,-30,-15,0,15,30,45,60,75,90,105,120,135,150,165,180],"tickCount":100,"labels":false,"title":null,"tickSize":{"condition":{"test":"datum.value%90==0","value":13},"value":7}}},"stroke":{"field":"comp","type":"nominal","scale":{"domain":["XY","YX","XX","YY"],"range":["#ff0000","#0000ff","#1fb01f","#ff00ff"]},"legend":null}}},
{"transform":[{"filter":{"field":"kind","equal":"Obs"}}],"mark":{"type":"rule","strokeWidth":2.5,"clip":true},"encoding":{"y":{"field":"lo","type":"quantitative","scale":{"type":"linear","domain":[-180,180],"nice":false,"zero":false},"axis":null},"y2":{"field":"hi"},"color":{"field":"comp","type":"nominal","scale":{"domain":["XY","YX","XX","YY"],"range":["#b00000","#0000b0","#006e00","#b000b0"]},"legend":null}}},
{"transform":[{"filter":{"field":"kind","equal":"Obs"}}],"mark":{"type":"tick","orient":"horizontal","size":17,"thickness":2.5,"clip":true},"encoding":{"y":{"field":"lo","type":"quantitative","scale":{"type":"linear","domain":[-180,180],"nice":false,"zero":false},"axis":null},"color":{"field":"comp","type":"nominal","scale":{"domain":["XY","YX","XX","YY"],"range":["#b00000","#0000b0","#006e00","#b000b0"]},"legend":null}}},
{"transform":[{"filter":{"field":"kind","equal":"Obs"}}],"mark":{"type":"tick","orient":"horizontal","size":17,"thickness":2.5,"clip":true},"encoding":{"y":{"field":"hi","type":"quantitative","scale":{"type":"linear","domain":[-180,180],"nice":false,"zero":false},"axis":null},"color":{"field":"comp","type":"nominal","scale":{"domain":["XY","YX","XX","YY"],"range":["#b00000","#0000b0","#006e00","#b000b0"]},"legend":null}}},
{"transform":[{"filter":{"field":"kind","equal":"Obs"}}],"mark":{"type":"point","shape":"diamond","filled":true,"opacity":1,"size":440,"clip":true},"encoding":{"color":{"field":"comp","type":"nominal","scale":{"domain":["XY","YX","XX","YY"],"range":["#b00000","#0000b0","#006e00","#b000b0"]},"legend":null}}}
],"resolve":{"axis":{"x":"independent","y":"independent"}}},
{"width":423,"height":352,"transform":[{"filter":{"and":[{"field":"site","equal":520},{"field":"q","equal":"p"},{"field":"comp","oneOf":["XX","YY"]}]}}],
"encoding":{"x":{"field":"T","type":"quantitative","scale":{"type":"log","domain":[0.00005,2],"nice":false},"axis":null},"y":{"field":"v","type":"quantitative","scale":{"type":"linear","domain":[-180,180],"nice":false,"zero":false},"axis":null}},
"layer":[
{"transform":[{"filter":{"field":"kind","equal":"Cal_fill"}}],"mark":{"type":"line","strokeWidth":2.5,"strokeDash":[16,9],"clip":true},"encoding":{"x":{"field":"T","type":"quantitative","scale":{"type":"log","domain":[0.00005,2],"nice":false},"axis":{"orient":"bottom","labelExpr":"datum.value==0.0001?'10⁻⁴':datum.value==0.001?'10⁻³':datum.value==0.01?'10⁻²':datum.value==0.1?'10⁻¹':datum.value==1?'10⁰':''","labelPadding":6,"title":"Period [s]","titlePadding":12,"tickSize":{"condition":{"test":"abs(log(datum.value)/LN10-round(log(datum.value)/LN10))<0.001","value":13},"value":7}}},"y":{"field":"v","type":"quantitative","scale":{"type":"linear","domain":[-180,180],"nice":false,"zero":false},"axis":{"orient":"left","values":[-180,-165,-150,-135,-120,-105,-90,-75,-60,-45,-30,-15,0,15,30,45,60,75,90,105,120,135,150,165,180],"tickCount":100,"labels":false,"title":null,"grid":true,"gridOpacity":{"condition":{"test":"datum.value%90==0","value":1},"value":0},"tickSize":{"condition":{"test":"datum.value%90==0","value":13},"value":7}}},"stroke":{"field":"comp","type":"nominal","scale":{"domain":["XY","YX","XX","YY"],"range":["#ff0000","#0000ff","#1fb01f","#ff00ff"]},"legend":null}}},
{"transform":[{"filter":{"field":"kind","equal":"Cal_inv"}}],"mark":{"type":"line","strokeWidth":2.5,"clip":true},"encoding":{"x":{"field":"T","type":"quantitative","scale":{"type":"log","domain":[0.00005,2],"nice":false},"axis":{"orient":"top","labels":false,"title":null,"tickSize":{"condition":{"test":"abs(log(datum.value)/LN10-round(log(datum.value)/LN10))<0.001","value":13},"value":7}}},"y":{"field":"v","type":"quantitative","scale":{"type":"linear","domain":[-180,180],"nice":false,"zero":false},"axis":{"orient":"right","values":[-180,-165,-150,-135,-120,-105,-90,-75,-60,-45,-30,-15,0,15,30,45,60,75,90,105,120,135,150,165,180],"tickCount":100,"labels":false,"title":null,"tickSize":{"condition":{"test":"datum.value%90==0","value":13},"value":7}}},"stroke":{"field":"comp","type":"nominal","scale":{"domain":["XY","YX","XX","YY"],"range":["#ff0000","#0000ff","#1fb01f","#ff00ff"]},"legend":null}}},
{"transform":[{"filter":{"field":"kind","equal":"Obs"}}],"mark":{"type":"rule","strokeWidth":2.5,"clip":true},"encoding":{"y":{"field":"lo","type":"quantitative","scale":{"type":"linear","domain":[-180,180],"nice":false,"zero":false},"axis":null},"y2":{"field":"hi"},"color":{"field":"comp","type":"nominal","scale":{"domain":["XY","YX","XX","YY"],"range":["#b00000","#0000b0","#006e00","#b000b0"]},"legend":null}}},
{"transform":[{"filter":{"field":"kind","equal":"Obs"}}],"mark":{"type":"tick","orient":"horizontal","size":17,"thickness":2.5,"clip":true},"encoding":{"y":{"field":"lo","type":"quantitative","scale":{"type":"linear","domain":[-180,180],"nice":false,"zero":false},"axis":null},"color":{"field":"comp","type":"nominal","scale":{"domain":["XY","YX","XX","YY"],"range":["#b00000","#0000b0","#006e00","#b000b0"]},"legend":null}}},
{"transform":[{"filter":{"field":"kind","equal":"Obs"}}],"mark":{"type":"tick","orient":"horizontal","size":17,"thickness":2.5,"clip":true},"encoding":{"y":{"field":"hi","type":"quantitative","scale":{"type":"linear","domain":[-180,180],"nice":false,"zero":false},"axis":null},"color":{"field":"comp","type":"nominal","scale":{"domain":["XY","YX","XX","YY"],"range":["#b00000","#0000b0","#006e00","#b000b0"]},"legend":null}}},
{"transform":[{"filter":{"field":"kind","equal":"Obs"}}],"mark":{"type":"point","shape":"diamond","filled":true,"opacity":1,"size":440,"clip":true},"encoding":{"color":{"field":"comp","type":"nominal","scale":{"domain":["XY","YX","XX","YY"],"range":["#b00000","#0000b0","#006e00","#b000b0"]},"legend":null}}}
],"resolve":{"axis":{"x":"independent","y":"independent"}}}
],"spacing":42,"bounds":"flush"}
],"spacing":2}
],"spacing":16},
{"hconcat":[
{"width":867,"height":157,"view":{"stroke":"black","strokeWidth":1.5},
"transform":[{"aggregate":[{"op":"count","as":"n"}],"groupby":["comp","kind"]},{"filter":{"field":"comp","oneOf":["XY","YX"]}}],
"encoding":{"x":{"field":"comp","type":"nominal","scale":{"type":"point","domain":["XY","YX"],"padding":0.472,"align":0.43},"axis":null},"y":{"field":"kind","type":"nominal","scale":{"type":"point","domain":["head","gap","Cal_inv","Obs","Cal_fill"],"padding":1.35,"align":0.45},"axis":null}},
"layer":[
{"transform":[{"filter":{"field":"kind","equal":"Obs"}}],"mark":{"type":"text","fontSize":33,"baseline":"middle","align":"center"},"encoding":{"y":{"datum":"head","type":"nominal","scale":{"type":"point","domain":["head","gap","Cal_inv","Obs","Cal_fill"],"padding":1.35,"align":0.45},"axis":null},"text":{"field":"comp"}}},
{"transform":[{"filter":{"field":"kind","equal":"Obs"}}],"mark":{"type":"point","shape":"M-0.62,0L0,-1L0.62,0L0,1Z","filled":true,"opacity":1,"size":576,"xOffset":-134},"encoding":{"color":{"field":"comp","type":"nominal","scale":{"domain":["XY","YX","XX","YY"],"range":["#b00000","#0000b0","#006e00","#b000b0"]},"legend":null}}},
{"transform":[{"filter":{"field":"kind","equal":"Obs"}}],"mark":{"type":"text","fontSize":30,"align":"left","baseline":"middle","dx":-95},"encoding":{"text":{"field":"kind"}}},
{"transform":[{"filter":{"field":"kind","oneOf":["Cal_inv","Cal_fill"]}}],"mark":{"type":"rule","strokeWidth":3,"xOffset":23,"x2Offset":77},"encoding":{"x2":{"field":"comp"},"stroke":{"field":"comp","type":"nominal","scale":{"domain":["XY","YX","XX","YY"],"range":["#ff0000","#0000ff","#1fb01f","#ff00ff"]},"legend":null},"strokeDash":{"field":"kind","type":"nominal","scale":{"domain":["Cal_inv","Cal_fill"],"range":[[1,0],[16,12]]},"legend":null}}},
{"transform":[{"filter":{"field":"kind","oneOf":["Cal_inv","Cal_fill"]}}],"mark":{"type":"text","fontSize":30,"align":"left","baseline":"middle","dx":100},"encoding":{"text":{"field":"kind"}}}
]},
{"width":879,"height":157,"view":{"stroke":"black","strokeWidth":1.5},
"transform":[{"aggregate":[{"op":"count","as":"n"}],"groupby":["comp","kind"]},{"filter":{"field":"comp","oneOf":["XX","YY"]}}],
"encoding":{"x":{"field":"comp","type":"nominal","scale":{"type":"point","domain":["XX","YY"],"padding":0.465,"align":0.433},"axis":null},"y":{"field":"kind","type":"nominal","scale":{"type":"point","domain":["head","gap","Cal_inv","Obs","Cal_fill"],"padding":1.35,"align":0.45},"axis":null}},
"layer":[
{"transform":[{"filter":{"field":"kind","equal":"Obs"}}],"mark":{"type":"text","fontSize":33,"baseline":"middle","align":"center"},"encoding":{"y":{"datum":"head","type":"nominal","scale":{"type":"point","domain":["head","gap","Cal_inv","Obs","Cal_fill"],"padding":1.35,"align":0.45},"axis":null},"text":{"field":"comp"}}},
{"transform":[{"filter":{"field":"kind","equal":"Obs"}}],"mark":{"type":"point","shape":"M-0.62,0L0,-1L0.62,0L0,1Z","filled":true,"opacity":1,"size":576,"xOffset":-134},"encoding":{"color":{"field":"comp","type":"nominal","scale":{"domain":["XY","YX","XX","YY"],"range":["#b00000","#0000b0","#006e00","#b000b0"]},"legend":null}}},
{"transform":[{"filter":{"field":"kind","equal":"Obs"}}],"mark":{"type":"text","fontSize":30,"align":"left","baseline":"middle","dx":-95},"encoding":{"text":{"field":"kind"}}},
{"transform":[{"filter":{"field":"kind","oneOf":["Cal_inv","Cal_fill"]}}],"mark":{"type":"rule","strokeWidth":3,"xOffset":23,"x2Offset":77},"encoding":{"x2":{"field":"comp"},"stroke":{"field":"comp","type":"nominal","scale":{"domain":["XY","YX","XX","YY"],"range":["#ff0000","#0000ff","#1fb01f","#ff00ff"]},"legend":null},"strokeDash":{"field":"kind","type":"nominal","scale":{"domain":["Cal_inv","Cal_fill"],"range":[[1,0],[16,12]]},"legend":null}}},
{"transform":[{"filter":{"field":"kind","oneOf":["Cal_inv","Cal_fill"]}}],"mark":{"type":"text","fontSize":30,"align":"left","baseline":"middle","dx":100},"encoding":{"text":{"field":"kind"}}}
]}
],"spacing":56,"bounds":"flush"}
],
"spacing":64,
"config":{
"view":{"stroke":"black","strokeWidth":3.5,"fill":"white"},
"font":"Liberation Sans",
"axis":{"domain":false,"grid":false,"tickColor":"black","tickWidth":1.6,"tickCount":10,"labelFont":"Liberation Sans","labelFontSize":28,"labelColor":"black","labelOverlap":false,"labelFlush":false,"labelPadding":6,"titleFont":"Liberation Sans","titleFontSize":38,"titleFontWeight":"normal","titleColor":"black","gridColor":"black","gridWidth":1.3},
"title":{"font":"Liberation Serif","fontSize":40,"fontStyle":"italic","fontWeight":"bold","color":"black","offset":12,"anchor":"middle","dx":-18},
"text":{"font":"Liberation Sans","color":"black"}
}
}
